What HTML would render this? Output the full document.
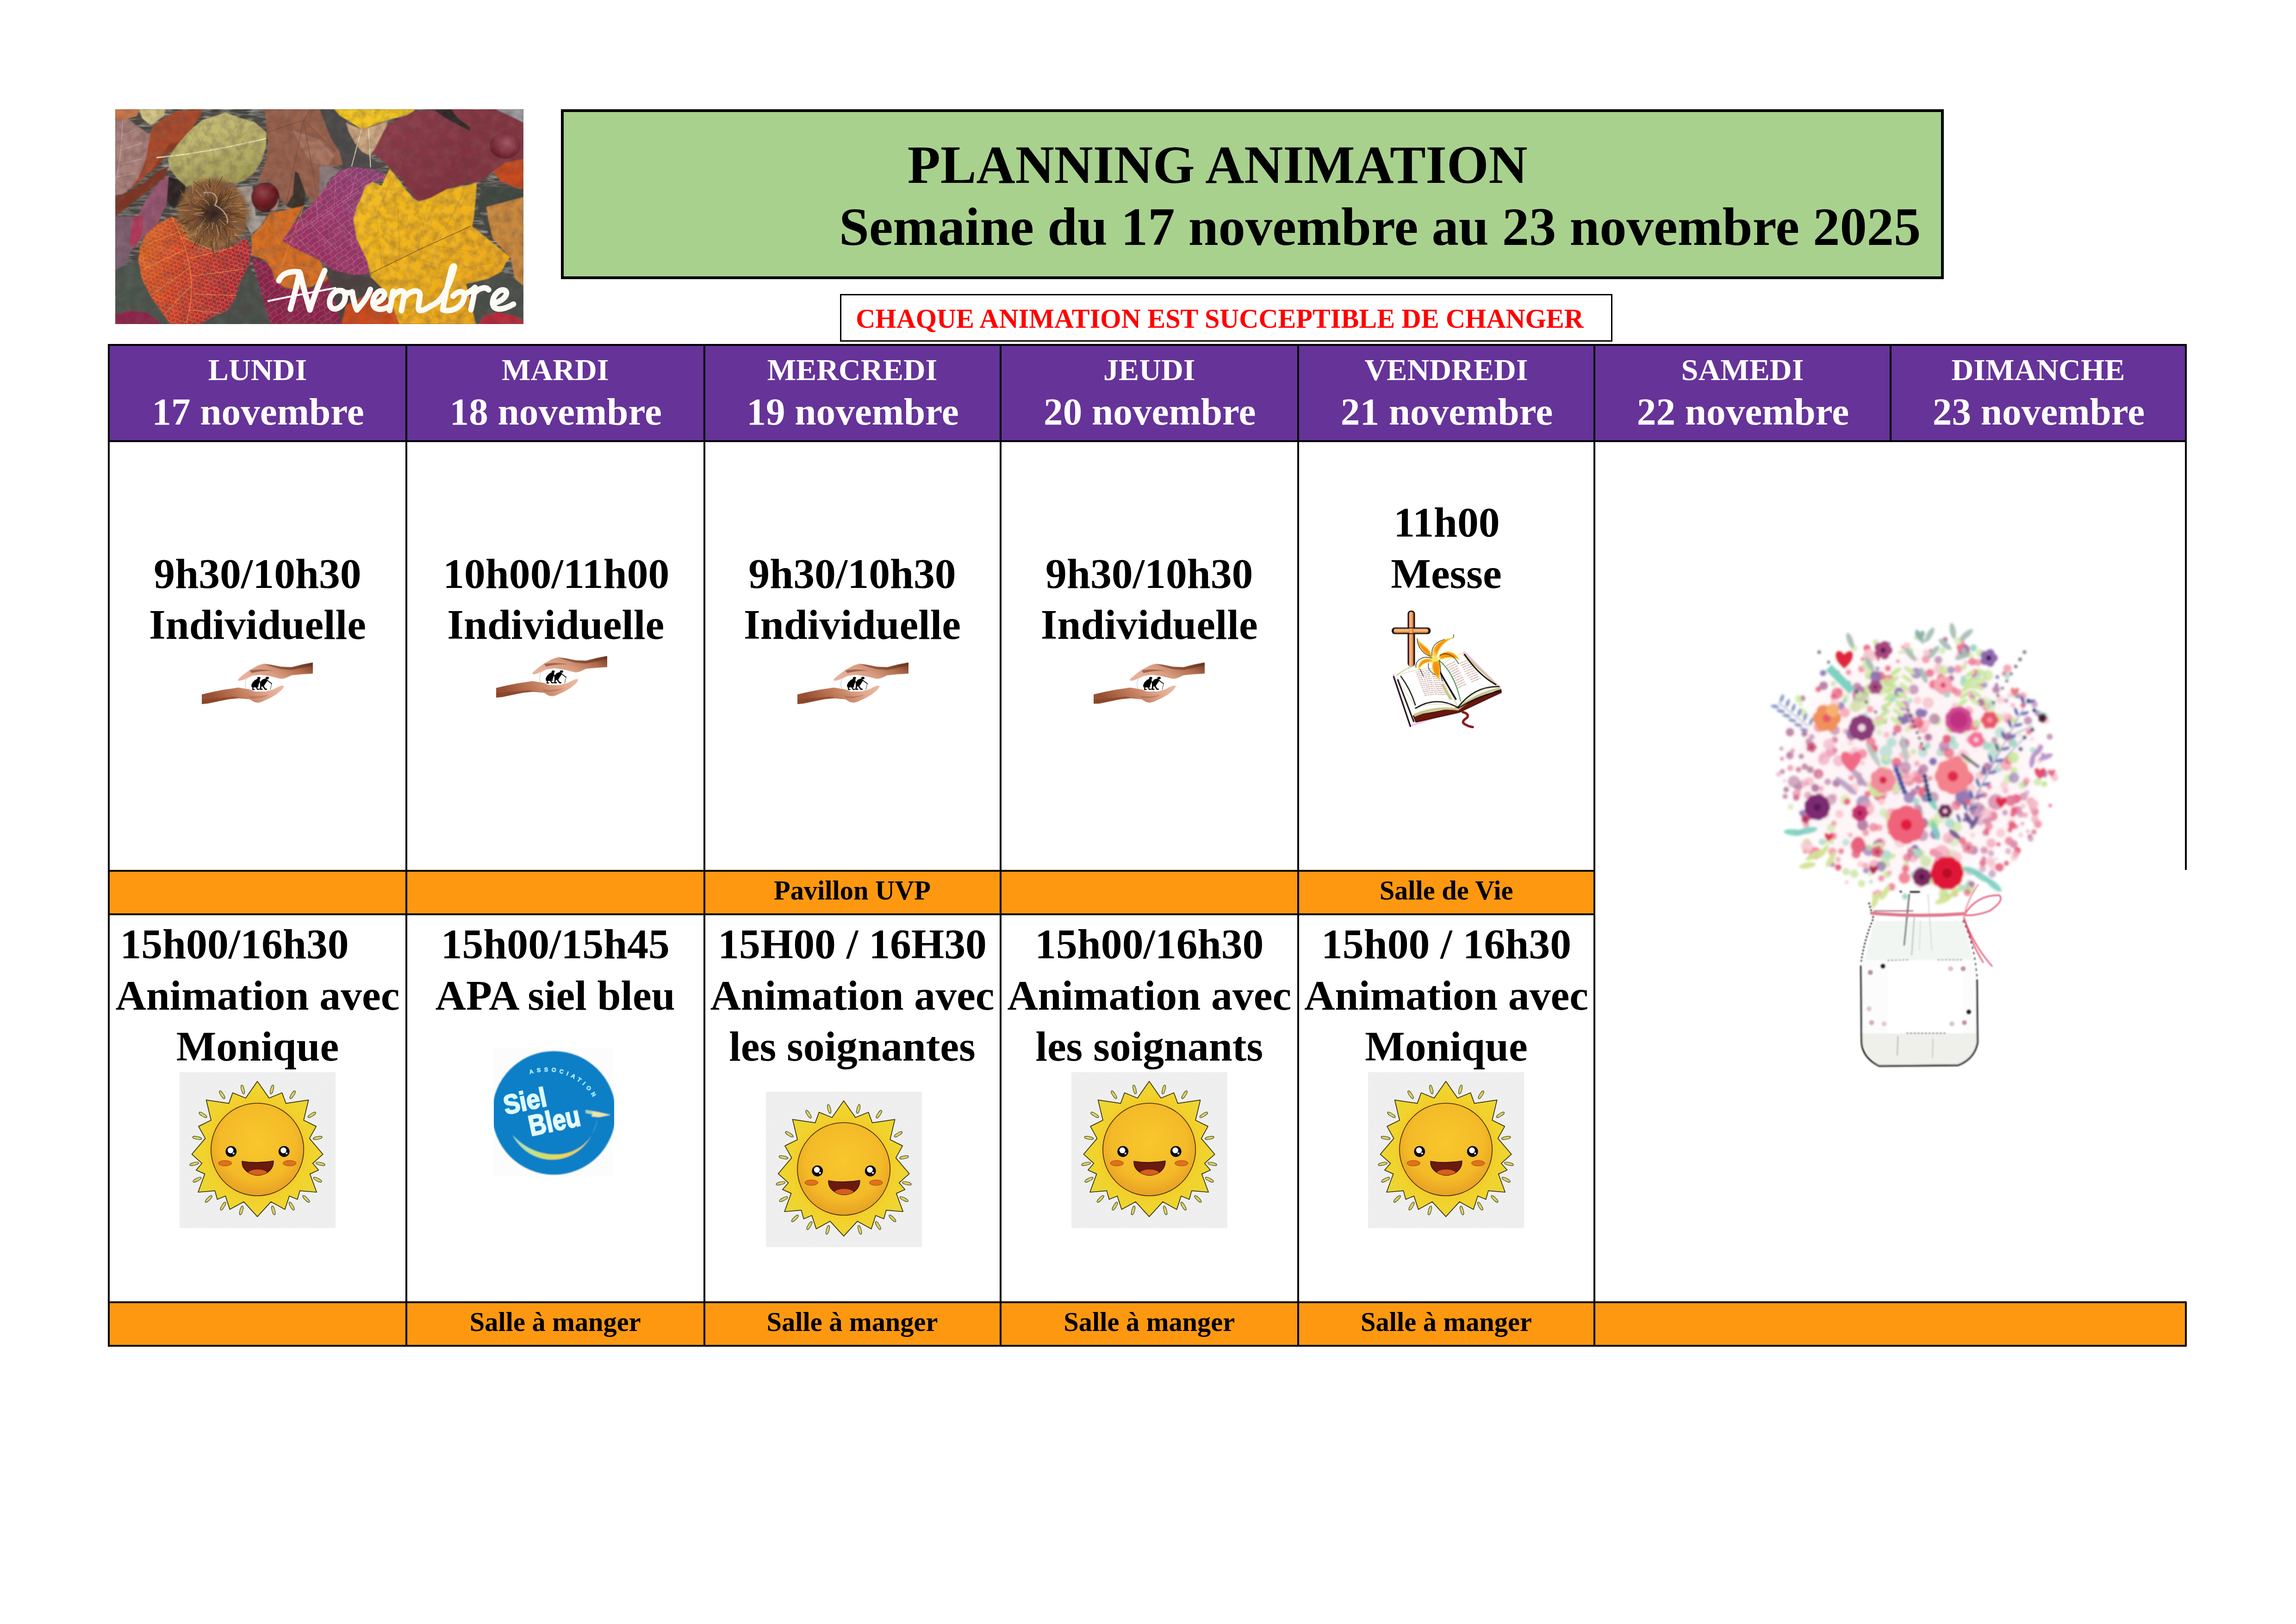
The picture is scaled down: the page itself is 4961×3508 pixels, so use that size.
<!DOCTYPE html>
<html lang="fr"><head><meta charset="utf-8"><title>Planning animation</title>
<style>
html,body{margin:0;padding:0;background:#fff}
body{width:4961px;height:3508px;position:relative;overflow:hidden;font-family:"Liberation Serif",serif;font-weight:bold}
body>div{position:absolute;box-sizing:content-box}
.t{white-space:pre;line-height:1;transform:translateX(-50%)}
svg{display:block;width:100%;height:100%}
</style></head><body>
<div style="left:233px;top:743px;width:4492px;height:208px;background:#663399;"></div>
<div style="left:233px;top:1879px;width:3214px;height:93.5px;background:#FE9810;"></div>
<div style="left:233px;top:2811px;width:4492px;height:93.5px;background:#FE9810;"></div>
<div style="left:233px;top:743px;width:4492px;height:4px;background:#000;"></div>
<div style="left:233px;top:951px;width:4492px;height:4px;background:#000;"></div>
<div style="left:233px;top:1879px;width:3214px;height:4px;background:#000;"></div>
<div style="left:233px;top:1972.5px;width:3214px;height:4px;background:#000;"></div>
<div style="left:233px;top:2811px;width:4492px;height:4px;background:#000;"></div>
<div style="left:233px;top:2904.5px;width:4492px;height:4px;background:#000;"></div>
<div style="left:233px;top:743px;width:4px;height:2165.5px;background:#000;"></div>
<div style="left:876px;top:743px;width:4px;height:2165.5px;background:#000;"></div>
<div style="left:1519.5px;top:743px;width:4px;height:2165.5px;background:#000;"></div>
<div style="left:2159.5px;top:743px;width:4px;height:2165.5px;background:#000;"></div>
<div style="left:2803px;top:743px;width:4px;height:2165.5px;background:#000;"></div>
<div style="left:3443px;top:743px;width:4px;height:2165.5px;background:#000;"></div>
<div style="left:4083px;top:743px;width:4px;height:212px;background:#000;"></div>
<div style="left:4721px;top:743px;width:4px;height:1136px;background:#000;"></div>
<div style="left:4721px;top:2811px;width:4px;height:97.5px;background:#000;"></div>
<div style="left:1212px;top:236px;width:2976px;height:355px;background:#A9D18E;border:6px solid #000"></div>
<div class="t" style="left:2630.7px;top:297.51px;font-size:116.4px;color:#000">PLANNING ANIMATION</div>
<div class="t" style="left:2981.7px;top:431.95px;font-size:116.6px;color:#000">Semaine du 17 novembre au 23 novembre 2025</div>
<div style="left:1815px;top:635px;width:1662.5px;height:97px;background:#fff;border:3.2px solid #000"></div>
<div class="t" style="left:2635.55px;top:660.02px;font-size:58.25px;color:#FF0000">CHAQUE ANIMATION EST SUCCEPTIBLE DE CHANGER</div>
<div class="t" style="left:556.5px;top:765.56px;font-size:66.2px;color:#fff">LUNDI</div>
<div class="t" style="left:557.5px;top:848.32px;font-size:83.2px;color:#fff">17 novembre</div>
<div class="t" style="left:1199.75px;top:765.56px;font-size:66.2px;color:#fff">MARDI</div>
<div class="t" style="left:1200.75px;top:848.32px;font-size:83.2px;color:#fff">18 novembre</div>
<div class="t" style="left:1841.5px;top:765.56px;font-size:66.2px;color:#fff">MERCREDI</div>
<div class="t" style="left:1842.5px;top:848.32px;font-size:83.2px;color:#fff">19 novembre</div>
<div class="t" style="left:2483.25px;top:765.56px;font-size:66.2px;color:#fff">JEUDI</div>
<div class="t" style="left:2484.25px;top:848.32px;font-size:83.2px;color:#fff">20 novembre</div>
<div class="t" style="left:3125.0px;top:765.56px;font-size:66.2px;color:#fff">VENDREDI</div>
<div class="t" style="left:3126.0px;top:848.32px;font-size:83.2px;color:#fff">21 novembre</div>
<div class="t" style="left:3765.0px;top:765.56px;font-size:66.2px;color:#fff">SAMEDI</div>
<div class="t" style="left:3766.0px;top:848.32px;font-size:83.2px;color:#fff">22 novembre</div>
<div class="t" style="left:4404.0px;top:765.56px;font-size:66.2px;color:#fff">DIMANCHE</div>
<div class="t" style="left:4405.0px;top:848.32px;font-size:83.2px;color:#fff">23 novembre</div>
<div class="t" style="left:556.5px;top:1193.70px;font-size:91.7px;color:#000">9h30/10h30</div>
<div class="t" style="left:556.5px;top:1303.70px;font-size:91.7px;color:#000">Individuelle</div>
<div class="t" style="left:1201.75px;top:1193.70px;font-size:91.7px;color:#000">10h00/11h00</div>
<div class="t" style="left:1200.75px;top:1303.70px;font-size:91.7px;color:#000">Individuelle</div>
<div class="t" style="left:1841.5px;top:1193.70px;font-size:91.7px;color:#000">9h30/10h30</div>
<div class="t" style="left:1841.5px;top:1303.70px;font-size:91.7px;color:#000">Individuelle</div>
<div class="t" style="left:2483.25px;top:1193.70px;font-size:91.7px;color:#000">9h30/10h30</div>
<div class="t" style="left:2483.25px;top:1303.70px;font-size:91.7px;color:#000">Individuelle</div>
<div class="t" style="left:3126.0px;top:1082.70px;font-size:91.7px;color:#000">11h00</div>
<div class="t" style="left:3125.0px;top:1193.70px;font-size:91.7px;color:#000">Messe</div>
<div class="t" style="left:506.5px;top:1993.70px;font-size:91.7px;color:#000">15h00/16h30</div>
<div class="t" style="left:556.5px;top:2104.70px;font-size:91.7px;color:#000">Animation avec</div>
<div class="t" style="left:556.5px;top:2215.20px;font-size:91.7px;color:#000">Monique</div>
<div class="t" style="left:1199.75px;top:1993.70px;font-size:91.7px;color:#000">15h00/15h45</div>
<div class="t" style="left:1199.75px;top:2104.70px;font-size:91.7px;color:#000">APA siel bleu</div>
<div class="t" style="left:1841.5px;top:1993.70px;font-size:91.7px;color:#000">15H00 / 16H30</div>
<div class="t" style="left:1841.5px;top:2104.70px;font-size:91.7px;color:#000">Animation avec</div>
<div class="t" style="left:1841.5px;top:2215.20px;font-size:91.7px;color:#000">les soignantes</div>
<div class="t" style="left:2483.25px;top:1993.70px;font-size:91.7px;color:#000">15h00/16h30</div>
<div class="t" style="left:2483.25px;top:2104.70px;font-size:91.7px;color:#000">Animation avec</div>
<div class="t" style="left:2483.25px;top:2215.20px;font-size:91.7px;color:#000">les soignants</div>
<div class="t" style="left:3125.0px;top:1993.70px;font-size:91.7px;color:#000">15h00 / 16h30</div>
<div class="t" style="left:3125.0px;top:2104.70px;font-size:91.7px;color:#000">Animation avec</div>
<div class="t" style="left:3125.0px;top:2215.20px;font-size:91.7px;color:#000">Monique</div>
<div class="t" style="left:1841.5px;top:1895.09px;font-size:58.4px;color:#000">Pavillon UVP</div>
<div class="t" style="left:3125.0px;top:1895.09px;font-size:58.4px;color:#000">Salle de Vie</div>
<div class="t" style="left:1199.75px;top:2827.09px;font-size:58.4px;color:#000">Salle à manger</div>
<div class="t" style="left:1841.5px;top:2827.09px;font-size:58.4px;color:#000">Salle à manger</div>
<div class="t" style="left:2483.25px;top:2827.09px;font-size:58.4px;color:#000">Salle à manger</div>
<div class="t" style="left:3125.0px;top:2827.09px;font-size:58.4px;color:#000">Salle à manger</div>
<div style="left:249px;top:235.5px;width:882px;height:464px"><svg viewBox="0 0 2296 1210" preserveAspectRatio="none">
<defs>
<filter id="pb" x="-5%" y="-5%" width="110%" height="110%"><feGaussianBlur stdDeviation="3.2"/></filter>
<filter id="pb2" x="-5%" y="-5%" width="110%" height="110%"><feGaussianBlur stdDeviation="1.6"/></filter>
<filter id="bark" x="0" y="0" width="100%" height="100%"><feTurbulence type="fractalNoise" baseFrequency="0.012 0.06" numOctaves="3" seed="4" result="n"/><feColorMatrix in="n" type="matrix" values="0 0 0 0 0.55  0 0 0 0 0.56  0 0 0 0 0.54  1.1 1.1 0 0 -0.95"/></filter>
<radialGradient id="husk" cx="50%" cy="50%" r="50%"><stop offset="0" stop-color="#2e2018"/><stop offset="0.28" stop-color="#4a3222"/><stop offset="0.55" stop-color="#7e5432"/><stop offset="0.85" stop-color="#8a6038"/><stop offset="1" stop-color="#8a6038" stop-opacity="0"/></radialGradient>
<radialGradient id="nut" cx="40%" cy="35%" r="70%"><stop offset="0" stop-color="#963a42"/><stop offset="0.55" stop-color="#6c1c22"/><stop offset="1" stop-color="#380a0e"/></radialGradient>
<radialGradient id="nut2" cx="55%" cy="40%" r="70%"><stop offset="0" stop-color="#aa5a68"/><stop offset="0.6" stop-color="#7c2a3a"/><stop offset="1" stop-color="#4a1018"/></radialGradient>
<linearGradient id="redleaf" x1="0" y1="0" x2="1" y2="0.3"><stop offset="0" stop-color="#dc6a26"/><stop offset="0.45" stop-color="#cc3e2c"/><stop offset="1" stop-color="#a8243c"/></linearGradient>
<linearGradient id="yel" x1="0" y1="0" x2="1" y2="1"><stop offset="0" stop-color="#f4be22"/><stop offset="0.6" stop-color="#efb01c"/><stop offset="1" stop-color="#e8a018"/></linearGradient>
<linearGradient id="ygreen" x1="0" y1="0" x2="0.3" y2="1"><stop offset="0" stop-color="#c8c078"/><stop offset="0.5" stop-color="#bdb66c"/><stop offset="1" stop-color="#a39e58"/></linearGradient>
<linearGradient id="mag" x1="0" y1="1" x2="1" y2="0"><stop offset="0" stop-color="#a02c5c"/><stop offset="0.6" stop-color="#9a3a70"/><stop offset="1" stop-color="#8a4478"/></linearGradient>
<linearGradient id="burg" x1="0" y1="0" x2="1" y2="1"><stop offset="0" stop-color="#8e3e4c"/><stop offset="1" stop-color="#7c2e3c"/></linearGradient>
<pattern id="netR" width="52" height="44" patternUnits="userSpaceOnUse" patternTransform="rotate(20)"><path d="M0,0 Q26,10 52,0 M0,22 Q26,32 52,22 M0,44 Q26,54 52,44 M10,2 Q14,12 8,24 M36,6 Q40,16 34,28 M22,26 Q26,36 20,46 M48,24 Q52,34 46,46" fill="none" stroke="#f6a040" stroke-width="3.2"/></pattern>
<pattern id="netM" width="70" height="60" patternUnits="userSpaceOnUse" patternTransform="rotate(-35)"><path d="M0,0 Q35,12 70,0 M0,30 Q35,42 70,30 M0,60 Q35,72 70,60 M14,3 Q20,16 12,32 M48,8 Q54,20 46,36 M30,35 Q36,48 28,62" fill="none" stroke="#d884b0" stroke-width="3"/></pattern>
<filter id="grain" x="0" y="0" width="100%" height="100%"><feTurbulence type="fractalNoise" baseFrequency="0.022" numOctaves="3" seed="9"/><feColorMatrix type="matrix" values="0 0 0 0 0.1  0 0 0 0 0.05  0 0 0 0 0.05  1.4 0 0 0 -0.5"/></filter>
<filter id="grainL" x="0" y="0" width="100%" height="100%"><feTurbulence type="fractalNoise" baseFrequency="0.018" numOctaves="3" seed="21"/><feColorMatrix type="matrix" values="0 0 0 0 1  0 0 0 0 0.95  0 0 0 0 0.85  0 1.3 0 0 -0.5"/></filter>
<clipPath id="pc"><rect width="2296" height="1210"/></clipPath>
</defs>
<g clip-path="url(#pc)">
<rect width="2296" height="1210" fill="#45443f"/>
<rect width="2296" height="1210" filter="url(#bark)"/>
<g filter="url(#pb)">
<!-- ground tints -->
<polygon points="0,904 50,879 130,854 150,954 200,1054 270,1154 310,1210 0,1210" fill="#4a544e"/>
<polygon points="475,1210 550,1169 625,1134 670,1079 710,954 750,884 800,954 825,1054 875,1210" fill="#465048"/>
<polygon points="1148,904 1500,900 1560,1100 1600,1210 1148,1210" fill="#4a4240"/>
<polygon points="1973,984 2098,954 2173,914 2248,954 2296,994 2296,1210 2028,1210" fill="#46504a"/>
<polygon points="2008,600 2098,604 2123,729 2223,834 2100,700 2040,560 2060,430 2250,440 2296,470 2296,540 2090,560" fill="#3c4640"/>
<polygon points="1148,0 1240,0 1310,70 1350,200 1440,280 1530,320 1460,340 1340,325 1280,320 1260,240 1213,165 1148,100" fill="#4a4a4a"/>
<!-- far-left leaves -->
<polygon points="0,500 150,425 240,350 300,320 280,380 200,450 100,525 0,606" fill="#7c3422"/>
<polygon points="0,604 150,604 125,679 100,779 50,879 0,904" fill="#7c5e70"/>
<polygon points="125,606 165,525 220,440 300,370 330,415 310,475 280,550 240,640 180,700 120,760 100,700" fill="#945470"/>
<polygon points="100,606 160,600 150,700 110,780 80,760" fill="#b03858"/>
<!-- orange brown leaf -->
<polygon points="195,145 210,100 280,45 350,10 490,0 480,40 450,75 410,165 350,220 280,260 240,320 165,380 120,430 90,440 150,340 170,280 180,210" fill="#a8482a"/>
<polygon points="300,200 410,165 350,220 280,260 240,320 200,350" fill="#8e3c22"/>
<!-- top-left pink leaf -->
<polygon points="0,60 65,50 125,95 195,145 185,210 172,280 150,340 125,395 90,440 45,475 0,485" fill="#a8807a"/>
<polygon points="0,0 140,0 120,40 60,55 0,60" fill="#c87848"/>
<!-- pale yellow small -->
<polygon points="135,0 285,0 272,40 200,90 150,50" fill="#d2c684"/>
<!-- maple brown -->
<polygon points="840,0 1150,0 1213,165 1263,240 1280,315 1208,320 1178,360 1160,430 1140,565 1070,470 1030,360 1012,350 1000,480 960,545 905,470 870,400 800,410 845,300 860,200 850,100" fill="#96604c"/>
<polygon points="1000,120 1150,170 1230,260 1200,320 1100,300 1040,200" fill="#a87460"/>
<!-- grey scraps -->
<polygon points="675,440 770,430 790,600 850,604 820,654 765,704 730,640 700,520" fill="#a49c96"/>
<polygon points="1148,320 1208,320 1265,345 1198,400 1163,500 1148,560" fill="#8c7c7c"/>
<!-- dark gaps -->
<polygon points="300,380 390,400 400,500 330,560 290,520" fill="#2a2420"/>
<polygon points="1010,350 1030,360 1070,470 1060,545 1000,560 960,545 1000,480" fill="#38302c"/>
<!-- yellow-green leaf -->
<polygon points="295,280 350,200 415,125 490,60 620,18 700,48 780,70 850,130 848,210 825,290 780,360 730,400 675,420 550,400 450,430 400,435 350,390 310,340" fill="url(#ygreen)"/>
<!-- top yellow + beige -->
<polygon points="1298,75 1388,115 1533,65 1518,125 1468,210 1433,260 1388,240 1348,190 1313,125" fill="#cca882"/>
<polygon points="1233,0 1690,0 1648,30 1538,60 1448,90 1388,115 1313,65 1263,35" fill="#f4c820"/>
<!-- burgundy leaves -->
<polygon points="1888,0 2218,0 2248,50 2296,75 2296,280 2198,300 2123,350 2048,410 2018,210 1998,125 1993,100 1928,50" fill="#82343f"/>
<polygon points="2140,0 2296,0 2296,75 2248,50" fill="#9c9ca2"/>
<polygon points="1793,5 1888,0 1928,50 1993,100 1998,125 1948,100 1858,50" fill="#2a2628"/>
<polygon points="1448,245 1528,90 1683,10 1793,5 1858,50 1948,100 1998,125 2018,210 2038,350 2048,410 1973,420 1868,450 1773,500 1698,515 1663,475 1613,395 1548,340 1528,310" fill="url(#burg)"/>
<polygon points="2123,350 2198,300 2296,280 2296,450 2248,440 2173,410" fill="#c8481c"/>
<!-- right tan leaf -->
<polygon points="2088,550 2296,495 2296,994 2248,954 2223,834 2123,729 2098,620" fill="#c8883c"/>
<!-- magenta centre leaf -->
<polygon points="940,740 1000,650 1080,560 1163,470 1210,400 1263,345 1338,325 1458,340 1523,370 1518,400 1448,410 1408,430 1383,500 1358,550 1340,620 1358,729 1418,854 1430,925 1348,934 1223,904 1150,850 1000,780" fill="url(#mag)"/>
<!-- orange leaf -->
<polygon points="765,714 825,654 870,585 1060,545 1000,650 940,740 1000,780 1150,850 1200,960 1100,1000 1020,1015 950,1003 900,964 880,904 850,854 770,819" fill="#d46e24"/>
<!-- bottom magenta -->
<polygon points="765,834 850,864 880,904 900,964 950,1004 1025,1019 1148,1004 1198,954 1273,1210 875,1210 825,1054 800,954" fill="#8a2448"/>
<!-- bottom orange-red leaf -->
<polygon points="1273,1210 1298,1104 1448,1029 1548,1079 1598,1210" fill="#cc4c1e"/>
<polygon points="2048,1210 2073,1164 2148,1144 2248,1164 2296,1194 2296,1210" fill="#b82838"/>
<polygon points="0,1154 75,1134 175,1144 235,1184 250,1210 0,1210" fill="#8a2048"/>
<!-- big yellow leaf -->
<polygon points="1543,335 1598,400 1633,450 1678,505 1708,520 1773,500 1868,450 1973,430 2033,415 2028,500 2018,604 2008,659 2223,834 2198,864 2173,914 2098,954 1973,984 2028,1210 1598,1210 1558,1104 1498,1004 1438,944 1418,854 1358,729 1340,620 1358,550 1383,500 1408,430 1448,410 1498,430" fill="url(#yel)"/>
<!-- red veined leaf -->
<polygon points="130,854 140,769 175,704 240,644 320,604 400,664 450,754 550,794 650,774 740,724 765,804 750,884 710,954 690,1004 670,1079 625,1134 550,1169 475,1210 310,1210 270,1154 200,1054 150,954" fill="url(#redleaf)"/>
<!-- husk -->
<circle cx="550" cy="590" r="215" fill="url(#husk)"/>
<!-- chestnuts -->
<ellipse cx="845" cy="497" rx="80" ry="84" fill="url(#nut)"/>
<path d="M870,570 Q910,545 918,500 Q925,540 900,572 Z" fill="#b88878"/>
<ellipse cx="2193" cy="205" rx="86" ry="74" fill="url(#nut2)"/>
</g>
<!-- fine details -->
<g filter="url(#pb2)" fill="none" stroke-linecap="round">
<path d="M235,272 C420,255 640,215 845,165" stroke="#ece2ba" stroke-width="7"/>
<g stroke="#a8a45e" stroke-width="3" opacity="0.8">
<path d="M330,262 L420,130 M390,255 L480,80 M450,247 L560,45 M520,237 L640,30 M590,225 L710,55 M660,212 L780,80 M730,197 L830,130"/>
<path d="M340,265 L370,380 M400,257 L450,420 M470,246 L540,400 M540,234 L630,415 M610,221 L700,405 M680,207 L770,360 M750,191 L820,290"/>
</g>
<g stroke="#d8c0b8" stroke-width="3" opacity="0.7"><path d="M40,60 C40,200 20,340 0,420 M35,150 L120,110 M30,230 L150,190 M22,310 L150,280 M12,380 L110,360"/></g>
<g stroke="#7c4432" stroke-width="3" opacity="0.8"><path d="M1060,60 L960,540 M1060,60 L1140,520 M1060,60 L860,130 M1060,60 L1240,240 M1060,60 L1100,0"/></g>
<path d="M1385,112 L1330,320 M1425,112 L1436,325" stroke="#e8dcae" stroke-width="5"/>
<path d="M1428,929 L1700,795 L1998,659" stroke="#9a6a30" stroke-width="5"/>
<g stroke="#d09a20" stroke-width="3" opacity="0.9"><path d="M1500,895 L1470,600 L1560,370 M1600,845 L1590,560 M1700,795 L1760,530 M1820,740 L1960,470 M1640,825 L1900,900 L2170,860 M1760,765 L2000,800 M1540,875 L1700,1000 L1800,1200"/></g>
<g stroke="#d080a8" stroke-width="3" opacity="0.75"><path d="M950,735 C1100,650 1300,500 1500,375 M1060,670 L1040,590 M1140,615 L1130,500 M1230,555 L1240,400 M1320,495 L1360,350 M1100,645 L1250,800 M1200,575 L1340,720 M1290,515 L1360,600 M1000,700 L1120,820"/></g>
<g stroke="#f4a040" stroke-width="3.5" opacity="0.85"><path d="M320,610 C420,800 460,1000 400,1200 M360,690 L180,760 M395,790 L160,900 M420,890 L200,1050 M430,990 L280,1150 M380,720 L560,800 M420,840 L660,780 M435,940 L720,900 M430,1040 L680,1050 M415,1130 L600,1150"/></g>
<g stroke="#e89040" stroke-width="3" opacity="0.7"><path d="M900,980 L1060,545 M930,900 L800,780 M960,820 L860,640 M940,870 L1120,900"/></g>
<g stroke-linecap="round" opacity="0.9"><line x1="440" y1="624" x2="373" y2="648" stroke="#503018" stroke-width="4.6"/><line x1="604" y1="725" x2="612" y2="777" stroke="#9a6a3c" stroke-width="2.7"/><line x1="531" y1="643" x2="499" y2="701" stroke="#b08050" stroke-width="4.0"/><line x1="469" y1="652" x2="412" y2="680" stroke="#503018" stroke-width="2.5"/><line x1="498" y1="581" x2="459" y2="586" stroke="#b08050" stroke-width="4.4"/><line x1="495" y1="695" x2="497" y2="738" stroke="#6a4426" stroke-width="3.7"/><line x1="497" y1="503" x2="507" y2="452" stroke="#b08050" stroke-width="4.3"/><line x1="521" y1="658" x2="527" y2="704" stroke="#b08050" stroke-width="3.5"/><line x1="603" y1="513" x2="667" y2="472" stroke="#b08050" stroke-width="3.0"/><line x1="596" y1="567" x2="642" y2="556" stroke="#c09468" stroke-width="2.7"/><line x1="452" y1="487" x2="398" y2="485" stroke="#6a4426" stroke-width="2.5"/><line x1="415" y1="676" x2="374" y2="677" stroke="#b08050" stroke-width="2.6"/><line x1="570" y1="526" x2="583" y2="472" stroke="#9a6a3c" stroke-width="5.0"/><line x1="562" y1="493" x2="560" y2="446" stroke="#9a6a3c" stroke-width="2.5"/><line x1="660" y1="464" x2="734" y2="463" stroke="#b08050" stroke-width="3.0"/><line x1="430" y1="684" x2="413" y2="750" stroke="#9a6a3c" stroke-width="3.0"/><line x1="543" y1="731" x2="559" y2="776" stroke="#b08050" stroke-width="2.7"/><line x1="582" y1="710" x2="600" y2="737" stroke="#503018" stroke-width="3.6"/><line x1="652" y1="563" x2="711" y2="578" stroke="#9a6a3c" stroke-width="4.1"/><line x1="523" y1="658" x2="488" y2="705" stroke="#9a6a3c" stroke-width="4.3"/><line x1="615" y1="565" x2="690" y2="564" stroke="#503018" stroke-width="2.7"/><line x1="606" y1="607" x2="660" y2="609" stroke="#8a5a34" stroke-width="4.3"/><line x1="544" y1="738" x2="562" y2="794" stroke="#9a6a3c" stroke-width="4.8"/><line x1="610" y1="581" x2="662" y2="583" stroke="#503018" stroke-width="4.0"/><line x1="520" y1="747" x2="560" y2="789" stroke="#6a4426" stroke-width="3.5"/><line x1="550" y1="641" x2="549" y2="684" stroke="#9a6a3c" stroke-width="2.7"/><line x1="615" y1="667" x2="631" y2="712" stroke="#503018" stroke-width="4.0"/><line x1="581" y1="628" x2="587" y2="661" stroke="#8a5a34" stroke-width="3.3"/><line x1="667" y1="615" x2="703" y2="589" stroke="#6a4426" stroke-width="3.3"/><line x1="604" y1="590" x2="658" y2="602" stroke="#8a5a34" stroke-width="4.3"/><line x1="664" y1="710" x2="723" y2="710" stroke="#c09468" stroke-width="4.8"/><line x1="617" y1="520" x2="682" y2="494" stroke="#503018" stroke-width="2.5"/><line x1="502" y1="511" x2="465" y2="501" stroke="#b08050" stroke-width="4.1"/><line x1="705" y1="583" x2="767" y2="569" stroke="#8a5a34" stroke-width="4.2"/><line x1="451" y1="617" x2="398" y2="630" stroke="#503018" stroke-width="2.6"/><line x1="465" y1="528" x2="442" y2="492" stroke="#c09468" stroke-width="4.4"/><line x1="493" y1="501" x2="446" y2="448" stroke="#9a6a3c" stroke-width="4.2"/><line x1="569" y1="653" x2="580" y2="724" stroke="#c09468" stroke-width="3.7"/><line x1="555" y1="685" x2="548" y2="727" stroke="#9a6a3c" stroke-width="4.7"/><line x1="462" y1="668" x2="450" y2="718" stroke="#c09468" stroke-width="3.4"/><line x1="590" y1="559" x2="626" y2="557" stroke="#9a6a3c" stroke-width="2.8"/><line x1="392" y1="619" x2="328" y2="644" stroke="#503018" stroke-width="3.7"/><line x1="490" y1="727" x2="465" y2="798" stroke="#b08050" stroke-width="4.6"/><line x1="529" y1="709" x2="538" y2="771" stroke="#6a4426" stroke-width="3.3"/><line x1="562" y1="544" x2="570" y2="509" stroke="#b08050" stroke-width="4.4"/><line x1="535" y1="732" x2="480" y2="786" stroke="#b08050" stroke-width="3.6"/><line x1="463" y1="498" x2="453" y2="423" stroke="#8a5a34" stroke-width="3.0"/><line x1="584" y1="521" x2="628" y2="474" stroke="#503018" stroke-width="4.3"/><line x1="584" y1="661" x2="592" y2="707" stroke="#503018" stroke-width="3.8"/><line x1="615" y1="589" x2="683" y2="601" stroke="#9a6a3c" stroke-width="2.7"/><line x1="673" y1="534" x2="704" y2="516" stroke="#8a5a34" stroke-width="4.7"/><line x1="664" y1="595" x2="723" y2="598" stroke="#6a4426" stroke-width="3.7"/><line x1="509" y1="533" x2="491" y2="471" stroke="#8a5a34" stroke-width="4.8"/><line x1="604" y1="643" x2="653" y2="656" stroke="#6a4426" stroke-width="3.8"/><line x1="572" y1="508" x2="616" y2="448" stroke="#6a4426" stroke-width="3.8"/><line x1="635" y1="610" x2="686" y2="606" stroke="#b08050" stroke-width="3.0"/><line x1="616" y1="517" x2="639" y2="495" stroke="#8a5a34" stroke-width="4.5"/><line x1="590" y1="639" x2="614" y2="688" stroke="#8a5a34" stroke-width="4.2"/><line x1="650" y1="554" x2="703" y2="497" stroke="#9a6a3c" stroke-width="3.6"/><line x1="411" y1="536" x2="350" y2="549" stroke="#503018" stroke-width="4.6"/><line x1="472" y1="559" x2="438" y2="522" stroke="#503018" stroke-width="3.0"/><line x1="648" y1="456" x2="686" y2="418" stroke="#9a6a3c" stroke-width="3.5"/><line x1="584" y1="620" x2="619" y2="652" stroke="#b08050" stroke-width="3.8"/><line x1="432" y1="675" x2="388" y2="708" stroke="#8a5a34" stroke-width="2.9"/><line x1="643" y1="547" x2="717" y2="541" stroke="#c09468" stroke-width="3.2"/><line x1="490" y1="600" x2="440" y2="591" stroke="#c09468" stroke-width="3.8"/><line x1="626" y1="651" x2="659" y2="659" stroke="#8a5a34" stroke-width="4.4"/><line x1="619" y1="600" x2="656" y2="616" stroke="#6a4426" stroke-width="4.3"/><line x1="554" y1="697" x2="549" y2="750" stroke="#503018" stroke-width="4.1"/><line x1="523" y1="460" x2="464" y2="407" stroke="#8a5a34" stroke-width="3.5"/><line x1="486" y1="578" x2="449" y2="564" stroke="#8a5a34" stroke-width="3.0"/><line x1="574" y1="700" x2="615" y2="746" stroke="#8a5a34" stroke-width="4.1"/><line x1="511" y1="645" x2="460" y2="676" stroke="#9a6a3c" stroke-width="3.0"/><line x1="706" y1="588" x2="740" y2="563" stroke="#8a5a34" stroke-width="2.7"/><line x1="474" y1="654" x2="417" y2="698" stroke="#8a5a34" stroke-width="2.8"/><line x1="443" y1="665" x2="433" y2="701" stroke="#8a5a34" stroke-width="3.4"/><line x1="589" y1="509" x2="625" y2="458" stroke="#6a4426" stroke-width="3.8"/><line x1="523" y1="527" x2="492" y2="506" stroke="#b08050" stroke-width="4.4"/><line x1="430" y1="487" x2="372" y2="479" stroke="#b08050" stroke-width="3.0"/><line x1="641" y1="448" x2="634" y2="370" stroke="#b08050" stroke-width="2.8"/><line x1="527" y1="540" x2="508" y2="511" stroke="#c09468" stroke-width="3.8"/><line x1="441" y1="641" x2="408" y2="640" stroke="#9a6a3c" stroke-width="3.0"/><line x1="418" y1="629" x2="382" y2="669" stroke="#9a6a3c" stroke-width="2.7"/><line x1="572" y1="508" x2="600" y2="482" stroke="#8a5a34" stroke-width="4.8"/><line x1="488" y1="561" x2="433" y2="546" stroke="#6a4426" stroke-width="3.2"/><line x1="653" y1="682" x2="652" y2="732" stroke="#9a6a3c" stroke-width="4.7"/><line x1="646" y1="500" x2="710" y2="476" stroke="#c09468" stroke-width="3.0"/><line x1="608" y1="723" x2="658" y2="744" stroke="#6a4426" stroke-width="5.0"/><line x1="592" y1="561" x2="637" y2="555" stroke="#6a4426" stroke-width="3.3"/><line x1="488" y1="492" x2="451" y2="452" stroke="#c09468" stroke-width="4.1"/><line x1="508" y1="456" x2="439" y2="407" stroke="#503018" stroke-width="2.8"/><line x1="558" y1="690" x2="542" y2="743" stroke="#8a5a34" stroke-width="3.4"/><line x1="612" y1="634" x2="668" y2="678" stroke="#503018" stroke-width="3.5"/><line x1="400" y1="570" x2="366" y2="571" stroke="#8a5a34" stroke-width="2.7"/><line x1="436" y1="510" x2="434" y2="463" stroke="#9a6a3c" stroke-width="3.5"/><line x1="699" y1="562" x2="754" y2="561" stroke="#c09468" stroke-width="4.9"/><line x1="453" y1="643" x2="408" y2="680" stroke="#6a4426" stroke-width="3.7"/><line x1="530" y1="750" x2="496" y2="804" stroke="#b08050" stroke-width="2.5"/><line x1="552" y1="640" x2="542" y2="677" stroke="#c09468" stroke-width="2.6"/><line x1="512" y1="677" x2="475" y2="721" stroke="#6a4426" stroke-width="2.7"/><line x1="632" y1="535" x2="691" y2="538" stroke="#9a6a3c" stroke-width="2.6"/><line x1="669" y1="675" x2="746" y2="683" stroke="#9a6a3c" stroke-width="4.0"/><line x1="642" y1="671" x2="696" y2="684" stroke="#b08050" stroke-width="3.4"/><line x1="601" y1="665" x2="626" y2="692" stroke="#503018" stroke-width="3.2"/><line x1="465" y1="542" x2="410" y2="508" stroke="#9a6a3c" stroke-width="4.9"/><line x1="543" y1="516" x2="561" y2="481" stroke="#503018" stroke-width="4.1"/><line x1="500" y1="651" x2="458" y2="695" stroke="#503018" stroke-width="3.0"/><line x1="537" y1="664" x2="523" y2="735" stroke="#8a5a34" stroke-width="4.8"/><line x1="586" y1="556" x2="603" y2="526" stroke="#c09468" stroke-width="2.6"/><line x1="621" y1="607" x2="658" y2="631" stroke="#8a5a34" stroke-width="2.9"/><line x1="566" y1="757" x2="587" y2="806" stroke="#6a4426" stroke-width="3.4"/><line x1="545" y1="440" x2="510" y2="411" stroke="#503018" stroke-width="4.6"/><line x1="562" y1="490" x2="561" y2="426" stroke="#9a6a3c" stroke-width="3.4"/><line x1="454" y1="451" x2="433" y2="412" stroke="#8a5a34" stroke-width="4.6"/><line x1="601" y1="706" x2="627" y2="756" stroke="#6a4426" stroke-width="2.7"/><line x1="650" y1="648" x2="687" y2="686" stroke="#6a4426" stroke-width="4.6"/><line x1="634" y1="595" x2="704" y2="607" stroke="#8a5a34" stroke-width="3.3"/><line x1="529" y1="460" x2="493" y2="425" stroke="#6a4426" stroke-width="4.1"/><line x1="476" y1="730" x2="461" y2="772" stroke="#503018" stroke-width="4.8"/><line x1="698" y1="531" x2="754" y2="543" stroke="#6a4426" stroke-width="3.6"/><line x1="580" y1="753" x2="589" y2="815" stroke="#b08050" stroke-width="3.4"/><line x1="490" y1="658" x2="464" y2="698" stroke="#9a6a3c" stroke-width="4.3"/><line x1="487" y1="659" x2="457" y2="682" stroke="#9a6a3c" stroke-width="2.9"/><line x1="559" y1="435" x2="514" y2="396" stroke="#503018" stroke-width="2.6"/><line x1="595" y1="659" x2="594" y2="694" stroke="#c09468" stroke-width="2.7"/><line x1="413" y1="548" x2="373" y2="575" stroke="#8a5a34" stroke-width="2.8"/><line x1="531" y1="634" x2="529" y2="696" stroke="#8a5a34" stroke-width="3.6"/><line x1="525" y1="487" x2="495" y2="422" stroke="#c09468" stroke-width="3.5"/><line x1="463" y1="731" x2="432" y2="783" stroke="#503018" stroke-width="4.5"/><line x1="660" y1="644" x2="679" y2="675" stroke="#8a5a34" stroke-width="3.4"/><line x1="642" y1="592" x2="676" y2="591" stroke="#503018" stroke-width="4.1"/><line x1="418" y1="570" x2="351" y2="568" stroke="#c09468" stroke-width="4.8"/><line x1="552" y1="655" x2="542" y2="714" stroke="#6a4426" stroke-width="3.0"/><line x1="477" y1="627" x2="431" y2="689" stroke="#6a4426" stroke-width="4.3"/><line x1="529" y1="651" x2="480" y2="706" stroke="#c09468" stroke-width="2.5"/><line x1="406" y1="607" x2="368" y2="640" stroke="#6a4426" stroke-width="3.0"/><line x1="562" y1="724" x2="594" y2="776" stroke="#9a6a3c" stroke-width="4.7"/><line x1="420" y1="681" x2="353" y2="711" stroke="#503018" stroke-width="3.7"/><line x1="540" y1="746" x2="553" y2="817" stroke="#503018" stroke-width="4.4"/><line x1="678" y1="674" x2="732" y2="675" stroke="#9a6a3c" stroke-width="4.5"/><line x1="467" y1="663" x2="440" y2="712" stroke="#b08050" stroke-width="4.1"/><line x1="554" y1="636" x2="564" y2="687" stroke="#9a6a3c" stroke-width="4.3"/><line x1="499" y1="550" x2="465" y2="534" stroke="#6a4426" stroke-width="4.8"/><line x1="573" y1="533" x2="603" y2="477" stroke="#503018" stroke-width="3.8"/><line x1="633" y1="705" x2="627" y2="743" stroke="#9a6a3c" stroke-width="4.6"/><line x1="618" y1="629" x2="684" y2="634" stroke="#c09468" stroke-width="4.2"/><line x1="670" y1="659" x2="717" y2="687" stroke="#b08050" stroke-width="4.5"/><line x1="412" y1="670" x2="369" y2="658" stroke="#9a6a3c" stroke-width="2.6"/><line x1="459" y1="645" x2="379" y2="645" stroke="#6a4426" stroke-width="3.3"/><line x1="624" y1="628" x2="662" y2="664" stroke="#6a4426" stroke-width="2.7"/><line x1="632" y1="689" x2="651" y2="750" stroke="#b08050" stroke-width="4.1"/><line x1="642" y1="597" x2="704" y2="582" stroke="#503018" stroke-width="2.8"/><line x1="571" y1="439" x2="604" y2="377" stroke="#503018" stroke-width="2.9"/><line x1="437" y1="473" x2="434" y2="396" stroke="#c09468" stroke-width="3.9"/><line x1="609" y1="626" x2="658" y2="630" stroke="#6a4426" stroke-width="4.9"/><line x1="425" y1="538" x2="397" y2="494" stroke="#b08050" stroke-width="2.8"/><line x1="506" y1="547" x2="451" y2="522" stroke="#9a6a3c" stroke-width="3.5"/><line x1="612" y1="488" x2="611" y2="450" stroke="#9a6a3c" stroke-width="5.0"/><line x1="421" y1="647" x2="369" y2="637" stroke="#503018" stroke-width="2.8"/><line x1="568" y1="651" x2="585" y2="709" stroke="#c09468" stroke-width="4.1"/><line x1="532" y1="470" x2="550" y2="424" stroke="#9a6a3c" stroke-width="4.2"/><line x1="513" y1="560" x2="474" y2="538" stroke="#8a5a34" stroke-width="3.6"/><line x1="484" y1="565" x2="438" y2="561" stroke="#b08050" stroke-width="4.0"/><line x1="627" y1="708" x2="661" y2="770" stroke="#6a4426" stroke-width="4.0"/><line x1="434" y1="580" x2="401" y2="544" stroke="#8a5a34" stroke-width="4.3"/><line x1="657" y1="545" x2="690" y2="543" stroke="#b08050" stroke-width="2.8"/><line x1="454" y1="603" x2="416" y2="638" stroke="#6a4426" stroke-width="3.2"/><line x1="625" y1="522" x2="657" y2="465" stroke="#503018" stroke-width="3.9"/><line x1="443" y1="547" x2="419" y2="503" stroke="#6a4426" stroke-width="4.0"/><line x1="656" y1="693" x2="658" y2="748" stroke="#9a6a3c" stroke-width="4.4"/><line x1="507" y1="640" x2="457" y2="669" stroke="#c09468" stroke-width="2.6"/><line x1="622" y1="742" x2="633" y2="810" stroke="#6a4426" stroke-width="4.4"/><line x1="641" y1="460" x2="686" y2="422" stroke="#b08050" stroke-width="2.9"/><line x1="508" y1="616" x2="474" y2="660" stroke="#c09468" stroke-width="2.9"/><line x1="473" y1="580" x2="417" y2="585" stroke="#8a5a34" stroke-width="4.5"/><line x1="525" y1="449" x2="516" y2="401" stroke="#b08050" stroke-width="3.7"/><line x1="446" y1="655" x2="383" y2="666" stroke="#6a4426" stroke-width="3.7"/><line x1="700" y1="585" x2="768" y2="573" stroke="#c09468" stroke-width="2.8"/><line x1="672" y1="697" x2="704" y2="728" stroke="#c09468" stroke-width="4.8"/><line x1="528" y1="637" x2="481" y2="682" stroke="#8a5a34" stroke-width="3.4"/><line x1="487" y1="719" x2="422" y2="761" stroke="#9a6a3c" stroke-width="2.8"/><line x1="448" y1="625" x2="418" y2="672" stroke="#8a5a34" stroke-width="2.8"/><line x1="645" y1="529" x2="712" y2="531" stroke="#b08050" stroke-width="5.0"/><line x1="531" y1="437" x2="530" y2="390" stroke="#503018" stroke-width="4.5"/><line x1="574" y1="726" x2="545" y2="784" stroke="#b08050" stroke-width="3.8"/><line x1="656" y1="703" x2="698" y2="740" stroke="#6a4426" stroke-width="3.1"/><line x1="524" y1="672" x2="492" y2="694" stroke="#503018" stroke-width="3.5"/><line x1="477" y1="683" x2="487" y2="726" stroke="#6a4426" stroke-width="3.3"/><line x1="388" y1="592" x2="315" y2="596" stroke="#9a6a3c" stroke-width="3.0"/><line x1="633" y1="488" x2="642" y2="454" stroke="#6a4426" stroke-width="4.7"/><line x1="674" y1="603" x2="734" y2="614" stroke="#503018" stroke-width="4.1"/><line x1="606" y1="735" x2="650" y2="748" stroke="#8a5a34" stroke-width="4.5"/><line x1="627" y1="571" x2="678" y2="583" stroke="#6a4426" stroke-width="4.2"/><line x1="643" y1="552" x2="666" y2="522" stroke="#6a4426" stroke-width="2.8"/><line x1="522" y1="517" x2="499" y2="458" stroke="#6a4426" stroke-width="4.5"/><line x1="461" y1="682" x2="406" y2="726" stroke="#9a6a3c" stroke-width="4.9"/><line x1="604" y1="549" x2="622" y2="510" stroke="#8a5a34" stroke-width="2.7"/><line x1="649" y1="579" x2="703" y2="576" stroke="#b08050" stroke-width="2.5"/><line x1="454" y1="532" x2="415" y2="502" stroke="#9a6a3c" stroke-width="3.2"/><line x1="553" y1="514" x2="557" y2="472" stroke="#9a6a3c" stroke-width="4.5"/><line x1="642" y1="718" x2="637" y2="787" stroke="#503018" stroke-width="3.5"/><line x1="647" y1="544" x2="683" y2="531" stroke="#8a5a34" stroke-width="4.8"/><line x1="505" y1="685" x2="504" y2="719" stroke="#8a5a34" stroke-width="4.2"/><line x1="387" y1="569" x2="355" y2="536" stroke="#9a6a3c" stroke-width="2.8"/><line x1="432" y1="641" x2="392" y2="682" stroke="#8a5a34" stroke-width="4.5"/><line x1="559" y1="696" x2="557" y2="736" stroke="#c09468" stroke-width="3.2"/><line x1="599" y1="749" x2="613" y2="778" stroke="#9a6a3c" stroke-width="3.3"/><line x1="456" y1="514" x2="405" y2="472" stroke="#8a5a34" stroke-width="3.2"/><line x1="566" y1="538" x2="592" y2="472" stroke="#503018" stroke-width="3.9"/><line x1="529" y1="469" x2="517" y2="438" stroke="#8a5a34" stroke-width="3.3"/><line x1="470" y1="514" x2="444" y2="480" stroke="#b08050" stroke-width="4.1"/><line x1="458" y1="584" x2="417" y2="581" stroke="#8a5a34" stroke-width="4.6"/><line x1="562" y1="539" x2="566" y2="490" stroke="#9a6a3c" stroke-width="4.3"/><line x1="609" y1="574" x2="672" y2="563" stroke="#9a6a3c" stroke-width="2.9"/><line x1="417" y1="628" x2="394" y2="658" stroke="#503018" stroke-width="2.9"/><line x1="486" y1="641" x2="467" y2="692" stroke="#b08050" stroke-width="4.2"/><line x1="516" y1="427" x2="482" y2="376" stroke="#b08050" stroke-width="3.9"/><line x1="555" y1="693" x2="571" y2="763" stroke="#6a4426" stroke-width="4.9"/><line x1="614" y1="556" x2="649" y2="543" stroke="#b08050" stroke-width="4.3"/><line x1="405" y1="525" x2="366" y2="454" stroke="#9a6a3c" stroke-width="3.7"/><line x1="432" y1="684" x2="380" y2="690" stroke="#9a6a3c" stroke-width="3.5"/><line x1="553" y1="734" x2="557" y2="800" stroke="#c09468" stroke-width="3.0"/><line x1="468" y1="607" x2="416" y2="584" stroke="#8a5a34" stroke-width="3.0"/><line x1="438" y1="599" x2="396" y2="639" stroke="#6a4426" stroke-width="3.4"/><line x1="543" y1="637" x2="547" y2="675" stroke="#c09468" stroke-width="3.9"/><line x1="507" y1="532" x2="470" y2="520" stroke="#8a5a34" stroke-width="4.8"/><line x1="460" y1="699" x2="392" y2="717" stroke="#b08050" stroke-width="5.0"/><line x1="604" y1="504" x2="631" y2="441" stroke="#6a4426" stroke-width="4.4"/><line x1="499" y1="584" x2="450" y2="591" stroke="#b08050" stroke-width="3.0"/><line x1="489" y1="585" x2="450" y2="586" stroke="#c09468" stroke-width="3.9"/></g>
<path d="M500,470 C560,460 590,500 560,540 C600,560 640,600 630,640" stroke="#b8a898" stroke-width="7"/>
</g>
<polygon points="130,854 140,769 175,704 240,644 320,604 400,664 450,754 550,794 650,774 740,724 765,804 750,884 710,954 690,1004 670,1079 625,1134 550,1169 475,1210 310,1210 270,1154 200,1054 150,954" fill="url(#netR)" opacity="0.6"/>
<polygon points="940,740 1000,650 1080,560 1163,470 1210,400 1263,345 1338,325 1458,340 1523,370 1518,400 1448,410 1408,430 1383,500 1358,550 1340,620 1358,729 1418,854 1430,925 1348,934 1223,904 1150,850 1000,780" fill="url(#netM)" opacity="0.6"/>
<polygon points="765,834 850,864 880,904 900,964 950,1004 1025,1019 1148,1004 1198,954 1273,1210 875,1210 825,1054 800,954" fill="url(#netM)" opacity="0.4"/>
<rect width="2296" height="1210" filter="url(#grain)" opacity="0.5"/>
<rect width="2296" height="1210" filter="url(#grainL)" opacity="0.10"/>
<!-- script word -->
<g transform="translate(835.6,846) scale(0.6292)" fill="none" stroke="#fdfbf6" stroke-linecap="round" stroke-linejoin="round">
<path d="M40,372 C240,330 440,292 640,255" stroke-width="17"/>
<g stroke-width="50">
<path d="M135,190 C160,125 235,100 318,112 C300,230 262,350 238,445"/>
<path d="M325,125 C350,240 385,360 412,452 C450,330 500,200 545,100"/>
<path d="M705,285 C640,255 580,330 590,400 C600,470 690,450 722,370 C735,322 722,290 700,280 C720,300 760,305 790,292"/>
<path d="M790,290 C800,350 812,415 832,452 C880,400 930,335 952,268"/>
<path d="M982,392 C1040,382 1100,332 1072,292 C1040,260 982,310 976,380 C972,440 1030,470 1118,422"/>
<path d="M1156,285 L1125,458 M1142,350 C1185,280 1245,262 1258,305 L1230,458 M1248,350 C1300,280 1375,262 1395,305 C1402,350 1372,420 1384,448 C1394,468 1440,455 1488,418"/>
<path d="M1488,418 C1535,400 1575,370 1605,320 C1650,245 1684,150 1702,80 C1712,55 1690,50 1680,80 C1650,200 1618,340 1600,450 C1680,480 1792,420 1792,320 C1792,282 1742,272 1692,330"/>
<path d="M1790,310 C1830,300 1870,270 1888,250 C1880,320 1865,390 1852,450 M1880,305 C1920,255 1985,240 2010,272"/>
<path d="M2050,392 C2120,382 2192,322 2162,282 C2122,250 2052,310 2046,380 C2040,450 2112,470 2232,400"/>
</g>
</g>
</g>
</svg>
</div>
<div style="left:435.9px;top:1431px;width:240.4px;height:89.7px"><svg viewBox="88 88 2120 794" preserveAspectRatio="none">
<defs>
<filter id="hb" x="-3%" y="-5%" width="106%" height="110%"><feGaussianBlur stdDeviation="5"/></filter>
<filter id="hb2" x="-3%" y="-5%" width="106%" height="110%"><feGaussianBlur stdDeviation="2.5"/></filter>
<linearGradient id="hu" x1="1" y1="0" x2="0" y2="0.4"><stop offset="0" stop-color="#6e3a24"/><stop offset="0.3" stop-color="#b06c4c"/><stop offset="0.65" stop-color="#d99c80"/><stop offset="1" stop-color="#e6b09a"/></linearGradient>
<linearGradient id="hl" x1="0" y1="0" x2="1" y2="-0.2"><stop offset="0" stop-color="#9a5034"/><stop offset="0.35" stop-color="#c07a58"/><stop offset="0.7" stop-color="#e2aa90"/><stop offset="1" stop-color="#ecc0aa"/></linearGradient>
<clipPath id="hc"><rect x="88" y="88" width="2120" height="794"/></clipPath>
</defs>
<g clip-path="url(#hc)">
<g filter="url(#hb)">
<path d="M2215,85 L2000,128 L1800,178 L1600,168 L1400,130 L1270,113 Q1200,125 1150,150 L1000,230 L880,320 L790,400 Q765,425 800,442 L900,412 L1050,345 L1200,322 L1400,352 L1600,402 Q1660,400 1700,380 L1800,332 L2000,312 L2215,300Z" fill="url(#hu)"/>
<path d="M1000,240 Q1200,200 1450,250 Q1250,235 1040,290Z" fill="#8a4e36" opacity="0.75"/>
<path d="M2215,85 L2000,128 L1800,178 L1600,168 L1400,130 L1270,113 L1400,160 L1600,215 L1800,230 L2215,150Z" fill="#5e2e1c" opacity="0.55"/>
<path d="M80,700 L300,650 L500,610 L700,580 Q760,565 800,570 L1000,602 L1100,642 L1300,642 L1450,602 L1550,552 Q1620,520 1650,535 Q1665,555 1600,622 L1500,702 L1400,762 L1250,832 Q1180,860 1150,856 Q1100,850 1080,840 L1000,792 L800,772 L600,792 L400,832 L200,872 L80,885Z" fill="url(#hl)"/>
<path d="M980,720 Q1150,760 1380,700 Q1200,790 1000,770Z" fill="#b0705a" opacity="0.7"/>
<path d="M80,800 L400,770 L700,740 L1000,792 L800,772 L600,792 L400,832 L200,872 L80,885Z" fill="#7a3c24" opacity="0.5"/>
</g>
<g filter="url(#hb2)">
<path d="M935,590 Q890,480 945,395" fill="none" stroke="#8a8a8a" stroke-width="5"/>
<g fill="#050505" stroke="#050505" stroke-linejoin="round" stroke-linecap="round">
<ellipse cx="1175" cy="386" rx="30" ry="22" stroke="none"/>
<path d="M1150,402 L1192,412 L1184,470 L1165,520 L1160,562 L1040,562 L1035,520 L1060,468 L1100,428Z" stroke-width="6"/>
<path d="M1065,560 L1058,604 L1090,604 M1125,560 L1150,602 L1180,600" fill="none" stroke-width="20"/>
<path d="M1180,440 L1215,475" fill="none" stroke-width="14"/>
<ellipse cx="1335" cy="385" rx="32" ry="24" stroke="none"/>
<path d="M1300,398 L1345,424 L1305,482 L1268,540 L1205,545 L1198,470 L1240,420Z" stroke-width="6"/>
<path d="M1255,540 L1298,600 L1320,600 M1215,540 L1202,600 L1235,600" fill="none" stroke-width="24"/>
<path d="M1325,425 L1420,492" fill="none" stroke-width="15"/>
<path d="M1420,492 L1394,602" fill="none" stroke-width="7"/>
</g>
</g>
</g>
</svg>
</div>
<div style="left:1071.9px;top:1417px;width:240.4px;height:89.7px"><svg viewBox="88 88 2120 794" preserveAspectRatio="none">
<defs>
<filter id="hb" x="-3%" y="-5%" width="106%" height="110%"><feGaussianBlur stdDeviation="5"/></filter>
<filter id="hb2" x="-3%" y="-5%" width="106%" height="110%"><feGaussianBlur stdDeviation="2.5"/></filter>
<linearGradient id="hu" x1="1" y1="0" x2="0" y2="0.4"><stop offset="0" stop-color="#6e3a24"/><stop offset="0.3" stop-color="#b06c4c"/><stop offset="0.65" stop-color="#d99c80"/><stop offset="1" stop-color="#e6b09a"/></linearGradient>
<linearGradient id="hl" x1="0" y1="0" x2="1" y2="-0.2"><stop offset="0" stop-color="#9a5034"/><stop offset="0.35" stop-color="#c07a58"/><stop offset="0.7" stop-color="#e2aa90"/><stop offset="1" stop-color="#ecc0aa"/></linearGradient>
<clipPath id="hc"><rect x="88" y="88" width="2120" height="794"/></clipPath>
</defs>
<g clip-path="url(#hc)">
<g filter="url(#hb)">
<path d="M2215,85 L2000,128 L1800,178 L1600,168 L1400,130 L1270,113 Q1200,125 1150,150 L1000,230 L880,320 L790,400 Q765,425 800,442 L900,412 L1050,345 L1200,322 L1400,352 L1600,402 Q1660,400 1700,380 L1800,332 L2000,312 L2215,300Z" fill="url(#hu)"/>
<path d="M1000,240 Q1200,200 1450,250 Q1250,235 1040,290Z" fill="#8a4e36" opacity="0.75"/>
<path d="M2215,85 L2000,128 L1800,178 L1600,168 L1400,130 L1270,113 L1400,160 L1600,215 L1800,230 L2215,150Z" fill="#5e2e1c" opacity="0.55"/>
<path d="M80,700 L300,650 L500,610 L700,580 Q760,565 800,570 L1000,602 L1100,642 L1300,642 L1450,602 L1550,552 Q1620,520 1650,535 Q1665,555 1600,622 L1500,702 L1400,762 L1250,832 Q1180,860 1150,856 Q1100,850 1080,840 L1000,792 L800,772 L600,792 L400,832 L200,872 L80,885Z" fill="url(#hl)"/>
<path d="M980,720 Q1150,760 1380,700 Q1200,790 1000,770Z" fill="#b0705a" opacity="0.7"/>
<path d="M80,800 L400,770 L700,740 L1000,792 L800,772 L600,792 L400,832 L200,872 L80,885Z" fill="#7a3c24" opacity="0.5"/>
</g>
<g filter="url(#hb2)">
<path d="M935,590 Q890,480 945,395" fill="none" stroke="#8a8a8a" stroke-width="5"/>
<g fill="#050505" stroke="#050505" stroke-linejoin="round" stroke-linecap="round">
<ellipse cx="1175" cy="386" rx="30" ry="22" stroke="none"/>
<path d="M1150,402 L1192,412 L1184,470 L1165,520 L1160,562 L1040,562 L1035,520 L1060,468 L1100,428Z" stroke-width="6"/>
<path d="M1065,560 L1058,604 L1090,604 M1125,560 L1150,602 L1180,600" fill="none" stroke-width="20"/>
<path d="M1180,440 L1215,475" fill="none" stroke-width="14"/>
<ellipse cx="1335" cy="385" rx="32" ry="24" stroke="none"/>
<path d="M1300,398 L1345,424 L1305,482 L1268,540 L1205,545 L1198,470 L1240,420Z" stroke-width="6"/>
<path d="M1255,540 L1298,600 L1320,600 M1215,540 L1202,600 L1235,600" fill="none" stroke-width="24"/>
<path d="M1325,425 L1420,492" fill="none" stroke-width="15"/>
<path d="M1420,492 L1394,602" fill="none" stroke-width="7"/>
</g>
</g>
</g>
</svg>
</div>
<div style="left:1722.6px;top:1431px;width:240.4px;height:89.7px"><svg viewBox="88 88 2120 794" preserveAspectRatio="none">
<defs>
<filter id="hb" x="-3%" y="-5%" width="106%" height="110%"><feGaussianBlur stdDeviation="5"/></filter>
<filter id="hb2" x="-3%" y="-5%" width="106%" height="110%"><feGaussianBlur stdDeviation="2.5"/></filter>
<linearGradient id="hu" x1="1" y1="0" x2="0" y2="0.4"><stop offset="0" stop-color="#6e3a24"/><stop offset="0.3" stop-color="#b06c4c"/><stop offset="0.65" stop-color="#d99c80"/><stop offset="1" stop-color="#e6b09a"/></linearGradient>
<linearGradient id="hl" x1="0" y1="0" x2="1" y2="-0.2"><stop offset="0" stop-color="#9a5034"/><stop offset="0.35" stop-color="#c07a58"/><stop offset="0.7" stop-color="#e2aa90"/><stop offset="1" stop-color="#ecc0aa"/></linearGradient>
<clipPath id="hc"><rect x="88" y="88" width="2120" height="794"/></clipPath>
</defs>
<g clip-path="url(#hc)">
<g filter="url(#hb)">
<path d="M2215,85 L2000,128 L1800,178 L1600,168 L1400,130 L1270,113 Q1200,125 1150,150 L1000,230 L880,320 L790,400 Q765,425 800,442 L900,412 L1050,345 L1200,322 L1400,352 L1600,402 Q1660,400 1700,380 L1800,332 L2000,312 L2215,300Z" fill="url(#hu)"/>
<path d="M1000,240 Q1200,200 1450,250 Q1250,235 1040,290Z" fill="#8a4e36" opacity="0.75"/>
<path d="M2215,85 L2000,128 L1800,178 L1600,168 L1400,130 L1270,113 L1400,160 L1600,215 L1800,230 L2215,150Z" fill="#5e2e1c" opacity="0.55"/>
<path d="M80,700 L300,650 L500,610 L700,580 Q760,565 800,570 L1000,602 L1100,642 L1300,642 L1450,602 L1550,552 Q1620,520 1650,535 Q1665,555 1600,622 L1500,702 L1400,762 L1250,832 Q1180,860 1150,856 Q1100,850 1080,840 L1000,792 L800,772 L600,792 L400,832 L200,872 L80,885Z" fill="url(#hl)"/>
<path d="M980,720 Q1150,760 1380,700 Q1200,790 1000,770Z" fill="#b0705a" opacity="0.7"/>
<path d="M80,800 L400,770 L700,740 L1000,792 L800,772 L600,792 L400,832 L200,872 L80,885Z" fill="#7a3c24" opacity="0.5"/>
</g>
<g filter="url(#hb2)">
<path d="M935,590 Q890,480 945,395" fill="none" stroke="#8a8a8a" stroke-width="5"/>
<g fill="#050505" stroke="#050505" stroke-linejoin="round" stroke-linecap="round">
<ellipse cx="1175" cy="386" rx="30" ry="22" stroke="none"/>
<path d="M1150,402 L1192,412 L1184,470 L1165,520 L1160,562 L1040,562 L1035,520 L1060,468 L1100,428Z" stroke-width="6"/>
<path d="M1065,560 L1058,604 L1090,604 M1125,560 L1150,602 L1180,600" fill="none" stroke-width="20"/>
<path d="M1180,440 L1215,475" fill="none" stroke-width="14"/>
<ellipse cx="1335" cy="385" rx="32" ry="24" stroke="none"/>
<path d="M1300,398 L1345,424 L1305,482 L1268,540 L1205,545 L1198,470 L1240,420Z" stroke-width="6"/>
<path d="M1255,540 L1298,600 L1320,600 M1215,540 L1202,600 L1235,600" fill="none" stroke-width="24"/>
<path d="M1325,425 L1420,492" fill="none" stroke-width="15"/>
<path d="M1420,492 L1394,602" fill="none" stroke-width="7"/>
</g>
</g>
</g>
</svg>
</div>
<div style="left:2363px;top:1430.5px;width:240.4px;height:89.7px"><svg viewBox="88 88 2120 794" preserveAspectRatio="none">
<defs>
<filter id="hb" x="-3%" y="-5%" width="106%" height="110%"><feGaussianBlur stdDeviation="5"/></filter>
<filter id="hb2" x="-3%" y="-5%" width="106%" height="110%"><feGaussianBlur stdDeviation="2.5"/></filter>
<linearGradient id="hu" x1="1" y1="0" x2="0" y2="0.4"><stop offset="0" stop-color="#6e3a24"/><stop offset="0.3" stop-color="#b06c4c"/><stop offset="0.65" stop-color="#d99c80"/><stop offset="1" stop-color="#e6b09a"/></linearGradient>
<linearGradient id="hl" x1="0" y1="0" x2="1" y2="-0.2"><stop offset="0" stop-color="#9a5034"/><stop offset="0.35" stop-color="#c07a58"/><stop offset="0.7" stop-color="#e2aa90"/><stop offset="1" stop-color="#ecc0aa"/></linearGradient>
<clipPath id="hc"><rect x="88" y="88" width="2120" height="794"/></clipPath>
</defs>
<g clip-path="url(#hc)">
<g filter="url(#hb)">
<path d="M2215,85 L2000,128 L1800,178 L1600,168 L1400,130 L1270,113 Q1200,125 1150,150 L1000,230 L880,320 L790,400 Q765,425 800,442 L900,412 L1050,345 L1200,322 L1400,352 L1600,402 Q1660,400 1700,380 L1800,332 L2000,312 L2215,300Z" fill="url(#hu)"/>
<path d="M1000,240 Q1200,200 1450,250 Q1250,235 1040,290Z" fill="#8a4e36" opacity="0.75"/>
<path d="M2215,85 L2000,128 L1800,178 L1600,168 L1400,130 L1270,113 L1400,160 L1600,215 L1800,230 L2215,150Z" fill="#5e2e1c" opacity="0.55"/>
<path d="M80,700 L300,650 L500,610 L700,580 Q760,565 800,570 L1000,602 L1100,642 L1300,642 L1450,602 L1550,552 Q1620,520 1650,535 Q1665,555 1600,622 L1500,702 L1400,762 L1250,832 Q1180,860 1150,856 Q1100,850 1080,840 L1000,792 L800,772 L600,792 L400,832 L200,872 L80,885Z" fill="url(#hl)"/>
<path d="M980,720 Q1150,760 1380,700 Q1200,790 1000,770Z" fill="#b0705a" opacity="0.7"/>
<path d="M80,800 L400,770 L700,740 L1000,792 L800,772 L600,792 L400,832 L200,872 L80,885Z" fill="#7a3c24" opacity="0.5"/>
</g>
<g filter="url(#hb2)">
<path d="M935,590 Q890,480 945,395" fill="none" stroke="#8a8a8a" stroke-width="5"/>
<g fill="#050505" stroke="#050505" stroke-linejoin="round" stroke-linecap="round">
<ellipse cx="1175" cy="386" rx="30" ry="22" stroke="none"/>
<path d="M1150,402 L1192,412 L1184,470 L1165,520 L1160,562 L1040,562 L1035,520 L1060,468 L1100,428Z" stroke-width="6"/>
<path d="M1065,560 L1058,604 L1090,604 M1125,560 L1150,602 L1180,600" fill="none" stroke-width="20"/>
<path d="M1180,440 L1215,475" fill="none" stroke-width="14"/>
<ellipse cx="1335" cy="385" rx="32" ry="24" stroke="none"/>
<path d="M1300,398 L1345,424 L1305,482 L1268,540 L1205,545 L1198,470 L1240,420Z" stroke-width="6"/>
<path d="M1255,540 L1298,600 L1320,600 M1215,540 L1202,600 L1235,600" fill="none" stroke-width="24"/>
<path d="M1325,425 L1420,492" fill="none" stroke-width="15"/>
<path d="M1420,492 L1394,602" fill="none" stroke-width="7"/>
</g>
</g>
</g>
</svg>
</div>
<div style="left:3005.5px;top:1316.5px;width:239.3px;height:256.8px"><svg viewBox="90 67 1388 1489" preserveAspectRatio="none">
<defs><filter id="bb" x="-3%" y="-3%" width="106%" height="106%"><feGaussianBlur stdDeviation="2.2"/></filter><linearGradient id="cv" x1="0" y1="0" x2="1" y2="0"><stop offset="0" stop-color="#e8874a"/><stop offset="0.35" stop-color="#f6c070"/><stop offset="0.6" stop-color="#f2a858"/><stop offset="1" stop-color="#c86a30"/></linearGradient><linearGradient id="ch" x1="0" y1="0" x2="0" y2="1"><stop offset="0" stop-color="#f0a0b0"/><stop offset="0.3" stop-color="#f6c070"/><stop offset="0.7" stop-color="#f2a858"/><stop offset="1" stop-color="#c86a30"/></linearGradient><radialGradient id="pt" cx="50%" cy="50%" r="60%"><stop offset="0" stop-color="#f88a08"/><stop offset="0.7" stop-color="#f89a18"/><stop offset="1" stop-color="#f8d848"/></radialGradient></defs>
<g filter="url(#bb)" stroke-linecap="round" stroke-linejoin="round">
<rect x="296" y="78" width="92" height="700" rx="40" fill="#140c08"/>
<rect x="312" y="92" width="58" height="690" rx="28" fill="url(#cv)"/>
<rect x="318" y="100" width="14" height="670" rx="7" fill="#f4a8c0" opacity="0.8"/>
<rect x="96" y="290" width="488" height="82" rx="38" fill="#140c08"/>
<rect x="122" y="304" width="432" height="54" rx="22" fill="url(#ch)"/>
<rect x="312" y="300" width="58" height="62" fill="url(#cv)"/>
<path d="M120,880 L330,1520 L400,1500 L1470,1110 L1450,1040 L1010,600 L980,620" fill="none" stroke="#f2b4e4" stroke-width="22" opacity="0.8"/>
<path d="M365,1395 L905,1298 L1462,1062 L1472,1102 L945,1352 L398,1475Z" fill="#6a1810" stroke="#3a0c08" stroke-width="10"/>
<path d="M372,1372 Q650,1260 905,1300 Q1150,1100 1450,1040 L1462,1066 Q1160,1130 930,1330 Q660,1290 380,1410Z" fill="#c9c68a"/>
<path d="M150,892 Q420,800 690,800 L925,1292 Q650,1200 395,1300Z" fill="#fff" stroke="#d8d4a0" stroke-width="6"/>
<path d="M690,800 Q850,640 1000,610 L1442,1030 Q1150,1060 930,1292Z" fill="#fff" stroke="#d8d4a0" stroke-width="6"/>
<path d="M1000,610 L1442,1030 L1400,1010 L990,640Z" fill="#c9c68a"/>
<line x1="400" y1="850" x2="410" y2="849" stroke="#8a4434" stroke-width="8" opacity="0.6"/>
<line x1="427" y1="847" x2="446" y2="844" stroke="#8a4434" stroke-width="8" opacity="0.6"/>
<line x1="457" y1="843" x2="472" y2="841" stroke="#8a4434" stroke-width="8" opacity="0.6"/>
<line x1="485" y1="839" x2="503" y2="837" stroke="#8a4434" stroke-width="8" opacity="0.6"/>
<line x1="520" y1="835" x2="529" y2="834" stroke="#8a4434" stroke-width="8" opacity="0.6"/>
<line x1="537" y1="833" x2="557" y2="830" stroke="#8a4434" stroke-width="8" opacity="0.6"/>
<line x1="409" y1="874" x2="428" y2="872" stroke="#8a4434" stroke-width="8" opacity="0.6"/>
<line x1="436" y1="871" x2="451" y2="869" stroke="#8a4434" stroke-width="8" opacity="0.6"/>
<line x1="467" y1="867" x2="478" y2="866" stroke="#8a4434" stroke-width="8" opacity="0.6"/>
<line x1="497" y1="863" x2="518" y2="861" stroke="#8a4434" stroke-width="8" opacity="0.6"/>
<line x1="526" y1="860" x2="534" y2="859" stroke="#8a4434" stroke-width="8" opacity="0.6"/>
<line x1="548" y1="857" x2="569" y2="854" stroke="#8a4434" stroke-width="8" opacity="0.6"/>
<line x1="418" y1="898" x2="429" y2="897" stroke="#8a4434" stroke-width="8" opacity="0.6"/>
<line x1="442" y1="895" x2="451" y2="894" stroke="#8a4434" stroke-width="8" opacity="0.6"/>
<line x1="461" y1="893" x2="475" y2="891" stroke="#8a4434" stroke-width="8" opacity="0.6"/>
<line x1="489" y1="890" x2="500" y2="888" stroke="#8a4434" stroke-width="8" opacity="0.6"/>
<line x1="511" y1="887" x2="522" y2="885" stroke="#8a4434" stroke-width="8" opacity="0.6"/>
<line x1="535" y1="884" x2="547" y2="882" stroke="#8a4434" stroke-width="8" opacity="0.6"/>
<line x1="556" y1="881" x2="576" y2="879" stroke="#8a4434" stroke-width="8" opacity="0.6"/>
<line x1="428" y1="922" x2="445" y2="920" stroke="#8a4434" stroke-width="8" opacity="0.6"/>
<line x1="455" y1="919" x2="477" y2="916" stroke="#8a4434" stroke-width="8" opacity="0.6"/>
<line x1="495" y1="914" x2="504" y2="913" stroke="#8a4434" stroke-width="8" opacity="0.6"/>
<line x1="516" y1="911" x2="535" y2="909" stroke="#8a4434" stroke-width="8" opacity="0.6"/>
<line x1="551" y1="907" x2="572" y2="904" stroke="#8a4434" stroke-width="8" opacity="0.6"/>
<line x1="585" y1="903" x2="588" y2="902" stroke="#8a4434" stroke-width="8" opacity="0.6"/>
<line x1="437" y1="947" x2="449" y2="945" stroke="#8a4434" stroke-width="8" opacity="0.6"/>
<line x1="464" y1="943" x2="484" y2="941" stroke="#8a4434" stroke-width="8" opacity="0.6"/>
<line x1="502" y1="939" x2="517" y2="937" stroke="#8a4434" stroke-width="8" opacity="0.6"/>
<line x1="532" y1="935" x2="540" y2="934" stroke="#8a4434" stroke-width="8" opacity="0.6"/>
<line x1="551" y1="932" x2="570" y2="930" stroke="#8a4434" stroke-width="8" opacity="0.6"/>
<line x1="583" y1="928" x2="594" y2="927" stroke="#8a4434" stroke-width="8" opacity="0.6"/>
<line x1="446" y1="971" x2="464" y2="969" stroke="#8a4434" stroke-width="8" opacity="0.6"/>
<line x1="480" y1="967" x2="493" y2="965" stroke="#8a4434" stroke-width="8" opacity="0.6"/>
<line x1="506" y1="963" x2="521" y2="961" stroke="#8a4434" stroke-width="8" opacity="0.6"/>
<line x1="538" y1="959" x2="553" y2="957" stroke="#8a4434" stroke-width="8" opacity="0.6"/>
<line x1="566" y1="956" x2="581" y2="954" stroke="#8a4434" stroke-width="8" opacity="0.6"/>
<line x1="589" y1="953" x2="598" y2="952" stroke="#8a4434" stroke-width="8" opacity="0.6"/>
<line x1="455" y1="995" x2="477" y2="992" stroke="#8a4434" stroke-width="8" opacity="0.6"/>
<line x1="492" y1="990" x2="505" y2="989" stroke="#8a4434" stroke-width="8" opacity="0.6"/>
<line x1="515" y1="987" x2="531" y2="986" stroke="#8a4434" stroke-width="8" opacity="0.6"/>
<line x1="550" y1="983" x2="569" y2="981" stroke="#8a4434" stroke-width="8" opacity="0.6"/>
<line x1="583" y1="979" x2="603" y2="976" stroke="#8a4434" stroke-width="8" opacity="0.6"/>
<line x1="614" y1="975" x2="615" y2="975" stroke="#8a4434" stroke-width="8" opacity="0.6"/>
<line x1="464" y1="1019" x2="480" y2="1017" stroke="#8a4434" stroke-width="8" opacity="0.6"/>
<line x1="494" y1="1015" x2="506" y2="1014" stroke="#8a4434" stroke-width="8" opacity="0.6"/>
<line x1="520" y1="1012" x2="541" y2="1010" stroke="#8a4434" stroke-width="8" opacity="0.6"/>
<line x1="549" y1="1009" x2="569" y2="1006" stroke="#8a4434" stroke-width="8" opacity="0.6"/>
<line x1="586" y1="1004" x2="607" y2="1001" stroke="#8a4434" stroke-width="8" opacity="0.6"/>
<line x1="623" y1="999" x2="624" y2="999" stroke="#8a4434" stroke-width="8" opacity="0.6"/>
<line x1="473" y1="1043" x2="489" y2="1041" stroke="#8a4434" stroke-width="8" opacity="0.6"/>
<line x1="502" y1="1040" x2="511" y2="1039" stroke="#8a4434" stroke-width="8" opacity="0.6"/>
<line x1="529" y1="1036" x2="545" y2="1034" stroke="#8a4434" stroke-width="8" opacity="0.6"/>
<line x1="555" y1="1033" x2="570" y2="1031" stroke="#8a4434" stroke-width="8" opacity="0.6"/>
<line x1="584" y1="1030" x2="597" y2="1028" stroke="#8a4434" stroke-width="8" opacity="0.6"/>
<line x1="609" y1="1026" x2="625" y2="1024" stroke="#8a4434" stroke-width="8" opacity="0.6"/>
<line x1="482" y1="1068" x2="499" y2="1065" stroke="#8a4434" stroke-width="8" opacity="0.6"/>
<line x1="512" y1="1064" x2="521" y2="1063" stroke="#8a4434" stroke-width="8" opacity="0.6"/>
<line x1="531" y1="1061" x2="542" y2="1060" stroke="#8a4434" stroke-width="8" opacity="0.6"/>
<line x1="557" y1="1058" x2="577" y2="1056" stroke="#8a4434" stroke-width="8" opacity="0.6"/>
<line x1="594" y1="1054" x2="613" y2="1051" stroke="#8a4434" stroke-width="8" opacity="0.6"/>
<line x1="630" y1="1049" x2="642" y2="1048" stroke="#8a4434" stroke-width="8" opacity="0.6"/>
<line x1="492" y1="1092" x2="509" y2="1089" stroke="#8a4434" stroke-width="8" opacity="0.6"/>
<line x1="518" y1="1088" x2="527" y2="1087" stroke="#8a4434" stroke-width="8" opacity="0.6"/>
<line x1="535" y1="1086" x2="554" y2="1084" stroke="#8a4434" stroke-width="8" opacity="0.6"/>
<line x1="564" y1="1083" x2="574" y2="1081" stroke="#8a4434" stroke-width="8" opacity="0.6"/>
<line x1="589" y1="1080" x2="602" y2="1078" stroke="#8a4434" stroke-width="8" opacity="0.6"/>
<line x1="611" y1="1077" x2="621" y2="1076" stroke="#8a4434" stroke-width="8" opacity="0.6"/>
<line x1="635" y1="1074" x2="645" y2="1072" stroke="#8a4434" stroke-width="8" opacity="0.6"/>
<line x1="501" y1="1116" x2="519" y2="1114" stroke="#8a4434" stroke-width="8" opacity="0.6"/>
<line x1="532" y1="1112" x2="545" y2="1110" stroke="#8a4434" stroke-width="8" opacity="0.6"/>
<line x1="558" y1="1109" x2="566" y2="1108" stroke="#8a4434" stroke-width="8" opacity="0.6"/>
<line x1="579" y1="1106" x2="593" y2="1104" stroke="#8a4434" stroke-width="8" opacity="0.6"/>
<line x1="603" y1="1103" x2="613" y2="1102" stroke="#8a4434" stroke-width="8" opacity="0.6"/>
<line x1="631" y1="1100" x2="646" y2="1098" stroke="#8a4434" stroke-width="8" opacity="0.6"/>
<line x1="656" y1="1096" x2="661" y2="1096" stroke="#8a4434" stroke-width="8" opacity="0.6"/>
<line x1="510" y1="1140" x2="518" y2="1139" stroke="#8a4434" stroke-width="8" opacity="0.6"/>
<line x1="526" y1="1138" x2="537" y2="1137" stroke="#8a4434" stroke-width="8" opacity="0.6"/>
<line x1="553" y1="1135" x2="563" y2="1133" stroke="#8a4434" stroke-width="8" opacity="0.6"/>
<line x1="579" y1="1131" x2="597" y2="1129" stroke="#8a4434" stroke-width="8" opacity="0.6"/>
<line x1="611" y1="1127" x2="622" y2="1126" stroke="#8a4434" stroke-width="8" opacity="0.6"/>
<line x1="641" y1="1124" x2="660" y2="1121" stroke="#8a4434" stroke-width="8" opacity="0.6"/>
<line x1="600" y1="880" x2="618" y2="879" stroke="#8a4434" stroke-width="8" opacity="0.6"/>
<line x1="633" y1="879" x2="640" y2="878" stroke="#8a4434" stroke-width="8" opacity="0.6"/>
<line x1="647" y1="878" x2="664" y2="878" stroke="#8a4434" stroke-width="8" opacity="0.6"/>
<line x1="677" y1="877" x2="691" y2="876" stroke="#8a4434" stroke-width="8" opacity="0.6"/>
<line x1="700" y1="876" x2="714" y2="876" stroke="#8a4434" stroke-width="8" opacity="0.6"/>
<line x1="726" y1="875" x2="730" y2="875" stroke="#8a4434" stroke-width="8" opacity="0.6"/>
<line x1="608" y1="905" x2="620" y2="905" stroke="#8a4434" stroke-width="8" opacity="0.6"/>
<line x1="630" y1="904" x2="645" y2="904" stroke="#8a4434" stroke-width="8" opacity="0.6"/>
<line x1="660" y1="903" x2="678" y2="902" stroke="#8a4434" stroke-width="8" opacity="0.6"/>
<line x1="689" y1="902" x2="701" y2="901" stroke="#8a4434" stroke-width="8" opacity="0.6"/>
<line x1="710" y1="901" x2="717" y2="901" stroke="#8a4434" stroke-width="8" opacity="0.6"/>
<line x1="724" y1="901" x2="735" y2="900" stroke="#8a4434" stroke-width="8" opacity="0.6"/>
<line x1="616" y1="930" x2="627" y2="930" stroke="#8a4434" stroke-width="8" opacity="0.6"/>
<line x1="642" y1="929" x2="654" y2="929" stroke="#8a4434" stroke-width="8" opacity="0.6"/>
<line x1="666" y1="928" x2="675" y2="928" stroke="#8a4434" stroke-width="8" opacity="0.6"/>
<line x1="682" y1="927" x2="692" y2="927" stroke="#8a4434" stroke-width="8" opacity="0.6"/>
<line x1="700" y1="927" x2="712" y2="926" stroke="#8a4434" stroke-width="8" opacity="0.6"/>
<line x1="728" y1="926" x2="742" y2="925" stroke="#8a4434" stroke-width="8" opacity="0.6"/>
<line x1="624" y1="955" x2="641" y2="954" stroke="#8a4434" stroke-width="8" opacity="0.6"/>
<line x1="655" y1="954" x2="670" y2="953" stroke="#8a4434" stroke-width="8" opacity="0.6"/>
<line x1="685" y1="953" x2="700" y2="952" stroke="#8a4434" stroke-width="8" opacity="0.6"/>
<line x1="714" y1="952" x2="724" y2="951" stroke="#8a4434" stroke-width="8" opacity="0.6"/>
<line x1="740" y1="951" x2="754" y2="950" stroke="#8a4434" stroke-width="8" opacity="0.6"/>
<line x1="632" y1="980" x2="647" y2="979" stroke="#8a4434" stroke-width="8" opacity="0.6"/>
<line x1="660" y1="979" x2="672" y2="978" stroke="#8a4434" stroke-width="8" opacity="0.6"/>
<line x1="684" y1="978" x2="696" y2="978" stroke="#8a4434" stroke-width="8" opacity="0.6"/>
<line x1="711" y1="977" x2="723" y2="976" stroke="#8a4434" stroke-width="8" opacity="0.6"/>
<line x1="737" y1="976" x2="748" y2="976" stroke="#8a4434" stroke-width="8" opacity="0.6"/>
<line x1="640" y1="1005" x2="657" y2="1004" stroke="#8a4434" stroke-width="8" opacity="0.6"/>
<line x1="668" y1="1004" x2="681" y2="1003" stroke="#8a4434" stroke-width="8" opacity="0.6"/>
<line x1="696" y1="1003" x2="711" y2="1002" stroke="#8a4434" stroke-width="8" opacity="0.6"/>
<line x1="722" y1="1002" x2="731" y2="1002" stroke="#8a4434" stroke-width="8" opacity="0.6"/>
<line x1="740" y1="1001" x2="755" y2="1001" stroke="#8a4434" stroke-width="8" opacity="0.6"/>
<line x1="763" y1="1000" x2="770" y2="1000" stroke="#8a4434" stroke-width="8" opacity="0.6"/>
<line x1="648" y1="1030" x2="665" y2="1029" stroke="#8a4434" stroke-width="8" opacity="0.6"/>
<line x1="674" y1="1029" x2="692" y2="1028" stroke="#8a4434" stroke-width="8" opacity="0.6"/>
<line x1="705" y1="1028" x2="718" y2="1027" stroke="#8a4434" stroke-width="8" opacity="0.6"/>
<line x1="729" y1="1027" x2="743" y2="1026" stroke="#8a4434" stroke-width="8" opacity="0.6"/>
<line x1="755" y1="1026" x2="765" y2="1026" stroke="#8a4434" stroke-width="8" opacity="0.6"/>
<line x1="773" y1="1025" x2="778" y2="1025" stroke="#8a4434" stroke-width="8" opacity="0.6"/>
<line x1="656" y1="1055" x2="670" y2="1054" stroke="#8a4434" stroke-width="8" opacity="0.6"/>
<line x1="677" y1="1054" x2="693" y2="1054" stroke="#8a4434" stroke-width="8" opacity="0.6"/>
<line x1="706" y1="1053" x2="723" y2="1052" stroke="#8a4434" stroke-width="8" opacity="0.6"/>
<line x1="732" y1="1052" x2="747" y2="1052" stroke="#8a4434" stroke-width="8" opacity="0.6"/>
<line x1="754" y1="1051" x2="768" y2="1051" stroke="#8a4434" stroke-width="8" opacity="0.6"/>
<line x1="777" y1="1050" x2="786" y2="1050" stroke="#8a4434" stroke-width="8" opacity="0.6"/>
<line x1="664" y1="1080" x2="672" y2="1080" stroke="#8a4434" stroke-width="8" opacity="0.6"/>
<line x1="683" y1="1079" x2="699" y2="1079" stroke="#8a4434" stroke-width="8" opacity="0.6"/>
<line x1="708" y1="1078" x2="717" y2="1078" stroke="#8a4434" stroke-width="8" opacity="0.6"/>
<line x1="732" y1="1077" x2="743" y2="1077" stroke="#8a4434" stroke-width="8" opacity="0.6"/>
<line x1="756" y1="1076" x2="763" y2="1076" stroke="#8a4434" stroke-width="8" opacity="0.6"/>
<line x1="773" y1="1076" x2="781" y2="1075" stroke="#8a4434" stroke-width="8" opacity="0.6"/>
<line x1="794" y1="1075" x2="794" y2="1075" stroke="#8a4434" stroke-width="8" opacity="0.6"/>
<line x1="672" y1="1105" x2="679" y2="1105" stroke="#8a4434" stroke-width="8" opacity="0.6"/>
<line x1="692" y1="1104" x2="699" y2="1104" stroke="#8a4434" stroke-width="8" opacity="0.6"/>
<line x1="708" y1="1104" x2="724" y2="1103" stroke="#8a4434" stroke-width="8" opacity="0.6"/>
<line x1="731" y1="1103" x2="740" y2="1102" stroke="#8a4434" stroke-width="8" opacity="0.6"/>
<line x1="753" y1="1102" x2="764" y2="1101" stroke="#8a4434" stroke-width="8" opacity="0.6"/>
<line x1="771" y1="1101" x2="789" y2="1101" stroke="#8a4434" stroke-width="8" opacity="0.6"/>
<line x1="797" y1="1100" x2="802" y2="1100" stroke="#8a4434" stroke-width="8" opacity="0.6"/>
<line x1="680" y1="1130" x2="694" y2="1129" stroke="#8a4434" stroke-width="8" opacity="0.6"/>
<line x1="707" y1="1129" x2="715" y2="1129" stroke="#8a4434" stroke-width="8" opacity="0.6"/>
<line x1="724" y1="1128" x2="731" y2="1128" stroke="#8a4434" stroke-width="8" opacity="0.6"/>
<line x1="742" y1="1128" x2="757" y2="1127" stroke="#8a4434" stroke-width="8" opacity="0.6"/>
<line x1="770" y1="1127" x2="788" y2="1126" stroke="#8a4434" stroke-width="8" opacity="0.6"/>
<line x1="801" y1="1125" x2="810" y2="1125" stroke="#8a4434" stroke-width="8" opacity="0.6"/>
<line x1="780" y1="770" x2="788" y2="766" stroke="#8a4434" stroke-width="8" opacity="0.6"/>
<line x1="794" y1="763" x2="804" y2="758" stroke="#8a4434" stroke-width="8" opacity="0.6"/>
<line x1="810" y1="755" x2="816" y2="752" stroke="#8a4434" stroke-width="8" opacity="0.6"/>
<line x1="825" y1="748" x2="840" y2="740" stroke="#8a4434" stroke-width="8" opacity="0.6"/>
<line x1="851" y1="734" x2="864" y2="728" stroke="#8a4434" stroke-width="8" opacity="0.6"/>
<line x1="872" y1="724" x2="882" y2="719" stroke="#8a4434" stroke-width="8" opacity="0.6"/>
<line x1="890" y1="715" x2="890" y2="715" stroke="#8a4434" stroke-width="8" opacity="0.6"/>
<line x1="794" y1="798" x2="802" y2="794" stroke="#8a4434" stroke-width="8" opacity="0.6"/>
<line x1="814" y1="788" x2="828" y2="781" stroke="#8a4434" stroke-width="8" opacity="0.6"/>
<line x1="840" y1="775" x2="853" y2="768" stroke="#8a4434" stroke-width="8" opacity="0.6"/>
<line x1="860" y1="765" x2="869" y2="761" stroke="#8a4434" stroke-width="8" opacity="0.6"/>
<line x1="879" y1="756" x2="892" y2="749" stroke="#8a4434" stroke-width="8" opacity="0.6"/>
<line x1="904" y1="743" x2="904" y2="743" stroke="#8a4434" stroke-width="8" opacity="0.6"/>
<line x1="808" y1="826" x2="819" y2="820" stroke="#8a4434" stroke-width="8" opacity="0.6"/>
<line x1="830" y1="815" x2="841" y2="810" stroke="#8a4434" stroke-width="8" opacity="0.6"/>
<line x1="848" y1="806" x2="858" y2="801" stroke="#8a4434" stroke-width="8" opacity="0.6"/>
<line x1="864" y1="798" x2="879" y2="791" stroke="#8a4434" stroke-width="8" opacity="0.6"/>
<line x1="891" y1="785" x2="902" y2="779" stroke="#8a4434" stroke-width="8" opacity="0.6"/>
<line x1="910" y1="775" x2="918" y2="771" stroke="#8a4434" stroke-width="8" opacity="0.6"/>
<line x1="822" y1="854" x2="836" y2="847" stroke="#8a4434" stroke-width="8" opacity="0.6"/>
<line x1="848" y1="841" x2="859" y2="836" stroke="#8a4434" stroke-width="8" opacity="0.6"/>
<line x1="867" y1="831" x2="879" y2="826" stroke="#8a4434" stroke-width="8" opacity="0.6"/>
<line x1="888" y1="821" x2="895" y2="818" stroke="#8a4434" stroke-width="8" opacity="0.6"/>
<line x1="903" y1="814" x2="916" y2="807" stroke="#8a4434" stroke-width="8" opacity="0.6"/>
<line x1="922" y1="804" x2="928" y2="801" stroke="#8a4434" stroke-width="8" opacity="0.6"/>
<line x1="836" y1="882" x2="844" y2="878" stroke="#8a4434" stroke-width="8" opacity="0.6"/>
<line x1="854" y1="873" x2="864" y2="868" stroke="#8a4434" stroke-width="8" opacity="0.6"/>
<line x1="872" y1="864" x2="888" y2="856" stroke="#8a4434" stroke-width="8" opacity="0.6"/>
<line x1="895" y1="853" x2="904" y2="848" stroke="#8a4434" stroke-width="8" opacity="0.6"/>
<line x1="911" y1="844" x2="923" y2="839" stroke="#8a4434" stroke-width="8" opacity="0.6"/>
<line x1="931" y1="835" x2="940" y2="830" stroke="#8a4434" stroke-width="8" opacity="0.6"/>
<line x1="850" y1="910" x2="859" y2="906" stroke="#8a4434" stroke-width="8" opacity="0.6"/>
<line x1="868" y1="901" x2="883" y2="894" stroke="#8a4434" stroke-width="8" opacity="0.6"/>
<line x1="889" y1="890" x2="895" y2="887" stroke="#8a4434" stroke-width="8" opacity="0.6"/>
<line x1="903" y1="884" x2="916" y2="877" stroke="#8a4434" stroke-width="8" opacity="0.6"/>
<line x1="926" y1="872" x2="934" y2="868" stroke="#8a4434" stroke-width="8" opacity="0.6"/>
<line x1="942" y1="864" x2="949" y2="860" stroke="#8a4434" stroke-width="8" opacity="0.6"/>
<line x1="958" y1="856" x2="960" y2="855" stroke="#8a4434" stroke-width="8" opacity="0.6"/>
<line x1="864" y1="938" x2="878" y2="931" stroke="#8a4434" stroke-width="8" opacity="0.6"/>
<line x1="891" y1="924" x2="904" y2="918" stroke="#8a4434" stroke-width="8" opacity="0.6"/>
<line x1="917" y1="912" x2="923" y2="909" stroke="#8a4434" stroke-width="8" opacity="0.6"/>
<line x1="930" y1="905" x2="945" y2="897" stroke="#8a4434" stroke-width="8" opacity="0.6"/>
<line x1="957" y1="892" x2="966" y2="887" stroke="#8a4434" stroke-width="8" opacity="0.6"/>
<line x1="878" y1="966" x2="890" y2="960" stroke="#8a4434" stroke-width="8" opacity="0.6"/>
<line x1="901" y1="954" x2="910" y2="950" stroke="#8a4434" stroke-width="8" opacity="0.6"/>
<line x1="917" y1="947" x2="927" y2="942" stroke="#8a4434" stroke-width="8" opacity="0.6"/>
<line x1="933" y1="938" x2="943" y2="934" stroke="#8a4434" stroke-width="8" opacity="0.6"/>
<line x1="955" y1="927" x2="964" y2="923" stroke="#8a4434" stroke-width="8" opacity="0.6"/>
<line x1="970" y1="920" x2="976" y2="917" stroke="#8a4434" stroke-width="8" opacity="0.6"/>
<line x1="983" y1="914" x2="988" y2="911" stroke="#8a4434" stroke-width="8" opacity="0.6"/>
<line x1="892" y1="994" x2="900" y2="990" stroke="#8a4434" stroke-width="8" opacity="0.6"/>
<line x1="907" y1="987" x2="922" y2="979" stroke="#8a4434" stroke-width="8" opacity="0.6"/>
<line x1="931" y1="975" x2="938" y2="971" stroke="#8a4434" stroke-width="8" opacity="0.6"/>
<line x1="944" y1="968" x2="950" y2="965" stroke="#8a4434" stroke-width="8" opacity="0.6"/>
<line x1="957" y1="962" x2="969" y2="955" stroke="#8a4434" stroke-width="8" opacity="0.6"/>
<line x1="976" y1="952" x2="982" y2="949" stroke="#8a4434" stroke-width="8" opacity="0.6"/>
<line x1="991" y1="944" x2="999" y2="941" stroke="#8a4434" stroke-width="8" opacity="0.6"/>
<line x1="906" y1="1022" x2="913" y2="1019" stroke="#8a4434" stroke-width="8" opacity="0.6"/>
<line x1="922" y1="1014" x2="935" y2="1007" stroke="#8a4434" stroke-width="8" opacity="0.6"/>
<line x1="944" y1="1003" x2="959" y2="995" stroke="#8a4434" stroke-width="8" opacity="0.6"/>
<line x1="969" y1="991" x2="976" y2="987" stroke="#8a4434" stroke-width="8" opacity="0.6"/>
<line x1="985" y1="982" x2="991" y2="980" stroke="#8a4434" stroke-width="8" opacity="0.6"/>
<line x1="1000" y1="975" x2="1008" y2="971" stroke="#8a4434" stroke-width="8" opacity="0.6"/>
<line x1="920" y1="1050" x2="934" y2="1043" stroke="#8a4434" stroke-width="8" opacity="0.6"/>
<line x1="943" y1="1038" x2="949" y2="1036" stroke="#8a4434" stroke-width="8" opacity="0.6"/>
<line x1="956" y1="1032" x2="964" y2="1028" stroke="#8a4434" stroke-width="8" opacity="0.6"/>
<line x1="971" y1="1024" x2="979" y2="1020" stroke="#8a4434" stroke-width="8" opacity="0.6"/>
<line x1="991" y1="1014" x2="998" y2="1011" stroke="#8a4434" stroke-width="8" opacity="0.6"/>
<line x1="1004" y1="1008" x2="1019" y2="1001" stroke="#8a4434" stroke-width="8" opacity="0.6"/>
<line x1="1029" y1="996" x2="1030" y2="995" stroke="#8a4434" stroke-width="8" opacity="0.6"/>
<line x1="950" y1="740" x2="962" y2="735" stroke="#8a4434" stroke-width="8" opacity="0.6"/>
<line x1="973" y1="731" x2="986" y2="725" stroke="#8a4434" stroke-width="8" opacity="0.6"/>
<line x1="999" y1="720" x2="1012" y2="715" stroke="#8a4434" stroke-width="8" opacity="0.6"/>
<line x1="1024" y1="710" x2="1030" y2="707" stroke="#8a4434" stroke-width="8" opacity="0.6"/>
<line x1="1039" y1="703" x2="1054" y2="697" stroke="#8a4434" stroke-width="8" opacity="0.6"/>
<line x1="967" y1="766" x2="981" y2="760" stroke="#8a4434" stroke-width="8" opacity="0.6"/>
<line x1="987" y1="757" x2="998" y2="753" stroke="#8a4434" stroke-width="8" opacity="0.6"/>
<line x1="1005" y1="750" x2="1016" y2="745" stroke="#8a4434" stroke-width="8" opacity="0.6"/>
<line x1="1026" y1="741" x2="1031" y2="739" stroke="#8a4434" stroke-width="8" opacity="0.6"/>
<line x1="1039" y1="736" x2="1047" y2="733" stroke="#8a4434" stroke-width="8" opacity="0.6"/>
<line x1="1059" y1="728" x2="1073" y2="722" stroke="#8a4434" stroke-width="8" opacity="0.6"/>
<line x1="983" y1="791" x2="997" y2="786" stroke="#8a4434" stroke-width="8" opacity="0.6"/>
<line x1="1003" y1="783" x2="1015" y2="778" stroke="#8a4434" stroke-width="8" opacity="0.6"/>
<line x1="1021" y1="776" x2="1027" y2="773" stroke="#8a4434" stroke-width="8" opacity="0.6"/>
<line x1="1039" y1="768" x2="1047" y2="765" stroke="#8a4434" stroke-width="8" opacity="0.6"/>
<line x1="1054" y1="762" x2="1069" y2="756" stroke="#8a4434" stroke-width="8" opacity="0.6"/>
<line x1="1081" y1="751" x2="1090" y2="748" stroke="#8a4434" stroke-width="8" opacity="0.6"/>
<line x1="1000" y1="817" x2="1011" y2="812" stroke="#8a4434" stroke-width="8" opacity="0.6"/>
<line x1="1022" y1="808" x2="1029" y2="805" stroke="#8a4434" stroke-width="8" opacity="0.6"/>
<line x1="1042" y1="800" x2="1054" y2="795" stroke="#8a4434" stroke-width="8" opacity="0.6"/>
<line x1="1067" y1="789" x2="1081" y2="783" stroke="#8a4434" stroke-width="8" opacity="0.6"/>
<line x1="1089" y1="780" x2="1098" y2="776" stroke="#8a4434" stroke-width="8" opacity="0.6"/>
<line x1="1105" y1="774" x2="1110" y2="772" stroke="#8a4434" stroke-width="8" opacity="0.6"/>
<line x1="1017" y1="842" x2="1025" y2="839" stroke="#8a4434" stroke-width="8" opacity="0.6"/>
<line x1="1035" y1="835" x2="1041" y2="832" stroke="#8a4434" stroke-width="8" opacity="0.6"/>
<line x1="1052" y1="828" x2="1060" y2="824" stroke="#8a4434" stroke-width="8" opacity="0.6"/>
<line x1="1068" y1="821" x2="1082" y2="816" stroke="#8a4434" stroke-width="8" opacity="0.6"/>
<line x1="1091" y1="812" x2="1100" y2="808" stroke="#8a4434" stroke-width="8" opacity="0.6"/>
<line x1="1109" y1="804" x2="1121" y2="799" stroke="#8a4434" stroke-width="8" opacity="0.6"/>
<line x1="1033" y1="868" x2="1048" y2="862" stroke="#8a4434" stroke-width="8" opacity="0.6"/>
<line x1="1054" y1="859" x2="1067" y2="854" stroke="#8a4434" stroke-width="8" opacity="0.6"/>
<line x1="1079" y1="849" x2="1085" y2="847" stroke="#8a4434" stroke-width="8" opacity="0.6"/>
<line x1="1096" y1="842" x2="1105" y2="838" stroke="#8a4434" stroke-width="8" opacity="0.6"/>
<line x1="1115" y1="834" x2="1121" y2="832" stroke="#8a4434" stroke-width="8" opacity="0.6"/>
<line x1="1127" y1="830" x2="1134" y2="827" stroke="#8a4434" stroke-width="8" opacity="0.6"/>
<line x1="1050" y1="893" x2="1057" y2="890" stroke="#8a4434" stroke-width="8" opacity="0.6"/>
<line x1="1069" y1="886" x2="1083" y2="880" stroke="#8a4434" stroke-width="8" opacity="0.6"/>
<line x1="1096" y1="874" x2="1105" y2="871" stroke="#8a4434" stroke-width="8" opacity="0.6"/>
<line x1="1113" y1="867" x2="1124" y2="863" stroke="#8a4434" stroke-width="8" opacity="0.6"/>
<line x1="1136" y1="858" x2="1142" y2="856" stroke="#8a4434" stroke-width="8" opacity="0.6"/>
<line x1="1153" y1="851" x2="1160" y2="848" stroke="#8a4434" stroke-width="8" opacity="0.6"/>
<line x1="1067" y1="919" x2="1073" y2="916" stroke="#8a4434" stroke-width="8" opacity="0.6"/>
<line x1="1085" y1="911" x2="1092" y2="909" stroke="#8a4434" stroke-width="8" opacity="0.6"/>
<line x1="1100" y1="905" x2="1111" y2="901" stroke="#8a4434" stroke-width="8" opacity="0.6"/>
<line x1="1124" y1="895" x2="1133" y2="892" stroke="#8a4434" stroke-width="8" opacity="0.6"/>
<line x1="1145" y1="887" x2="1156" y2="882" stroke="#8a4434" stroke-width="8" opacity="0.6"/>
<line x1="1164" y1="879" x2="1173" y2="875" stroke="#8a4434" stroke-width="8" opacity="0.6"/>
<line x1="1083" y1="944" x2="1090" y2="942" stroke="#8a4434" stroke-width="8" opacity="0.6"/>
<line x1="1096" y1="939" x2="1109" y2="934" stroke="#8a4434" stroke-width="8" opacity="0.6"/>
<line x1="1122" y1="929" x2="1129" y2="926" stroke="#8a4434" stroke-width="8" opacity="0.6"/>
<line x1="1135" y1="923" x2="1150" y2="917" stroke="#8a4434" stroke-width="8" opacity="0.6"/>
<line x1="1160" y1="913" x2="1169" y2="909" stroke="#8a4434" stroke-width="8" opacity="0.6"/>
<line x1="1176" y1="906" x2="1188" y2="902" stroke="#8a4434" stroke-width="8" opacity="0.6"/>
<line x1="1100" y1="970" x2="1110" y2="966" stroke="#8a4434" stroke-width="8" opacity="0.6"/>
<line x1="1119" y1="962" x2="1125" y2="960" stroke="#8a4434" stroke-width="8" opacity="0.6"/>
<line x1="1137" y1="955" x2="1143" y2="952" stroke="#8a4434" stroke-width="8" opacity="0.6"/>
<line x1="1152" y1="949" x2="1166" y2="943" stroke="#8a4434" stroke-width="8" opacity="0.6"/>
<line x1="1173" y1="940" x2="1186" y2="935" stroke="#8a4434" stroke-width="8" opacity="0.6"/>
<line x1="1198" y1="930" x2="1210" y2="925" stroke="#8a4434" stroke-width="8" opacity="0.6"/>
<path d="M690,830 L900,1188" fill="none" stroke="#0c0808" stroke-width="20"/>
<path d="M745,1000 L860,1190 L820,1195 L720,1010Z" fill="#c9c68a"/>
<path d="M210,900 Q330,1060 392,1260" fill="none" stroke="#0c0808" stroke-width="14"/>
<path d="M120,905 L330,1528 M172,945 L372,1468" fill="none" stroke="#0c0808" stroke-width="17"/>
<path d="M1010,628 Q1180,880 1400,1005" fill="none" stroke="#0c0808" stroke-width="17"/>
<path d="M395,1302 Q650,1140 925,1292 Q1130,1020 1442,1030" fill="none" stroke="#0c0808" stroke-width="15"/>
<path d="M930,1300 Q1200,1130 1462,1085" fill="none" stroke="#0c0808" stroke-width="13"/>
<path d="M160,882 Q300,790 400,760" fill="none" stroke="#b8b480" stroke-width="8"/>
<path d="M985,1348 Q1075,1372 1040,1420 Q960,1470 1010,1500 Q1060,1530 1112,1538" fill="none" stroke="#8a1616" stroke-width="30"/>
<path d="M690,700 Q880,860 960,1212" fill="none" stroke="#157a28" stroke-width="9"/>
<path d="M640,690 C560,640 450,600 415,430 C470,520 585,545 588,640Z" fill="url(#pt)" stroke="#f8dc50" stroke-width="10"/>
<path d="M618,652 C595,520 700,440 862,420 C760,470 695,525 662,642Z" fill="url(#pt)" stroke="#f8dc50" stroke-width="10"/>
<path d="M688,652 C760,560 880,580 942,692 C860,650 760,662 700,694Z" fill="url(#pt)" stroke="#f8dc50" stroke-width="10"/>
<path d="M604,688 C500,660 418,722 430,822 C470,742 540,712 612,722Z" fill="url(#pt)" stroke="#f8dc50" stroke-width="10"/>
<path d="M640,692 C575,742 600,852 692,942 C690,852 722,762 682,702Z" fill="url(#pt)" stroke="#f8dc50" stroke-width="10"/>
<circle cx="642" cy="684" r="36" fill="#f8e468"/>
<path d="M415,430 C420,560 520,640 590,650" fill="none" stroke="#14100c" stroke-width="7"/>
<path d="M862,420 C880,410 870,390 872,380" fill="none" stroke="#14100c" stroke-width="7"/>
<path d="M600,640 C590,540 640,470 760,440" fill="none" stroke="#14100c" stroke-width="7"/>
<path d="M700,640 C760,600 860,610 935,745" fill="none" stroke="#14100c" stroke-width="7"/>
<path d="M600,672 C480,640 390,700 400,790" fill="none" stroke="#14100c" stroke-width="7"/>
<path d="M560,740 C540,800 580,850 640,880" fill="none" stroke="#14100c" stroke-width="7"/>
<path d="M690,700 C720,800 700,900 735,960" fill="none" stroke="#14100c" stroke-width="7"/>
<path d="M450,810 C470,850 480,870 492,900" fill="none" stroke="#14100c" stroke-width="7"/>
</g></svg></div>
<div style="left:387.6px;top:2316px;width:337.2px;height:336.8px"><svg viewBox="0 0 337 337" preserveAspectRatio="none">
<defs><radialGradient id="sf" cx="50%" cy="42%" r="58%"><stop offset="0" stop-color="#f8c82c"/><stop offset="0.7" stop-color="#f4ba28"/><stop offset="1" stop-color="#e8a024"/></radialGradient><radialGradient id="sr" cx="50%" cy="50%" r="50%"><stop offset="0.55" stop-color="#f2c428"/><stop offset="0.8" stop-color="#f2d22c"/><stop offset="1" stop-color="#ecd634"/></radialGradient><clipPath id="sm"><path d="M135,192.5 Q168.6,198 202.7,191.8 Q203.3,208.7 187,218.5 Q168.6,227.2 151.3,218.5 Q134,208.7 135,192.5Z"/></clipPath><filter id="sp" x="0" y="0" width="100%" height="100%"><feTurbulence type="fractalNoise" baseFrequency="0.35" numOctaves="2" seed="3"/><feColorMatrix type="matrix" values="0 0 0 0 0.8  0 0 0 0 0.8  0 0 0 0 0.8  0 0 0 0.6 -0.22"/></filter></defs>
<rect width="337" height="337" fill="#efefef"/><rect width="337" height="337" filter="url(#sp)" opacity="0.55"/>
<ellipse cx="199.5" cy="37.4" rx="10" ry="3.1" fill="#d9d264" stroke="#3c3a14" stroke-width="1" transform="rotate(-76 199.5 37.4)"/>
<ellipse cx="244.1" cy="48.8" rx="10" ry="3.1" fill="#d9d264" stroke="#3c3a14" stroke-width="1" transform="rotate(-57 244.1 48.8)"/>
<ellipse cx="285.6" cy="92.3" rx="10" ry="3.1" fill="#d9d264" stroke="#3c3a14" stroke-width="1" transform="rotate(-32 285.6 92.3)"/>
<ellipse cx="298.1" cy="142.1" rx="10" ry="3.1" fill="#d9d264" stroke="#3c3a14" stroke-width="1" transform="rotate(-11 298.1 142.1)"/>
<ellipse cx="304.3" cy="198.2" rx="10" ry="3.1" fill="#d9d264" stroke="#3c3a14" stroke-width="1" transform="rotate(13 304.3 198.2)"/>
<ellipse cx="298.1" cy="232.4" rx="10" ry="3.1" fill="#d9d264" stroke="#3c3a14" stroke-width="1" transform="rotate(27 298.1 232.4)"/>
<ellipse cx="273.2" cy="273.9" rx="10" ry="3.1" fill="#d9d264" stroke="#3c3a14" stroke-width="1" transform="rotate(45 273.2 273.9)"/>
<ellipse cx="242.1" cy="289.5" rx="10" ry="3.1" fill="#d9d264" stroke="#3c3a14" stroke-width="1" transform="rotate(59 242.1 289.5)"/>
<ellipse cx="202.6" cy="298.8" rx="10" ry="3.1" fill="#d9d264" stroke="#3c3a14" stroke-width="1" transform="rotate(75 202.6 298.8)"/>
<ellipse cx="136.5" cy="37.4" rx="10" ry="3.1" fill="#d9d264" stroke="#3c3a14" stroke-width="1" transform="rotate(-104 136.5 37.4)"/>
<ellipse cx="91.9" cy="48.8" rx="10" ry="3.1" fill="#d9d264" stroke="#3c3a14" stroke-width="1" transform="rotate(-123 91.9 48.8)"/>
<ellipse cx="50.4" cy="92.3" rx="10" ry="3.1" fill="#d9d264" stroke="#3c3a14" stroke-width="1" transform="rotate(-148 50.4 92.3)"/>
<ellipse cx="37.9" cy="142.1" rx="10" ry="3.1" fill="#d9d264" stroke="#3c3a14" stroke-width="1" transform="rotate(-169 37.9 142.1)"/>
<ellipse cx="31.7" cy="198.2" rx="10" ry="3.1" fill="#d9d264" stroke="#3c3a14" stroke-width="1" transform="rotate(167 31.7 198.2)"/>
<ellipse cx="37.9" cy="232.4" rx="10" ry="3.1" fill="#d9d264" stroke="#3c3a14" stroke-width="1" transform="rotate(153 37.9 232.4)"/>
<ellipse cx="62.8" cy="273.9" rx="10" ry="3.1" fill="#d9d264" stroke="#3c3a14" stroke-width="1" transform="rotate(135 62.8 273.9)"/>
<ellipse cx="93.9" cy="289.5" rx="10" ry="3.1" fill="#d9d264" stroke="#3c3a14" stroke-width="1" transform="rotate(121 93.9 289.5)"/>
<ellipse cx="133.4" cy="298.8" rx="10" ry="3.1" fill="#d9d264" stroke="#3c3a14" stroke-width="1" transform="rotate(105 133.4 298.8)"/>
<polygon points="168.0,19.7 193.3,56.0 221.3,44.6 229.6,67.4 278.4,60.2 268.0,103.8 295.0,117.2 280.5,143.2 309.5,177.4 287.7,197.1 300.2,211.7 281.5,220.0 296.0,259.4 259.7,256.3 254.5,275.0 236.9,267.7 227.5,296.7 197.5,280.1 168.0,312.3 138.5,280.1 108.5,296.7 99.1,267.7 81.5,275.0 76.3,256.3 40.0,259.4 54.5,220.0 35.8,211.7 48.3,197.1 26.5,177.4 55.5,143.2 41.0,117.2 68.0,103.8 57.6,60.2 106.4,67.4 114.7,44.6 142.7,56.0" fill="url(#sr)" stroke="#33300e" stroke-width="1.7" stroke-linejoin="round"/>
<circle cx="168" cy="167.1" r="100.1" fill="url(#sf)" stroke="#3a2a0c" stroke-width="1.6"/>
<circle cx="111.2" cy="171.4" r="11.9" fill="#0a0a0a"/><circle cx="110.0" cy="169" r="6.3" fill="#fff"/><circle cx="116.60000000000001" cy="175.6" r="2.1" fill="#fff"/>
<circle cx="225.6" cy="171.4" r="11.9" fill="#0a0a0a"/><circle cx="224.4" cy="169" r="6.3" fill="#fff"/><circle cx="231.0" cy="175.6" r="2.1" fill="#fff"/>
<ellipse cx="98.2" cy="196.8" rx="14.2" ry="5.9" fill="#e2701c" stroke="#7a3a0c" stroke-width="0.8"/>
<ellipse cx="237.6" cy="196.8" rx="14.2" ry="5.9" fill="#e2701c" stroke="#7a3a0c" stroke-width="0.8"/>
<path d="M135,192.5 Q168.6,198 202.7,191.8 Q203.3,208.7 187,218.5 Q168.6,227.2 151.3,218.5 Q134,208.7 135,192.5Z" fill="#6a1a0e" stroke="#2a0c06" stroke-width="1.4"/>
<ellipse cx="168.6" cy="219" rx="21" ry="8.5" fill="#d4601e" clip-path="url(#sm)"/>
</svg></div>
<div style="left:1655px;top:2357.5px;width:337.2px;height:336.8px"><svg viewBox="0 0 337 337" preserveAspectRatio="none">
<defs><radialGradient id="sf" cx="50%" cy="42%" r="58%"><stop offset="0" stop-color="#f8c82c"/><stop offset="0.7" stop-color="#f4ba28"/><stop offset="1" stop-color="#e8a024"/></radialGradient><radialGradient id="sr" cx="50%" cy="50%" r="50%"><stop offset="0.55" stop-color="#f2c428"/><stop offset="0.8" stop-color="#f2d22c"/><stop offset="1" stop-color="#ecd634"/></radialGradient><clipPath id="sm"><path d="M135,192.5 Q168.6,198 202.7,191.8 Q203.3,208.7 187,218.5 Q168.6,227.2 151.3,218.5 Q134,208.7 135,192.5Z"/></clipPath><filter id="sp" x="0" y="0" width="100%" height="100%"><feTurbulence type="fractalNoise" baseFrequency="0.35" numOctaves="2" seed="3"/><feColorMatrix type="matrix" values="0 0 0 0 0.8  0 0 0 0 0.8  0 0 0 0 0.8  0 0 0 0.6 -0.22"/></filter></defs>
<rect width="337" height="337" fill="#efefef"/><rect width="337" height="337" filter="url(#sp)" opacity="0.55"/>
<ellipse cx="199.5" cy="37.4" rx="10" ry="3.1" fill="#d9d264" stroke="#3c3a14" stroke-width="1" transform="rotate(-76 199.5 37.4)"/>
<ellipse cx="244.1" cy="48.8" rx="10" ry="3.1" fill="#d9d264" stroke="#3c3a14" stroke-width="1" transform="rotate(-57 244.1 48.8)"/>
<ellipse cx="285.6" cy="92.3" rx="10" ry="3.1" fill="#d9d264" stroke="#3c3a14" stroke-width="1" transform="rotate(-32 285.6 92.3)"/>
<ellipse cx="298.1" cy="142.1" rx="10" ry="3.1" fill="#d9d264" stroke="#3c3a14" stroke-width="1" transform="rotate(-11 298.1 142.1)"/>
<ellipse cx="304.3" cy="198.2" rx="10" ry="3.1" fill="#d9d264" stroke="#3c3a14" stroke-width="1" transform="rotate(13 304.3 198.2)"/>
<ellipse cx="298.1" cy="232.4" rx="10" ry="3.1" fill="#d9d264" stroke="#3c3a14" stroke-width="1" transform="rotate(27 298.1 232.4)"/>
<ellipse cx="273.2" cy="273.9" rx="10" ry="3.1" fill="#d9d264" stroke="#3c3a14" stroke-width="1" transform="rotate(45 273.2 273.9)"/>
<ellipse cx="242.1" cy="289.5" rx="10" ry="3.1" fill="#d9d264" stroke="#3c3a14" stroke-width="1" transform="rotate(59 242.1 289.5)"/>
<ellipse cx="202.6" cy="298.8" rx="10" ry="3.1" fill="#d9d264" stroke="#3c3a14" stroke-width="1" transform="rotate(75 202.6 298.8)"/>
<ellipse cx="136.5" cy="37.4" rx="10" ry="3.1" fill="#d9d264" stroke="#3c3a14" stroke-width="1" transform="rotate(-104 136.5 37.4)"/>
<ellipse cx="91.9" cy="48.8" rx="10" ry="3.1" fill="#d9d264" stroke="#3c3a14" stroke-width="1" transform="rotate(-123 91.9 48.8)"/>
<ellipse cx="50.4" cy="92.3" rx="10" ry="3.1" fill="#d9d264" stroke="#3c3a14" stroke-width="1" transform="rotate(-148 50.4 92.3)"/>
<ellipse cx="37.9" cy="142.1" rx="10" ry="3.1" fill="#d9d264" stroke="#3c3a14" stroke-width="1" transform="rotate(-169 37.9 142.1)"/>
<ellipse cx="31.7" cy="198.2" rx="10" ry="3.1" fill="#d9d264" stroke="#3c3a14" stroke-width="1" transform="rotate(167 31.7 198.2)"/>
<ellipse cx="37.9" cy="232.4" rx="10" ry="3.1" fill="#d9d264" stroke="#3c3a14" stroke-width="1" transform="rotate(153 37.9 232.4)"/>
<ellipse cx="62.8" cy="273.9" rx="10" ry="3.1" fill="#d9d264" stroke="#3c3a14" stroke-width="1" transform="rotate(135 62.8 273.9)"/>
<ellipse cx="93.9" cy="289.5" rx="10" ry="3.1" fill="#d9d264" stroke="#3c3a14" stroke-width="1" transform="rotate(121 93.9 289.5)"/>
<ellipse cx="133.4" cy="298.8" rx="10" ry="3.1" fill="#d9d264" stroke="#3c3a14" stroke-width="1" transform="rotate(105 133.4 298.8)"/>
<polygon points="168.0,19.7 193.3,56.0 221.3,44.6 229.6,67.4 278.4,60.2 268.0,103.8 295.0,117.2 280.5,143.2 309.5,177.4 287.7,197.1 300.2,211.7 281.5,220.0 296.0,259.4 259.7,256.3 254.5,275.0 236.9,267.7 227.5,296.7 197.5,280.1 168.0,312.3 138.5,280.1 108.5,296.7 99.1,267.7 81.5,275.0 76.3,256.3 40.0,259.4 54.5,220.0 35.8,211.7 48.3,197.1 26.5,177.4 55.5,143.2 41.0,117.2 68.0,103.8 57.6,60.2 106.4,67.4 114.7,44.6 142.7,56.0" fill="url(#sr)" stroke="#33300e" stroke-width="1.7" stroke-linejoin="round"/>
<circle cx="168" cy="167.1" r="100.1" fill="url(#sf)" stroke="#3a2a0c" stroke-width="1.6"/>
<circle cx="111.2" cy="171.4" r="11.9" fill="#0a0a0a"/><circle cx="110.0" cy="169" r="6.3" fill="#fff"/><circle cx="116.60000000000001" cy="175.6" r="2.1" fill="#fff"/>
<circle cx="225.6" cy="171.4" r="11.9" fill="#0a0a0a"/><circle cx="224.4" cy="169" r="6.3" fill="#fff"/><circle cx="231.0" cy="175.6" r="2.1" fill="#fff"/>
<ellipse cx="98.2" cy="196.8" rx="14.2" ry="5.9" fill="#e2701c" stroke="#7a3a0c" stroke-width="0.8"/>
<ellipse cx="237.6" cy="196.8" rx="14.2" ry="5.9" fill="#e2701c" stroke="#7a3a0c" stroke-width="0.8"/>
<path d="M135,192.5 Q168.6,198 202.7,191.8 Q203.3,208.7 187,218.5 Q168.6,227.2 151.3,218.5 Q134,208.7 135,192.5Z" fill="#6a1a0e" stroke="#2a0c06" stroke-width="1.4"/>
<ellipse cx="168.6" cy="219" rx="21" ry="8.5" fill="#d4601e" clip-path="url(#sm)"/>
</svg></div>
<div style="left:2314.5px;top:2316px;width:337.2px;height:336.8px"><svg viewBox="0 0 337 337" preserveAspectRatio="none">
<defs><radialGradient id="sf" cx="50%" cy="42%" r="58%"><stop offset="0" stop-color="#f8c82c"/><stop offset="0.7" stop-color="#f4ba28"/><stop offset="1" stop-color="#e8a024"/></radialGradient><radialGradient id="sr" cx="50%" cy="50%" r="50%"><stop offset="0.55" stop-color="#f2c428"/><stop offset="0.8" stop-color="#f2d22c"/><stop offset="1" stop-color="#ecd634"/></radialGradient><clipPath id="sm"><path d="M135,192.5 Q168.6,198 202.7,191.8 Q203.3,208.7 187,218.5 Q168.6,227.2 151.3,218.5 Q134,208.7 135,192.5Z"/></clipPath><filter id="sp" x="0" y="0" width="100%" height="100%"><feTurbulence type="fractalNoise" baseFrequency="0.35" numOctaves="2" seed="3"/><feColorMatrix type="matrix" values="0 0 0 0 0.8  0 0 0 0 0.8  0 0 0 0 0.8  0 0 0 0.6 -0.22"/></filter></defs>
<rect width="337" height="337" fill="#efefef"/><rect width="337" height="337" filter="url(#sp)" opacity="0.55"/>
<ellipse cx="199.5" cy="37.4" rx="10" ry="3.1" fill="#d9d264" stroke="#3c3a14" stroke-width="1" transform="rotate(-76 199.5 37.4)"/>
<ellipse cx="244.1" cy="48.8" rx="10" ry="3.1" fill="#d9d264" stroke="#3c3a14" stroke-width="1" transform="rotate(-57 244.1 48.8)"/>
<ellipse cx="285.6" cy="92.3" rx="10" ry="3.1" fill="#d9d264" stroke="#3c3a14" stroke-width="1" transform="rotate(-32 285.6 92.3)"/>
<ellipse cx="298.1" cy="142.1" rx="10" ry="3.1" fill="#d9d264" stroke="#3c3a14" stroke-width="1" transform="rotate(-11 298.1 142.1)"/>
<ellipse cx="304.3" cy="198.2" rx="10" ry="3.1" fill="#d9d264" stroke="#3c3a14" stroke-width="1" transform="rotate(13 304.3 198.2)"/>
<ellipse cx="298.1" cy="232.4" rx="10" ry="3.1" fill="#d9d264" stroke="#3c3a14" stroke-width="1" transform="rotate(27 298.1 232.4)"/>
<ellipse cx="273.2" cy="273.9" rx="10" ry="3.1" fill="#d9d264" stroke="#3c3a14" stroke-width="1" transform="rotate(45 273.2 273.9)"/>
<ellipse cx="242.1" cy="289.5" rx="10" ry="3.1" fill="#d9d264" stroke="#3c3a14" stroke-width="1" transform="rotate(59 242.1 289.5)"/>
<ellipse cx="202.6" cy="298.8" rx="10" ry="3.1" fill="#d9d264" stroke="#3c3a14" stroke-width="1" transform="rotate(75 202.6 298.8)"/>
<ellipse cx="136.5" cy="37.4" rx="10" ry="3.1" fill="#d9d264" stroke="#3c3a14" stroke-width="1" transform="rotate(-104 136.5 37.4)"/>
<ellipse cx="91.9" cy="48.8" rx="10" ry="3.1" fill="#d9d264" stroke="#3c3a14" stroke-width="1" transform="rotate(-123 91.9 48.8)"/>
<ellipse cx="50.4" cy="92.3" rx="10" ry="3.1" fill="#d9d264" stroke="#3c3a14" stroke-width="1" transform="rotate(-148 50.4 92.3)"/>
<ellipse cx="37.9" cy="142.1" rx="10" ry="3.1" fill="#d9d264" stroke="#3c3a14" stroke-width="1" transform="rotate(-169 37.9 142.1)"/>
<ellipse cx="31.7" cy="198.2" rx="10" ry="3.1" fill="#d9d264" stroke="#3c3a14" stroke-width="1" transform="rotate(167 31.7 198.2)"/>
<ellipse cx="37.9" cy="232.4" rx="10" ry="3.1" fill="#d9d264" stroke="#3c3a14" stroke-width="1" transform="rotate(153 37.9 232.4)"/>
<ellipse cx="62.8" cy="273.9" rx="10" ry="3.1" fill="#d9d264" stroke="#3c3a14" stroke-width="1" transform="rotate(135 62.8 273.9)"/>
<ellipse cx="93.9" cy="289.5" rx="10" ry="3.1" fill="#d9d264" stroke="#3c3a14" stroke-width="1" transform="rotate(121 93.9 289.5)"/>
<ellipse cx="133.4" cy="298.8" rx="10" ry="3.1" fill="#d9d264" stroke="#3c3a14" stroke-width="1" transform="rotate(105 133.4 298.8)"/>
<polygon points="168.0,19.7 193.3,56.0 221.3,44.6 229.6,67.4 278.4,60.2 268.0,103.8 295.0,117.2 280.5,143.2 309.5,177.4 287.7,197.1 300.2,211.7 281.5,220.0 296.0,259.4 259.7,256.3 254.5,275.0 236.9,267.7 227.5,296.7 197.5,280.1 168.0,312.3 138.5,280.1 108.5,296.7 99.1,267.7 81.5,275.0 76.3,256.3 40.0,259.4 54.5,220.0 35.8,211.7 48.3,197.1 26.5,177.4 55.5,143.2 41.0,117.2 68.0,103.8 57.6,60.2 106.4,67.4 114.7,44.6 142.7,56.0" fill="url(#sr)" stroke="#33300e" stroke-width="1.7" stroke-linejoin="round"/>
<circle cx="168" cy="167.1" r="100.1" fill="url(#sf)" stroke="#3a2a0c" stroke-width="1.6"/>
<circle cx="111.2" cy="171.4" r="11.9" fill="#0a0a0a"/><circle cx="110.0" cy="169" r="6.3" fill="#fff"/><circle cx="116.60000000000001" cy="175.6" r="2.1" fill="#fff"/>
<circle cx="225.6" cy="171.4" r="11.9" fill="#0a0a0a"/><circle cx="224.4" cy="169" r="6.3" fill="#fff"/><circle cx="231.0" cy="175.6" r="2.1" fill="#fff"/>
<ellipse cx="98.2" cy="196.8" rx="14.2" ry="5.9" fill="#e2701c" stroke="#7a3a0c" stroke-width="0.8"/>
<ellipse cx="237.6" cy="196.8" rx="14.2" ry="5.9" fill="#e2701c" stroke="#7a3a0c" stroke-width="0.8"/>
<path d="M135,192.5 Q168.6,198 202.7,191.8 Q203.3,208.7 187,218.5 Q168.6,227.2 151.3,218.5 Q134,208.7 135,192.5Z" fill="#6a1a0e" stroke="#2a0c06" stroke-width="1.4"/>
<ellipse cx="168.6" cy="219" rx="21" ry="8.5" fill="#d4601e" clip-path="url(#sm)"/>
</svg></div>
<div style="left:2956.4px;top:2316px;width:337.2px;height:336.8px"><svg viewBox="0 0 337 337" preserveAspectRatio="none">
<defs><radialGradient id="sf" cx="50%" cy="42%" r="58%"><stop offset="0" stop-color="#f8c82c"/><stop offset="0.7" stop-color="#f4ba28"/><stop offset="1" stop-color="#e8a024"/></radialGradient><radialGradient id="sr" cx="50%" cy="50%" r="50%"><stop offset="0.55" stop-color="#f2c428"/><stop offset="0.8" stop-color="#f2d22c"/><stop offset="1" stop-color="#ecd634"/></radialGradient><clipPath id="sm"><path d="M135,192.5 Q168.6,198 202.7,191.8 Q203.3,208.7 187,218.5 Q168.6,227.2 151.3,218.5 Q134,208.7 135,192.5Z"/></clipPath><filter id="sp" x="0" y="0" width="100%" height="100%"><feTurbulence type="fractalNoise" baseFrequency="0.35" numOctaves="2" seed="3"/><feColorMatrix type="matrix" values="0 0 0 0 0.8  0 0 0 0 0.8  0 0 0 0 0.8  0 0 0 0.6 -0.22"/></filter></defs>
<rect width="337" height="337" fill="#efefef"/><rect width="337" height="337" filter="url(#sp)" opacity="0.55"/>
<ellipse cx="199.5" cy="37.4" rx="10" ry="3.1" fill="#d9d264" stroke="#3c3a14" stroke-width="1" transform="rotate(-76 199.5 37.4)"/>
<ellipse cx="244.1" cy="48.8" rx="10" ry="3.1" fill="#d9d264" stroke="#3c3a14" stroke-width="1" transform="rotate(-57 244.1 48.8)"/>
<ellipse cx="285.6" cy="92.3" rx="10" ry="3.1" fill="#d9d264" stroke="#3c3a14" stroke-width="1" transform="rotate(-32 285.6 92.3)"/>
<ellipse cx="298.1" cy="142.1" rx="10" ry="3.1" fill="#d9d264" stroke="#3c3a14" stroke-width="1" transform="rotate(-11 298.1 142.1)"/>
<ellipse cx="304.3" cy="198.2" rx="10" ry="3.1" fill="#d9d264" stroke="#3c3a14" stroke-width="1" transform="rotate(13 304.3 198.2)"/>
<ellipse cx="298.1" cy="232.4" rx="10" ry="3.1" fill="#d9d264" stroke="#3c3a14" stroke-width="1" transform="rotate(27 298.1 232.4)"/>
<ellipse cx="273.2" cy="273.9" rx="10" ry="3.1" fill="#d9d264" stroke="#3c3a14" stroke-width="1" transform="rotate(45 273.2 273.9)"/>
<ellipse cx="242.1" cy="289.5" rx="10" ry="3.1" fill="#d9d264" stroke="#3c3a14" stroke-width="1" transform="rotate(59 242.1 289.5)"/>
<ellipse cx="202.6" cy="298.8" rx="10" ry="3.1" fill="#d9d264" stroke="#3c3a14" stroke-width="1" transform="rotate(75 202.6 298.8)"/>
<ellipse cx="136.5" cy="37.4" rx="10" ry="3.1" fill="#d9d264" stroke="#3c3a14" stroke-width="1" transform="rotate(-104 136.5 37.4)"/>
<ellipse cx="91.9" cy="48.8" rx="10" ry="3.1" fill="#d9d264" stroke="#3c3a14" stroke-width="1" transform="rotate(-123 91.9 48.8)"/>
<ellipse cx="50.4" cy="92.3" rx="10" ry="3.1" fill="#d9d264" stroke="#3c3a14" stroke-width="1" transform="rotate(-148 50.4 92.3)"/>
<ellipse cx="37.9" cy="142.1" rx="10" ry="3.1" fill="#d9d264" stroke="#3c3a14" stroke-width="1" transform="rotate(-169 37.9 142.1)"/>
<ellipse cx="31.7" cy="198.2" rx="10" ry="3.1" fill="#d9d264" stroke="#3c3a14" stroke-width="1" transform="rotate(167 31.7 198.2)"/>
<ellipse cx="37.9" cy="232.4" rx="10" ry="3.1" fill="#d9d264" stroke="#3c3a14" stroke-width="1" transform="rotate(153 37.9 232.4)"/>
<ellipse cx="62.8" cy="273.9" rx="10" ry="3.1" fill="#d9d264" stroke="#3c3a14" stroke-width="1" transform="rotate(135 62.8 273.9)"/>
<ellipse cx="93.9" cy="289.5" rx="10" ry="3.1" fill="#d9d264" stroke="#3c3a14" stroke-width="1" transform="rotate(121 93.9 289.5)"/>
<ellipse cx="133.4" cy="298.8" rx="10" ry="3.1" fill="#d9d264" stroke="#3c3a14" stroke-width="1" transform="rotate(105 133.4 298.8)"/>
<polygon points="168.0,19.7 193.3,56.0 221.3,44.6 229.6,67.4 278.4,60.2 268.0,103.8 295.0,117.2 280.5,143.2 309.5,177.4 287.7,197.1 300.2,211.7 281.5,220.0 296.0,259.4 259.7,256.3 254.5,275.0 236.9,267.7 227.5,296.7 197.5,280.1 168.0,312.3 138.5,280.1 108.5,296.7 99.1,267.7 81.5,275.0 76.3,256.3 40.0,259.4 54.5,220.0 35.8,211.7 48.3,197.1 26.5,177.4 55.5,143.2 41.0,117.2 68.0,103.8 57.6,60.2 106.4,67.4 114.7,44.6 142.7,56.0" fill="url(#sr)" stroke="#33300e" stroke-width="1.7" stroke-linejoin="round"/>
<circle cx="168" cy="167.1" r="100.1" fill="url(#sf)" stroke="#3a2a0c" stroke-width="1.6"/>
<circle cx="111.2" cy="171.4" r="11.9" fill="#0a0a0a"/><circle cx="110.0" cy="169" r="6.3" fill="#fff"/><circle cx="116.60000000000001" cy="175.6" r="2.1" fill="#fff"/>
<circle cx="225.6" cy="171.4" r="11.9" fill="#0a0a0a"/><circle cx="224.4" cy="169" r="6.3" fill="#fff"/><circle cx="231.0" cy="175.6" r="2.1" fill="#fff"/>
<ellipse cx="98.2" cy="196.8" rx="14.2" ry="5.9" fill="#e2701c" stroke="#7a3a0c" stroke-width="0.8"/>
<ellipse cx="237.6" cy="196.8" rx="14.2" ry="5.9" fill="#e2701c" stroke="#7a3a0c" stroke-width="0.8"/>
<path d="M135,192.5 Q168.6,198 202.7,191.8 Q203.3,208.7 187,218.5 Q168.6,227.2 151.3,218.5 Q134,208.7 135,192.5Z" fill="#6a1a0e" stroke="#2a0c06" stroke-width="1.4"/>
<ellipse cx="168.6" cy="219" rx="21" ry="8.5" fill="#d4601e" clip-path="url(#sm)"/>
</svg></div>
<div style="left:1066.9px;top:2261.8px;width:260.1px;height:280.4px"><svg viewBox="90 65 1388 1495" preserveAspectRatio="none">
<defs>
<filter id="sb" x="-5%" y="-5%" width="110%" height="110%"><feGaussianBlur stdDeviation="5"/></filter>
<filter id="sb2" x="-5%" y="-5%" width="110%" height="110%"><feGaussianBlur stdDeviation="3"/></filter>
<linearGradient id="sw" x1="0" y1="0" x2="1" y2="0"><stop offset="0" stop-color="#9fe6d2"/><stop offset="0.3" stop-color="#c6e27a"/><stop offset="0.6" stop-color="#ecd84e"/><stop offset="1" stop-color="#d6d27a"/></linearGradient>
<path id="arc" d="M506,376 A630,630 0 0 1 1272,709"/>
<clipPath id="sc"><rect x="90" y="65" width="1388" height="1495"/></clipPath>
</defs>
<rect x="90" y="65" width="1388" height="1495" fill="#fdfcfc"/>
<g clip-path="url(#sc)">
<g filter="url(#sb)">
<circle cx="783" cy="822" r="712" fill="#0a7fc7"/>
<path d="M305,1075 C420,1290 640,1390 850,1352 C1080,1310 1245,1120 1285,880 C1262,1080 1120,1262 880,1296 C660,1322 450,1240 305,1075Z" fill="url(#sw)"/>
<path d="M1150,790 L1290,812 L1435,845 L1300,872 L1215,862 L1228,838 L1150,822Z" fill="#efe6a4"/>
<path d="M1150,790 L1228,800 L1228,838 L1150,822Z" fill="#a8d8b8"/>
</g>
<g filter="url(#sb2)" font-family="'Liberation Sans',sans-serif" font-weight="bold">
<text transform="translate(226,842) rotate(-11.8)" font-size="312" fill="#dcfaff" stroke="#dcfaff" stroke-width="13" stroke-linejoin="round" textLength="500" lengthAdjust="spacingAndGlyphs">Siel</text>
<text transform="translate(518,1088) rotate(-12)" font-size="338" fill="#e6fbff" stroke="#e6fbff" stroke-width="14" stroke-linejoin="round" textLength="600" lengthAdjust="spacingAndGlyphs">Bleu</text>
<text font-size="66" fill="#a6e6f8" stroke="#a6e6f8" stroke-width="5" letter-spacing="38"><textPath href="#arc" startOffset="0">ASSOCIATION</textPath></text>
</g>
</g>
</svg>
</div>
<div style="left:3700px;top:1250px;width:900px;height:1150px"><svg viewBox="3700 1250 900 1150" preserveAspectRatio="none">
<defs><filter id="bq" x="-5%" y="-5%" width="110%" height="110%"><feGaussianBlur stdDeviation="2.6"/></filter><filter id="bq2" x="-5%" y="-5%" width="110%" height="110%"><feGaussianBlur stdDeviation="1.6"/></filter><radialGradient id="haze"><stop offset="0" stop-color="#fdf0f4"/><stop offset="0.75" stop-color="#fef6f8"/><stop offset="1" stop-color="#fff" stop-opacity="0"/></radialGradient></defs>
<g filter="url(#bq)">
<ellipse cx="4136" cy="1656" rx="318" ry="300" fill="url(#haze)"/>
<circle cx="4087.6" cy="1761.5" r="14.9" fill="#f07890" opacity="0.64"/>
<circle cx="3890.6" cy="1521.4" r="5.0" fill="#d0e8b0" opacity="0.63"/>
<circle cx="4305.3" cy="1762.8" r="11.3" fill="#e4789a" opacity="0.85"/>
<circle cx="4075.0" cy="1623.8" r="14.2" fill="#a0d8c8" opacity="0.62"/>
<circle cx="4242.2" cy="1537.8" r="6.1" fill="#b070a0" opacity="0.82"/>
<circle cx="4099.9" cy="1574.6" r="9.3" fill="#e8607e" opacity="0.82"/>
<circle cx="4207.9" cy="1687.4" r="6.6" fill="#d0e8b0" opacity="0.91"/>
<circle cx="3857.1" cy="1720.2" r="5.8" fill="#c088a8" opacity="0.88"/>
<circle cx="4148.5" cy="1881.4" r="9.0" fill="#8a70b0" opacity="0.72"/>
<circle cx="4242.8" cy="1647.5" r="8.2" fill="#c8e89a" opacity="0.97"/>
<circle cx="3879.4" cy="1795.5" r="4.2" fill="#f8c8d0" opacity="0.74"/>
<circle cx="4015.0" cy="1826.5" r="16.5" fill="#e8607e" opacity="0.98"/>
<circle cx="3897.6" cy="1698.6" r="4.1" fill="#f4c0d0" opacity="0.83"/>
<circle cx="4055.7" cy="1482.8" r="10.4" fill="#f8c8d0" opacity="0.61"/>
<circle cx="4020.0" cy="1688.6" r="8.9" fill="#b070a0" opacity="0.65"/>
<circle cx="4142.8" cy="1842.8" r="11.6" fill="#8a70b0" opacity="0.76"/>
<circle cx="4120.6" cy="1766.5" r="8.3" fill="#d0e8b0" opacity="0.99"/>
<circle cx="4063.7" cy="1495.5" r="6.8" fill="#c8e89a" opacity="0.69"/>
<circle cx="4161.9" cy="1862.5" r="9.5" fill="#f4a0b0" opacity="0.66"/>
<circle cx="3910.2" cy="1610.8" r="5.6" fill="#b87aa0" opacity="0.98"/>
<circle cx="3994.2" cy="1452.1" r="6.3" fill="#f07890" opacity="0.76"/>
<circle cx="4061.9" cy="1715.8" r="14.7" fill="#e8607e" opacity="0.99"/>
<circle cx="4046.9" cy="1695.3" r="9.5" fill="#c8e89a" opacity="0.81"/>
<circle cx="4364.1" cy="1587.8" r="4.2" fill="#d0e8b0" opacity="0.66"/>
<circle cx="4137.5" cy="1832.3" r="7.8" fill="#8a70b0"/>
<circle cx="3935.1" cy="1703.1" r="5.7" fill="#f0a8c0" opacity="0.9"/>
<circle cx="3891.5" cy="1692.6" r="6.7" fill="#b87aa0" opacity="0.74"/>
<circle cx="4034.0" cy="1400.1" r="8.1" fill="#e8607e" opacity="0.88"/>
<circle cx="4127.3" cy="1836.6" r="6.3" fill="#f07890" opacity="0.82"/>
<circle cx="3899.6" cy="1656.0" r="7.2" fill="#c088a8" opacity="0.92"/>
<circle cx="4247.9" cy="1431.4" r="5.0" fill="#f8c8d0" opacity="0.89"/>
<circle cx="4407.3" cy="1643.0" r="6.4" fill="#f8c8d0" opacity="0.78"/>
<circle cx="4416.4" cy="1548.0" r="9.2" fill="#a0d8c8" opacity="0.64"/>
<circle cx="3967.9" cy="1691.8" r="8.7" fill="#b87aa0" opacity="0.94"/>
<circle cx="3898.5" cy="1690.4" r="8.3" fill="#f4c0d0" opacity="0.65"/>
<circle cx="3945.6" cy="1818.9" r="4.9" fill="#d0e8b0" opacity="0.92"/>
<circle cx="4006.3" cy="1887.2" r="9.3" fill="#d0e8b0" opacity="0.9"/>
<circle cx="4243.4" cy="1719.3" r="18.8" fill="#8a70b0" opacity="0.92"/>
<circle cx="4306.3" cy="1871.2" r="9.3" fill="#f6c2cc" opacity="0.66"/>
<circle cx="4097.9" cy="1647.2" r="11.0" fill="#e8607e" opacity="0.81"/>
<circle cx="4321.5" cy="1582.0" r="11.6" fill="#a0d8c8" opacity="0.61"/>
<circle cx="4189.4" cy="1861.3" r="10.8" fill="#f07890" opacity="0.77"/>
<circle cx="4335.4" cy="1864.6" r="5.8" fill="#e8607e" opacity="0.93"/>
<circle cx="3867.4" cy="1632.0" r="8.7" fill="#c088a8" opacity="0.81"/>
<circle cx="4338.6" cy="1682.7" r="9.6" fill="#c8e89a" opacity="0.67"/>
<circle cx="3886.9" cy="1701.3" r="6.9" fill="#b87aa0" opacity="0.81"/>
<circle cx="3876.0" cy="1688.3" r="13.1" fill="#c088a8" opacity="0.71"/>
<circle cx="4169.9" cy="1453.7" r="9.3" fill="#e8607e" opacity="0.78"/>
<circle cx="3977.1" cy="1525.0" r="8.9" fill="#8a70b0" opacity="0.8"/>
<circle cx="4215.7" cy="1465.1" r="6.9" fill="#b070a0" opacity="0.97"/>
<circle cx="4246.0" cy="1577.9" r="8.4" fill="#d0e8b0" opacity="0.78"/>
<circle cx="4272.8" cy="1723.1" r="5.6" fill="#e8607e" opacity="0.96"/>
<circle cx="4284.1" cy="1864.1" r="7.5" fill="#e4789a" opacity="0.99"/>
<circle cx="4195.9" cy="1940.1" r="6.0" fill="#a0d8c8" opacity="0.66"/>
<circle cx="3943.3" cy="1747.6" r="7.6" fill="#f8c8d0" opacity="0.64"/>
<circle cx="4023.3" cy="1786.8" r="8.5" fill="#d0e8b0" opacity="0.73"/>
<circle cx="3986.4" cy="1513.0" r="5.5" fill="#a0d8c8" opacity="0.99"/>
<circle cx="4262.9" cy="1752.2" r="5.3" fill="#b070a0" opacity="0.9"/>
<circle cx="4257.9" cy="1416.0" r="7.6" fill="#d0e8b0" opacity="0.66"/>
<circle cx="4338.9" cy="1552.6" r="10.3" fill="#f4a0b0" opacity="0.92"/>
<circle cx="4256.0" cy="1912.7" r="7.9" fill="#e8607e" opacity="0.92"/>
<circle cx="4381.2" cy="1795.9" r="4.1" fill="#d890b0" opacity="0.6"/>
<circle cx="4334.7" cy="1653.2" r="11.9" fill="#f4a0b0" opacity="0.81"/>
<circle cx="4147.2" cy="1756.5" r="9.4" fill="#a0d8c8" opacity="0.97"/>
<circle cx="3988.3" cy="1505.9" r="6.6" fill="#c8e89a" opacity="0.71"/>
<circle cx="4239.5" cy="1384.9" r="6.0" fill="#f07890" opacity="0.82"/>
<circle cx="4217.1" cy="1847.0" r="12.1" fill="#d0e8b0" opacity="0.86"/>
<circle cx="3867.6" cy="1581.6" r="9.3" fill="#c088a8" opacity="0.99"/>
<circle cx="3988.7" cy="1882.7" r="7.8" fill="#d0e8b0"/>
<circle cx="4414.0" cy="1629.6" r="3.8" fill="#b070a0" opacity="0.77"/>
<circle cx="4371.1" cy="1741.3" r="5.9" fill="#f6c2cc" opacity="0.84"/>
<circle cx="4117.4" cy="1601.8" r="6.4" fill="#f4a0b0" opacity="0.71"/>
<circle cx="4428.7" cy="1591.4" r="6.9" fill="#b070a0" opacity="0.69"/>
<circle cx="4211.4" cy="1814.5" r="5.7" fill="#a0d8c8" opacity="0.7"/>
<circle cx="4154.9" cy="1573.1" r="11.2" fill="#f4a0b0" opacity="0.76"/>
<circle cx="4066.6" cy="1880.8" r="4.2" fill="#c8e89a" opacity="0.86"/>
<circle cx="4080.1" cy="1392.1" r="6.0" fill="#8a70b0" opacity="0.66"/>
<circle cx="4100.9" cy="1428.6" r="4.0" fill="#f07890" opacity="0.85"/>
<circle cx="4112.5" cy="1397.9" r="4.6" fill="#f07890" opacity="0.83"/>
<circle cx="4154.7" cy="1625.8" r="10.2" fill="#a0d8c8" opacity="0.63"/>
<circle cx="4372.3" cy="1720.7" r="9.2" fill="#d890b0" opacity="0.82"/>
<circle cx="3974.3" cy="1493.6" r="7.6" fill="#f4a0b0" opacity="0.78"/>
<circle cx="4403.3" cy="1780.4" r="8.8" fill="#e8607e" opacity="0.63"/>
<circle cx="4127.4" cy="1513.7" r="5.6" fill="#a0d8c8" opacity="0.69"/>
<circle cx="4019.7" cy="1499.6" r="17.1" fill="#b070a0" opacity="0.91"/>
<circle cx="3960.7" cy="1502.8" r="4.2" fill="#b070a0" opacity="0.86"/>
<circle cx="4056.6" cy="1444.3" r="4.5" fill="#8a70b0" opacity="0.71"/>
<circle cx="4022.0" cy="1445.4" r="7.6" fill="#f07890" opacity="0.71"/>
<circle cx="3882.0" cy="1714.4" r="9.4" fill="#f0a8c0" opacity="0.99"/>
<circle cx="4176.7" cy="1644.9" r="8.5" fill="#8a70b0"/>
<circle cx="3921.4" cy="1842.6" r="13.5" fill="#e8607e" opacity="0.66"/>
<circle cx="3849.2" cy="1617.0" r="4.5" fill="#b87aa0" opacity="0.71"/>
<circle cx="4278.4" cy="1774.9" r="8.8" fill="#d890b0" opacity="0.61"/>
<circle cx="4351.3" cy="1664.6" r="8.4" fill="#c8e89a" opacity="0.77"/>
<circle cx="4065.4" cy="1731.4" r="7.5" fill="#f8c8d0" opacity="0.94"/>
<circle cx="4351.4" cy="1852.7" r="7.8" fill="#f6c2cc" opacity="0.7"/>
<circle cx="4312.8" cy="1732.5" r="17.4" fill="#d890b0" opacity="0.9"/>
<circle cx="4237.3" cy="1537.2" r="5.4" fill="#c8e89a" opacity="0.7"/>
<circle cx="4118.7" cy="1868.0" r="6.5" fill="#d0e8b0" opacity="0.95"/>
<circle cx="4230.9" cy="1445.2" r="8.9" fill="#f07890" opacity="0.68"/>
<circle cx="4394.7" cy="1797.0" r="6.1" fill="#e4789a" opacity="0.86"/>
<circle cx="4125.0" cy="1723.0" r="12.0" fill="#8a70b0" opacity="0.77"/>
<circle cx="4109.8" cy="1804.9" r="10.6" fill="#d0e8b0" opacity="0.86"/>
<circle cx="4069.3" cy="1867.2" r="8.0" fill="#c8e89a" opacity="0.63"/>
<circle cx="3868.4" cy="1659.0" r="6.9" fill="#f0a8c0"/>
<circle cx="4032.9" cy="1693.8" r="6.5" fill="#f8c8d0" opacity="0.82"/>
<circle cx="4062.9" cy="1820.9" r="11.1" fill="#f4a0b0" opacity="0.9"/>
<circle cx="3974.5" cy="1758.0" r="9.0" fill="#f8c8d0" opacity="0.9"/>
<circle cx="3911.6" cy="1662.6" r="7.7" fill="#b87aa0" opacity="0.85"/>
<circle cx="4231.2" cy="1556.9" r="7.1" fill="#d0e8b0" opacity="0.86"/>
<circle cx="3986.9" cy="1727.8" r="11.2" fill="#c8e89a" opacity="0.61"/>
<circle cx="4068.2" cy="1392.2" r="6.4" fill="#f4a0b0" opacity="0.63"/>
<circle cx="4402.9" cy="1540.5" r="6.8" fill="#8a70b0" opacity="0.7"/>
<circle cx="4231.7" cy="1732.7" r="9.0" fill="#8a70b0" opacity="0.63"/>
<circle cx="4141.9" cy="1649.3" r="6.0" fill="#f4a0b0" opacity="0.86"/>
<circle cx="4104.3" cy="1758.7" r="6.9" fill="#e8607e" opacity="0.64"/>
<circle cx="4048.9" cy="1929.9" r="4.9" fill="#f4a0b0" opacity="0.6"/>
<circle cx="4074.9" cy="1848.1" r="12.2" fill="#a0d8c8" opacity="0.79"/>
<circle cx="4154.3" cy="1804.6" r="12.3" fill="#b070a0" opacity="0.62"/>
<circle cx="4237.5" cy="1918.2" r="7.4" fill="#a0d8c8" opacity="0.87"/>
<circle cx="4268.0" cy="1596.9" r="5.3" fill="#d0e8b0" opacity="0.74"/>
<circle cx="4120.3" cy="1674.6" r="7.2" fill="#e8607e" opacity="0.68"/>
<circle cx="4305.3" cy="1629.3" r="11.2" fill="#a0d8c8" opacity="0.71"/>
<circle cx="4216.4" cy="1598.2" r="9.7" fill="#a0d8c8" opacity="0.79"/>
<circle cx="4200.5" cy="1622.9" r="9.5" fill="#f4a0b0" opacity="0.69"/>
<circle cx="4252.0" cy="1642.2" r="8.1" fill="#d0e8b0" opacity="0.78"/>
<circle cx="4100.1" cy="1500.8" r="8.8" fill="#c8e89a" opacity="0.73"/>
<circle cx="4254.9" cy="1919.9" r="12.0" fill="#d0e8b0" opacity="0.94"/>
<circle cx="4339.6" cy="1641.7" r="8.8" fill="#e8607e" opacity="0.74"/>
<circle cx="4241.9" cy="1631.6" r="12.3" fill="#f8c8d0" opacity="0.91"/>
<circle cx="4042.6" cy="1904.5" r="4.3" fill="#a0d8c8" opacity="0.75"/>
<circle cx="4255.8" cy="1597.8" r="7.8" fill="#f4a0b0" opacity="0.85"/>
<circle cx="4143.0" cy="1891.2" r="6.1" fill="#8a70b0" opacity="0.63"/>
<circle cx="4273.9" cy="1588.7" r="10.7" fill="#f8c8d0" opacity="0.75"/>
<circle cx="3990.2" cy="1905.8" r="4.0" fill="#f8c8d0" opacity="0.97"/>
<circle cx="4064.9" cy="1897.4" r="7.1" fill="#e8607e" opacity="0.61"/>
<circle cx="4161.0" cy="1860.5" r="12.2" fill="#d0e8b0" opacity="0.92"/>
<circle cx="4372.9" cy="1523.6" r="4.5" fill="#f4a0b0" opacity="0.92"/>
<circle cx="4120.2" cy="1395.5" r="8.1" fill="#f8c8d0" opacity="0.94"/>
<circle cx="3881.2" cy="1723.1" r="7.1" fill="#d06a90" opacity="0.9"/>
<circle cx="4141.3" cy="1734.4" r="5.3" fill="#f8c8d0" opacity="0.66"/>
<circle cx="4052.5" cy="1702.2" r="5.6" fill="#a0d8c8" opacity="0.64"/>
<circle cx="3886.1" cy="1662.4" r="6.3" fill="#d06a90" opacity="0.78"/>
<circle cx="4253.3" cy="1570.5" r="9.1" fill="#e8607e" opacity="0.91"/>
<circle cx="4096.6" cy="1808.7" r="7.0" fill="#b070a0" opacity="0.68"/>
<circle cx="4142.4" cy="1804.8" r="6.2" fill="#a0d8c8" opacity="0.73"/>
<circle cx="3901.5" cy="1837.0" r="6.6" fill="#e8607e" opacity="0.86"/>
<circle cx="4236.3" cy="1654.7" r="8.6" fill="#8a70b0" opacity="0.97"/>
<circle cx="4298.1" cy="1699.7" r="5.9" fill="#e8607e" opacity="0.68"/>
<circle cx="4332.2" cy="1755.2" r="6.4" fill="#c8a0c8" opacity="0.98"/>
<circle cx="4323.2" cy="1799.2" r="9.7" fill="#f6c2cc" opacity="0.74"/>
<circle cx="4429.8" cy="1740.1" r="4.0" fill="#e4789a" opacity="0.93"/>
<circle cx="4220.8" cy="1490.2" r="7.8" fill="#e8607e" opacity="0.68"/>
<circle cx="4202.6" cy="1452.3" r="5.5" fill="#d0e8b0" opacity="0.87"/>
<circle cx="4264.3" cy="1836.4" r="9.9" fill="#b070a0" opacity="0.76"/>
<circle cx="4105.3" cy="1818.6" r="12.2" fill="#f8c8d0" opacity="0.77"/>
<circle cx="4402.2" cy="1689.2" r="8.3" fill="#d0e8b0" opacity="0.89"/>
<circle cx="4146.6" cy="1681.5" r="11.8" fill="#e8607e" opacity="0.76"/>
<circle cx="4291.6" cy="1526.7" r="9.4" fill="#f07890" opacity="0.66"/>
<circle cx="4205.9" cy="1487.3" r="9.3" fill="#f07890" opacity="0.67"/>
<circle cx="4070.0" cy="1756.0" r="9.5" fill="#d0e8b0" opacity="0.8"/>
<circle cx="4240.1" cy="1389.4" r="4.9" fill="#f4a0b0" opacity="0.99"/>
<circle cx="4070.8" cy="1667.3" r="12.0" fill="#c8e89a" opacity="0.86"/>
<circle cx="4287.4" cy="1479.4" r="7.2" fill="#8a70b0" opacity="0.67"/>
<circle cx="4177.9" cy="1841.1" r="8.9" fill="#e8607e" opacity="0.66"/>
<circle cx="4407.6" cy="1611.7" r="4.9" fill="#f4a0b0" opacity="0.87"/>
<circle cx="4055.4" cy="1823.1" r="8.5" fill="#b070a0" opacity="0.86"/>
<circle cx="4086.2" cy="1796.3" r="8.0" fill="#f07890" opacity="0.78"/>
<circle cx="4374.6" cy="1693.7" r="6.5" fill="#8a70b0" opacity="0.93"/>
<circle cx="4210.8" cy="1488.2" r="5.5" fill="#f8c8d0" opacity="0.64"/>
<circle cx="3938.9" cy="1734.5" r="5.3" fill="#e892b2" opacity="0.97"/>
<circle cx="4040.3" cy="1888.5" r="4.2" fill="#d0e8b0" opacity="0.86"/>
<circle cx="4150.3" cy="1614.1" r="5.5" fill="#e8607e" opacity="0.68"/>
<circle cx="4350.0" cy="1636.5" r="12.2" fill="#c8e89a" opacity="0.87"/>
<circle cx="4114.4" cy="1524.8" r="11.3" fill="#b070a0" opacity="0.66"/>
<circle cx="4265.8" cy="1567.2" r="11.2" fill="#f07890" opacity="0.99"/>
<circle cx="3909.9" cy="1688.0" r="9.7" fill="#f0a8c0" opacity="0.61"/>
<circle cx="4190.1" cy="1766.9" r="12.1" fill="#d0e8b0" opacity="0.67"/>
<circle cx="4162.2" cy="1563.2" r="9.0" fill="#f8c8d0" opacity="0.99"/>
<circle cx="3931.8" cy="1721.4" r="10.2" fill="#f0a8c0"/>
<circle cx="4010.3" cy="1526.4" r="11.0" fill="#f8c8d0" opacity="0.83"/>
<circle cx="3971.7" cy="1856.7" r="6.3" fill="#f4a0b0" opacity="0.72"/>
<circle cx="3973.0" cy="1643.6" r="12.3" fill="#f4c0d0" opacity="0.96"/>
<circle cx="4112.3" cy="1408.7" r="5.0" fill="#d0e8b0" opacity="0.77"/>
<circle cx="4096.7" cy="1708.2" r="8.7" fill="#f4a0b0" opacity="0.61"/>
<circle cx="4319.5" cy="1662.9" r="5.8" fill="#a0d8c8" opacity="0.77"/>
<circle cx="4105.2" cy="1761.4" r="7.8" fill="#c8e89a" opacity="0.65"/>
<circle cx="4277.1" cy="1604.0" r="6.1" fill="#c8e89a" opacity="0.95"/>
<circle cx="4178.3" cy="1478.4" r="10.5" fill="#f07890" opacity="0.96"/>
<circle cx="3950.2" cy="1535.3" r="9.6" fill="#8a70b0" opacity="0.7"/>
<circle cx="4192.0" cy="1625.1" r="9.0" fill="#a0d8c8" opacity="0.66"/>
<circle cx="4223.0" cy="1610.1" r="9.6" fill="#a0d8c8" opacity="0.66"/>
<circle cx="4213.3" cy="1876.6" r="6.6" fill="#c8e89a" opacity="0.8"/>
<circle cx="4359.6" cy="1750.2" r="9.4" fill="#d890b0" opacity="0.89"/>
<circle cx="4416.7" cy="1670.7" r="8.0" fill="#8a70b0" opacity="0.67"/>
<circle cx="4294.1" cy="1656.8" r="9.9" fill="#b070a0" opacity="0.88"/>
<circle cx="4117.5" cy="1876.5" r="8.3" fill="#f07890" opacity="0.99"/>
<circle cx="4057.9" cy="1930.2" r="8.8" fill="#f07890" opacity="0.61"/>
<circle cx="4130.5" cy="1801.8" r="10.6" fill="#f8c8d0" opacity="0.68"/>
<circle cx="3961.1" cy="1805.9" r="7.9" fill="#f07890" opacity="0.79"/>
<circle cx="4274.5" cy="1453.6" r="8.6" fill="#a0d8c8" opacity="0.83"/>
<circle cx="4090.7" cy="1785.8" r="14.6" fill="#c8e89a" opacity="0.66"/>
<circle cx="4237.0" cy="1676.1" r="12.0" fill="#c8e89a" opacity="0.88"/>
<circle cx="4250.0" cy="1681.0" r="14.8" fill="#e8607e" opacity="0.89"/>
<circle cx="4352.1" cy="1750.2" r="7.8" fill="#e8607e" opacity="0.96"/>
<circle cx="4397.0" cy="1769.6" r="8.9" fill="#f2a2b4" opacity="0.7"/>
<circle cx="4156.1" cy="1711.5" r="12.2" fill="#e8607e" opacity="0.93"/>
<circle cx="4030.5" cy="1544.7" r="5.8" fill="#a0d8c8" opacity="0.72"/>
<circle cx="4060.3" cy="1787.9" r="7.7" fill="#f4a0b0" opacity="0.89"/>
<circle cx="4024.7" cy="1782.1" r="12.3" fill="#b070a0" opacity="0.85"/>
<circle cx="4330.0" cy="1696.3" r="8.3" fill="#f8c8d0" opacity="0.79"/>
<circle cx="4356.5" cy="1725.5" r="10.4" fill="#e8607e" opacity="0.93"/>
<circle cx="4145.2" cy="1669.2" r="6.5" fill="#f4a0b0" opacity="0.6"/>
<circle cx="3929.1" cy="1671.8" r="11.0" fill="#d06a90" opacity="0.84"/>
<circle cx="4348.5" cy="1604.3" r="9.4" fill="#a0d8c8" opacity="0.98"/>
<circle cx="4154.2" cy="1778.2" r="12.1" fill="#8a70b0" opacity="0.92"/>
<circle cx="4052.9" cy="1414.8" r="7.3" fill="#d0e8b0" opacity="0.97"/>
<circle cx="4342.4" cy="1501.4" r="6.2" fill="#f8c8d0" opacity="0.68"/>
<circle cx="4116.3" cy="1936.6" r="6.6" fill="#a0d8c8" opacity="0.98"/>
<circle cx="4302.3" cy="1821.2" r="10.2" fill="#f2a2b4" opacity="0.74"/>
<circle cx="4085.0" cy="1762.1" r="11.4" fill="#f8c8d0" opacity="0.67"/>
<circle cx="3894.3" cy="1756.4" r="7.0" fill="#8a70b0" opacity="0.86"/>
<circle cx="4069.2" cy="1463.3" r="7.0" fill="#c8e89a" opacity="0.89"/>
<circle cx="4393.1" cy="1620.7" r="7.2" fill="#a0d8c8" opacity="0.73"/>
<circle cx="4250.8" cy="1927.9" r="7.9" fill="#e8607e" opacity="0.68"/>
<circle cx="4207.7" cy="1751.5" r="7.3" fill="#b070a0" opacity="0.68"/>
<circle cx="4076.2" cy="1587.1" r="6.6" fill="#f4a0b0" opacity="0.61"/>
<circle cx="4261.4" cy="1506.9" r="6.7" fill="#b070a0" opacity="0.79"/>
<circle cx="4287.2" cy="1836.7" r="8.1" fill="#d890b0" opacity="0.88"/>
<circle cx="3933.2" cy="1537.2" r="8.5" fill="#a0d8c8" opacity="0.87"/>
<circle cx="4012.1" cy="1507.0" r="7.4" fill="#e8607e" opacity="0.96"/>
<circle cx="4149.1" cy="1844.7" r="10.4" fill="#d0e8b0" opacity="0.79"/>
<circle cx="4417.1" cy="1693.4" r="6.7" fill="#c8e89a" opacity="0.96"/>
<circle cx="4125.4" cy="1686.6" r="11.3" fill="#e8607e" opacity="0.62"/>
<circle cx="4023.6" cy="1628.4" r="10.9" fill="#f07890" opacity="0.74"/>
<circle cx="4256.8" cy="1498.1" r="6.6" fill="#f4a0b0" opacity="0.86"/>
<circle cx="4243.7" cy="1474.3" r="8.1" fill="#a0d8c8"/>
<circle cx="4227.3" cy="1851.7" r="12.1" fill="#f8c8d0" opacity="0.86"/>
<circle cx="4137.1" cy="1840.6" r="8.2" fill="#d0e8b0" opacity="0.85"/>
<circle cx="4035.6" cy="1461.7" r="5.8" fill="#d0e8b0" opacity="0.98"/>
<circle cx="4001.0" cy="1636.8" r="11.1" fill="#a0d8c8" opacity="0.67"/>
<circle cx="4211.5" cy="1627.1" r="11.0" fill="#f07890" opacity="0.89"/>
<circle cx="4185.5" cy="1557.3" r="10.0" fill="#d0e8b0" opacity="0.79"/>
<circle cx="4078.6" cy="1868.1" r="6.0" fill="#f8c8d0" opacity="0.91"/>
<circle cx="4171.0" cy="1903.5" r="7.7" fill="#c8e89a" opacity="0.79"/>
<circle cx="4231.9" cy="1414.4" r="5.8" fill="#f8c8d0" opacity="0.79"/>
<circle cx="3923.3" cy="1761.4" r="7.5" fill="#b070a0" opacity="0.94"/>
<circle cx="4396.8" cy="1753.3" r="8.9" fill="#e4789a" opacity="0.81"/>
<circle cx="4010.5" cy="1844.4" r="10.0" fill="#e8607e" opacity="0.86"/>
<circle cx="4140.0" cy="1753.1" r="6.1" fill="#8a70b0" opacity="0.74"/>
<circle cx="4304.5" cy="1887.6" r="8.2" fill="#c8a0c8" opacity="0.84"/>
<circle cx="4188.1" cy="1425.6" r="8.8" fill="#b070a0" opacity="0.68"/>
<circle cx="4062.8" cy="1460.6" r="10.6" fill="#e8607e" opacity="0.82"/>
<circle cx="4126.7" cy="1800.9" r="6.1" fill="#f4a0b0" opacity="0.79"/>
<circle cx="4349.0" cy="1523.1" r="5.2" fill="#f4a0b0" opacity="0.66"/>
<circle cx="4032.0" cy="1880.2" r="6.6" fill="#8a70b0" opacity="0.75"/>
<circle cx="3882.2" cy="1799.9" r="4.2" fill="#f4a0b0" opacity="0.61"/>
<circle cx="4388.0" cy="1731.3" r="9.4" fill="#f2a2b4" opacity="0.8"/>
<circle cx="3855.8" cy="1686.6" r="4.0" fill="#f4c0d0" opacity="0.65"/>
<circle cx="4342.8" cy="1792.7" r="5.7" fill="#e8607e" opacity="0.91"/>
<circle cx="4188.6" cy="1847.0" r="8.2" fill="#b070a0" opacity="0.72"/>
<circle cx="4229.9" cy="1496.0" r="8.8" fill="#f07890" opacity="0.74"/>
<circle cx="4200.9" cy="1856.4" r="5.9" fill="#b070a0" opacity="0.65"/>
<circle cx="4227.9" cy="1645.3" r="12.5" fill="#f07890" opacity="0.95"/>
<circle cx="4075.5" cy="1641.7" r="10.9" fill="#a0d8c8" opacity="0.93"/>
<circle cx="3879.5" cy="1699.9" r="4.1" fill="#b87aa0" opacity="0.84"/>
<circle cx="3962.7" cy="1505.1" r="7.7" fill="#e8607e" opacity="0.69"/>
<circle cx="4038.4" cy="1488.5" r="10.8" fill="#c8e89a" opacity="0.95"/>
<circle cx="4055.8" cy="1703.9" r="18.1" fill="#c8e89a" opacity="0.91"/>
<circle cx="3998.4" cy="1603.5" r="7.3" fill="#f8c8d0" opacity="0.61"/>
<circle cx="3930.4" cy="1570.0" r="11.9" fill="#f07890" opacity="0.62"/>
<circle cx="4339.1" cy="1838.8" r="7.0" fill="#d890b0" opacity="0.63"/>
<circle cx="4041.1" cy="1456.2" r="12.5" fill="#c8e89a" opacity="0.79"/>
<circle cx="4057.9" cy="1708.8" r="9.9" fill="#c8e89a" opacity="0.85"/>
<circle cx="4113.9" cy="1672.5" r="10.1" fill="#e8607e" opacity="0.69"/>
<circle cx="4289.8" cy="1798.8" r="7.1" fill="#d890b0" opacity="0.89"/>
<circle cx="4165.9" cy="1720.5" r="10.9" fill="#c8e89a" opacity="0.89"/>
<circle cx="4346.2" cy="1777.1" r="7.8" fill="#f6c2cc" opacity="0.97"/>
<circle cx="4191.0" cy="1677.0" r="5.5" fill="#e8607e" opacity="0.76"/>
<circle cx="4050.7" cy="1869.2" r="12.2" fill="#f4a0b0" opacity="0.73"/>
<circle cx="4383.9" cy="1581.1" r="6.4" fill="#e8607e" opacity="0.75"/>
<circle cx="3993.3" cy="1476.8" r="6.1" fill="#8a70b0" opacity="0.98"/>
<circle cx="4189.0" cy="1445.1" r="10.8" fill="#f8c8d0" opacity="0.95"/>
<circle cx="4134.3" cy="1624.0" r="6.2" fill="#d0e8b0" opacity="0.99"/>
<circle cx="4144.6" cy="1841.9" r="7.9" fill="#a0d8c8" opacity="0.92"/>
<circle cx="4137.4" cy="1671.7" r="7.0" fill="#f4a0b0" opacity="0.72"/>
<circle cx="4320.4" cy="1873.3" r="9.4" fill="#e8607e" opacity="0.87"/>
<circle cx="4292.1" cy="1571.2" r="5.7" fill="#d0e8b0" opacity="0.68"/>
<circle cx="4140.3" cy="1377.8" r="5.1" fill="#d0e8b0" opacity="0.79"/>
<circle cx="4181.0" cy="1802.1" r="10.7" fill="#8a70b0" opacity="0.82"/>
<circle cx="3965.0" cy="1620.8" r="5.5" fill="#b87aa0" opacity="0.96"/>
<circle cx="4303.4" cy="1520.4" r="8.6" fill="#a0d8c8" opacity="0.69"/>
<circle cx="4366.4" cy="1803.7" r="5.4" fill="#f6c2cc" opacity="0.76"/>
<circle cx="4024.3" cy="1647.8" r="5.4" fill="#f8c8d0" opacity="0.95"/>
<circle cx="3998.0" cy="1803.6" r="5.6" fill="#f4a0b0" opacity="0.74"/>
<circle cx="4097.1" cy="1654.9" r="5.3" fill="#8a70b0" opacity="0.83"/>
<circle cx="4205.8" cy="1933.9" r="5.3" fill="#8a70b0" opacity="0.91"/>
<circle cx="4264.0" cy="1399.5" r="7.8" fill="#a0d8c8"/>
<circle cx="4103.9" cy="1693.6" r="5.3" fill="#8a70b0" opacity="0.79"/>
<circle cx="4301.1" cy="1431.9" r="8.6" fill="#e8607e" opacity="0.88"/>
<circle cx="4283.7" cy="1748.4" r="6.8" fill="#c8a0c8" opacity="0.8"/>
<circle cx="4254.1" cy="1905.7" r="5.9" fill="#a0d8c8" opacity="0.67"/>
<circle cx="4413.0" cy="1558.4" r="4.1" fill="#f4a0b0" opacity="0.93"/>
<circle cx="4395.7" cy="1735.5" r="7.8" fill="#d890b0" opacity="0.62"/>
<circle cx="4300.8" cy="1860.5" r="9.1" fill="#f6c2cc" opacity="0.84"/>
<circle cx="3912.9" cy="1745.2" r="6.4" fill="#d0e8b0" opacity="0.65"/>
<circle cx="4017.1" cy="1674.1" r="6.8" fill="#f4a0b0" opacity="0.79"/>
<circle cx="4369.8" cy="1523.6" r="4.7" fill="#e8607e" opacity="0.97"/>
<circle cx="4330.2" cy="1455.3" r="4.6" fill="#e8607e" opacity="0.97"/>
<circle cx="4106.7" cy="1688.5" r="5.6" fill="#f8c8d0" opacity="0.93"/>
<circle cx="3903.5" cy="1692.6" r="4.6" fill="#e892b2" opacity="0.67"/>
<circle cx="3868.9" cy="1742.9" r="6.2" fill="#d0e8b0" opacity="0.76"/>
<circle cx="4227.6" cy="1786.3" r="11.3" fill="#c8e89a" opacity="0.7"/>
<circle cx="4297.5" cy="1785.1" r="8.7" fill="#e8607e" opacity="0.62"/>
<circle cx="4334.7" cy="1513.6" r="5.0" fill="#b070a0" opacity="0.65"/>
<circle cx="4149.0" cy="1372.1" r="6.2" fill="#a0d8c8" opacity="0.97"/>
<circle cx="4272.6" cy="1750.5" r="17.7" fill="#b070a0" opacity="0.66"/>
<circle cx="4012.1" cy="1510.4" r="8.8" fill="#8a70b0" opacity="0.6"/>
<circle cx="4248.1" cy="1475.6" r="6.4" fill="#d0e8b0" opacity="0.69"/>
<circle cx="4039.1" cy="1612.9" r="6.4" fill="#c8e89a" opacity="0.68"/>
<circle cx="4218.3" cy="1701.3" r="9.6" fill="#b070a0" opacity="0.67"/>
<circle cx="4300.7" cy="1841.5" r="7.3" fill="#f6c2cc" opacity="0.68"/>
<circle cx="4376.3" cy="1760.4" r="6.1" fill="#f2a2b4" opacity="0.81"/>
<circle cx="4047.9" cy="1786.9" r="9.8" fill="#e8607e" opacity="0.61"/>
<circle cx="4315.8" cy="1552.1" r="11.6" fill="#c8e89a" opacity="0.83"/>
<circle cx="4197.5" cy="1655.0" r="10.3" fill="#f4a0b0" opacity="0.74"/>
<circle cx="4410.1" cy="1541.0" r="4.2" fill="#a0d8c8" opacity="0.93"/>
<circle cx="4253.3" cy="1536.1" r="10.4" fill="#f4a0b0" opacity="0.72"/>
<circle cx="4340.9" cy="1816.5" r="9.4" fill="#e8607e" opacity="0.65"/>
<circle cx="4143.6" cy="1746.9" r="9.7" fill="#b070a0" opacity="0.7"/>
<circle cx="4161.4" cy="1613.7" r="5.8" fill="#a0d8c8" opacity="0.7"/>
<circle cx="4265.5" cy="1460.9" r="6.4" fill="#8a70b0" opacity="0.64"/>
<circle cx="4314.2" cy="1479.0" r="4.0" fill="#8a70b0" opacity="0.83"/>
<circle cx="4147.2" cy="1563.3" r="5.9" fill="#f07890" opacity="0.84"/>
<circle cx="4214.3" cy="1574.1" r="9.3" fill="#c8e89a" opacity="0.98"/>
<circle cx="4378.5" cy="1687.0" r="7.7" fill="#f07890" opacity="0.61"/>
<circle cx="4207.5" cy="1647.7" r="7.8" fill="#f8c8d0" opacity="0.89"/>
<circle cx="4264.9" cy="1476.8" r="12.5" fill="#d0e8b0" opacity="0.94"/>
<circle cx="4344.6" cy="1729.4" r="12.2" fill="#e4789a" opacity="0.95"/>
<circle cx="4123.2" cy="1633.1" r="5.8" fill="#f8c8d0" opacity="0.77"/>
<circle cx="4096.5" cy="1658.7" r="6.1" fill="#8a70b0" opacity="0.85"/>
<circle cx="4243.1" cy="1403.9" r="13.1" fill="#b070a0" opacity="0.97"/>
<circle cx="3969.5" cy="1497.7" r="12.5" fill="#e8607e" opacity="0.7"/>
<circle cx="3943.1" cy="1635.5" r="12.2" fill="#f0a8c0" opacity="0.74"/>
<circle cx="4176.9" cy="1722.3" r="12.2" fill="#b070a0" opacity="0.63"/>
<circle cx="3894.6" cy="1508.4" r="6.3" fill="#b070a0" opacity="0.97"/>
<circle cx="4000.5" cy="1588.5" r="10.6" fill="#b070a0" opacity="0.94"/>
<circle cx="3964.6" cy="1519.3" r="9.9" fill="#f8c8d0" opacity="0.78"/>
<circle cx="3914.7" cy="1592.0" r="6.4" fill="#c088a8" opacity="0.73"/>
<circle cx="4223.5" cy="1860.2" r="12.3" fill="#f8c8d0" opacity="0.66"/>
<circle cx="4303.8" cy="1610.6" r="7.5" fill="#a0d8c8" opacity="0.72"/>
<circle cx="4156.6" cy="1544.7" r="5.5" fill="#8a70b0" opacity="0.86"/>
<circle cx="3866.3" cy="1631.5" r="5.8" fill="#b87aa0" opacity="0.69"/>
<circle cx="4390.6" cy="1596.5" r="4.6" fill="#f8c8d0" opacity="0.66"/>
<circle cx="4209.3" cy="1878.4" r="5.3" fill="#e8607e" opacity="0.9"/>
<circle cx="4128.9" cy="1405.4" r="6.5" fill="#c8e89a" opacity="0.77"/>
<circle cx="4293.8" cy="1773.3" r="9.2" fill="#d890b0" opacity="0.99"/>
<circle cx="3964.7" cy="1577.4" r="10.9" fill="#b87aa0" opacity="0.64"/>
<circle cx="4289.6" cy="1464.7" r="5.4" fill="#f8c8d0" opacity="0.76"/>
<circle cx="3964.3" cy="1598.2" r="7.4" fill="#d06a90" opacity="0.75"/>
<circle cx="4071.7" cy="1863.7" r="11.1" fill="#d0e8b0" opacity="0.83"/>
<circle cx="4386.1" cy="1807.2" r="5.6" fill="#e4789a" opacity="0.98"/>
<circle cx="4195.7" cy="1843.1" r="17.8" fill="#f4a0b0" opacity="0.7"/>
<circle cx="4271.0" cy="1562.6" r="9.1" fill="#d0e8b0" opacity="0.81"/>
<circle cx="3892.0" cy="1633.8" r="6.0" fill="#b87aa0" opacity="0.87"/>
<circle cx="4110.6" cy="1668.7" r="5.5" fill="#d0e8b0" opacity="0.75"/>
<circle cx="3956.6" cy="1787.7" r="9.3" fill="#d0e8b0" opacity="0.79"/>
<circle cx="3918.4" cy="1744.8" r="9.4" fill="#f07890" opacity="0.9"/>
<circle cx="4291.9" cy="1756.4" r="11.7" fill="#f6c2cc" opacity="0.81"/>
<circle cx="4359.1" cy="1836.9" r="7.7" fill="#e8607e" opacity="0.96"/>
<circle cx="4035.2" cy="1715.1" r="7.2" fill="#f07890" opacity="0.96"/>
<circle cx="4077.0" cy="1697.6" r="9.3" fill="#f4a0b0" opacity="0.88"/>
<circle cx="4155.9" cy="1661.0" r="10.4" fill="#b070a0" opacity="0.76"/>
<circle cx="4170.5" cy="1681.1" r="5.2" fill="#f07890" opacity="0.83"/>
<circle cx="4336.7" cy="1459.7" r="6.7" fill="#a0d8c8" opacity="0.76"/>
<circle cx="4226.2" cy="1740.0" r="10.7" fill="#e8607e" opacity="0.63"/>
<circle cx="4339.8" cy="1594.1" r="8.5" fill="#f4a0b0" opacity="0.86"/>
<circle cx="4048.4" cy="1456.1" r="6.1" fill="#b070a0" opacity="0.67"/>
<circle cx="4130.1" cy="1751.7" r="11.8" fill="#f8c8d0" opacity="0.68"/>
<circle cx="4110.0" cy="1631.3" r="6.7" fill="#f4a0b0" opacity="0.78"/>
<circle cx="4030.4" cy="1559.9" r="5.4" fill="#c8e89a" opacity="0.73"/>
<circle cx="4359.1" cy="1503.3" r="5.5" fill="#8a70b0" opacity="0.99"/>
<circle cx="4366.0" cy="1759.0" r="7.6" fill="#d890b0" opacity="0.72"/>
<circle cx="4288.6" cy="1516.4" r="11.0" fill="#c8e89a" opacity="0.67"/>
<circle cx="4120.9" cy="1677.6" r="11.7" fill="#f8c8d0" opacity="0.65"/>
<circle cx="3957.0" cy="1621.8" r="12.1" fill="#e892b2" opacity="0.77"/>
<circle cx="4331.6" cy="1546.9" r="7.9" fill="#f8c8d0" opacity="0.69"/>
<circle cx="4379.8" cy="1711.9" r="5.7" fill="#c8a0c8" opacity="0.65"/>
<circle cx="4213.7" cy="1863.6" r="11.0" fill="#8a70b0" opacity="0.93"/>
<circle cx="4180.7" cy="1550.2" r="7.7" fill="#d0e8b0" opacity="0.85"/>
<circle cx="3996.4" cy="1582.6" r="8.6" fill="#8a70b0" opacity="0.87"/>
<circle cx="4421.4" cy="1556.1" r="7.1" fill="#f8c8d0" opacity="0.81"/>
<circle cx="3962.6" cy="1778.3" r="6.0" fill="#f07890" opacity="0.64"/>
<circle cx="4294.4" cy="1458.8" r="12.1" fill="#c8e89a" opacity="0.72"/>
<circle cx="4071.9" cy="1714.7" r="6.4" fill="#f8c8d0" opacity="0.68"/>
<circle cx="4201.0" cy="1611.9" r="11.9" fill="#b070a0" opacity="0.68"/>
<circle cx="4122.5" cy="1575.0" r="7.2" fill="#d0e8b0" opacity="0.71"/>
<circle cx="3904.0" cy="1819.0" r="8.1" fill="#c8e89a" opacity="0.97"/>
<circle cx="4221.4" cy="1818.4" r="11.0" fill="#d0e8b0" opacity="0.61"/>
<circle cx="4081.3" cy="1469.5" r="12.6" fill="#e8607e" opacity="0.67"/>
<circle cx="4355.7" cy="1845.0" r="7.9" fill="#f2a2b4" opacity="0.76"/>
<circle cx="3986.4" cy="1539.1" r="10.7" fill="#f4a0b0" opacity="0.82"/>
<circle cx="3939.1" cy="1453.9" r="7.0" fill="#8a70b0" opacity="0.89"/>
<circle cx="4134.1" cy="1852.7" r="10.2" fill="#f4a0b0" opacity="0.64"/>
<circle cx="4161.0" cy="1424.2" r="8.9" fill="#f4a0b0" opacity="0.99"/>
<circle cx="4115.6" cy="1608.9" r="7.4" fill="#f8c8d0" opacity="0.9"/>
<circle cx="4355.3" cy="1785.5" r="6.0" fill="#e4789a" opacity="0.71"/>
<circle cx="4387.6" cy="1812.3" r="6.2" fill="#c8a0c8" opacity="0.8"/>
<circle cx="4035.8" cy="1412.0" r="7.3" fill="#a0d8c8" opacity="0.77"/>
<circle cx="3850.4" cy="1639.0" r="4.5" fill="#e892b2" opacity="0.98"/>
<circle cx="4242.5" cy="1465.3" r="6.3" fill="#a0d8c8" opacity="0.82"/>
<circle cx="4140.1" cy="1731.2" r="7.7" fill="#a0d8c8" opacity="0.85"/>
<circle cx="4302.5" cy="1843.8" r="6.5" fill="#c8a0c8" opacity="0.7"/>
<circle cx="3939.9" cy="1641.2" r="12.1" fill="#f0a8c0" opacity="0.65"/>
<circle cx="4079.3" cy="1443.8" r="6.8" fill="#e8607e" opacity="0.82"/>
<circle cx="4148.2" cy="1540.0" r="10.0" fill="#8a70b0" opacity="0.94"/>
<circle cx="4026.2" cy="1733.9" r="15.3" fill="#8a70b0" opacity="0.68"/>
<circle cx="4288.4" cy="1717.3" r="6.5" fill="#d890b0" opacity="0.99"/>
<circle cx="4246.3" cy="1825.5" r="9.3" fill="#f07890" opacity="0.63"/>
<circle cx="4439.5" cy="1679.8" r="8.0" fill="#f8c8d0" opacity="0.99"/>
<circle cx="4048.4" cy="1622.5" r="8.7" fill="#a0d8c8" opacity="0.91"/>
<circle cx="4061.2" cy="1817.7" r="5.7" fill="#b070a0" opacity="0.86"/>
<circle cx="4369.8" cy="1779.2" r="3.9" fill="#e4789a" opacity="0.72"/>
<circle cx="4234.6" cy="1874.8" r="8.5" fill="#c8e89a" opacity="0.64"/>
<circle cx="4107.3" cy="1500.2" r="9.7" fill="#f8c8d0" opacity="0.73"/>
<circle cx="3988.3" cy="1819.6" r="7.8" fill="#a0d8c8" opacity="0.62"/>
<circle cx="4351.0" cy="1823.4" r="9.0" fill="#d890b0" opacity="0.96"/>
<circle cx="4339.4" cy="1590.3" r="8.8" fill="#b070a0" opacity="0.84"/>
<circle cx="4060.5" cy="1581.4" r="6.7" fill="#d0e8b0" opacity="0.64"/>
<circle cx="4333.5" cy="1708.1" r="6.5" fill="#f2a2b4" opacity="0.61"/>
<circle cx="3928.8" cy="1488.9" r="6.7" fill="#e8607e" opacity="0.86"/>
<circle cx="3945.2" cy="1642.6" r="7.6" fill="#f4c0d0" opacity="0.98"/>
<circle cx="4254.6" cy="1882.7" r="8.9" fill="#f8c8d0" opacity="0.83"/>
<circle cx="3922.2" cy="1701.9" r="8.9" fill="#b87aa0" opacity="0.96"/>
<circle cx="4337.3" cy="1444.0" r="9.2" fill="#f4a0b0" opacity="0.89"/>
<circle cx="4020.1" cy="1866.8" r="7.0" fill="#f8c8d0" opacity="0.79"/>
<circle cx="4040.9" cy="1532.2" r="7.6" fill="#f4a0b0" opacity="0.94"/>
<circle cx="4184.6" cy="1907.7" r="7.7" fill="#f8c8d0" opacity="0.82"/>
<circle cx="4309.4" cy="1598.7" r="6.8" fill="#b070a0" opacity="0.65"/>
<circle cx="4260.3" cy="1909.9" r="6.9" fill="#b070a0" opacity="0.86"/>
<circle cx="4234.4" cy="1881.1" r="7.8" fill="#8a70b0" opacity="0.69"/>
<circle cx="4049.1" cy="1616.6" r="8.9" fill="#e8607e" opacity="0.94"/>
<circle cx="4024.4" cy="1423.7" r="4.5" fill="#f07890" opacity="0.89"/>
<circle cx="4144.4" cy="1561.1" r="12.5" fill="#e8607e" opacity="0.78"/>
<circle cx="4052.9" cy="1461.5" r="12.3" fill="#8a70b0" opacity="0.91"/>
<circle cx="4313.3" cy="1855.1" r="4.1" fill="#f6c2cc" opacity="0.62"/>
<circle cx="4052.4" cy="1387.1" r="6.4" fill="#c8e89a" opacity="0.77"/>
<circle cx="4321.7" cy="1511.6" r="8.7" fill="#f8c8d0" opacity="0.67"/>
<circle cx="4134.9" cy="1489.3" r="10.8" fill="#b070a0" opacity="0.65"/>
<circle cx="3959.3" cy="1839.7" r="9.1" fill="#f4a0b0" opacity="0.93"/>
<circle cx="4031.2" cy="1798.8" r="7.5" fill="#f4a0b0" opacity="0.97"/>
<circle cx="4071.1" cy="1528.5" r="6.5" fill="#8a70b0" opacity="0.65"/>
<circle cx="4239.3" cy="1672.8" r="11.1" fill="#f07890" opacity="0.97"/>
<circle cx="4313.0" cy="1489.5" r="8.5" fill="#b070a0" opacity="0.82"/>
<circle cx="4039.5" cy="1415.9" r="13.7" fill="#f8c8d0"/>
<circle cx="3931.0" cy="1676.4" r="5.3" fill="#e892b2" opacity="0.67"/>
<circle cx="4243.4" cy="1440.9" r="6.0" fill="#c8e89a" opacity="0.88"/>
<circle cx="4003.2" cy="1704.4" r="12.2" fill="#f8c8d0" opacity="0.73"/>
<circle cx="4199.9" cy="1930.3" r="10.6" fill="#c8e89a" opacity="0.93"/>
<circle cx="4115.3" cy="1493.4" r="8.6" fill="#f8c8d0" opacity="0.6"/>
<circle cx="3987.0" cy="1579.4" r="5.2" fill="#f4a0b0" opacity="0.85"/>
<circle cx="4123.5" cy="1550.4" r="11.9" fill="#b070a0" opacity="0.74"/>
<circle cx="3933.7" cy="1560.4" r="6.1" fill="#f07890" opacity="0.96"/>
<circle cx="4251.1" cy="1733.5" r="8.2" fill="#e8607e" opacity="0.75"/>
<circle cx="4087.0" cy="1915.6" r="8.7" fill="#e8607e" opacity="0.72"/>
<circle cx="4161.7" cy="1409.5" r="6.6" fill="#f8c8d0" opacity="0.95"/>
<circle cx="4102.7" cy="1494.8" r="10.3" fill="#8a70b0" opacity="0.8"/>
<circle cx="4353.4" cy="1497.8" r="9.4" fill="#a0d8c8" opacity="0.6"/>
<circle cx="4279.8" cy="1517.4" r="8.4" fill="#b070a0" opacity="0.97"/>
<circle cx="4042.3" cy="1602.5" r="10.4" fill="#f07890" opacity="0.86"/>
<circle cx="4219.8" cy="1643.1" r="6.5" fill="#c8e89a" opacity="0.72"/>
<circle cx="4015.2" cy="1819.2" r="12.3" fill="#e8607e" opacity="0.94"/>
<circle cx="4086.8" cy="1771.0" r="11.8" fill="#c8e89a" opacity="0.85"/>
<circle cx="4143.5" cy="1701.3" r="5.4" fill="#b070a0" opacity="0.95"/>
<circle cx="4060.1" cy="1556.0" r="10.6" fill="#f4a0b0" opacity="0.63"/>
<circle cx="4242.9" cy="1405.3" r="5.7" fill="#a0d8c8" opacity="0.71"/>
<circle cx="4116.9" cy="1632.1" r="11.2" fill="#f8c8d0" opacity="0.73"/>
<circle cx="4139.0" cy="1424.5" r="6.1" fill="#f8c8d0" opacity="0.67"/>
<circle cx="4315.7" cy="1462.5" r="4.3" fill="#8a70b0"/>
<circle cx="3904.0" cy="1827.3" r="13.1" fill="#f8c8d0" opacity="0.83"/>
<circle cx="4211.1" cy="1654.6" r="9.6" fill="#f8c8d0" opacity="0.66"/>
<circle cx="4277.3" cy="1675.6" r="9.0" fill="#f8c8d0" opacity="0.93"/>
<circle cx="3944.0" cy="1759.5" r="9.5" fill="#f8c8d0" opacity="0.69"/>
<circle cx="3940.3" cy="1481.1" r="9.7" fill="#b070a0" opacity="0.86"/>
<circle cx="3898.8" cy="1584.8" r="6.9" fill="#b87aa0" opacity="0.98"/>
<circle cx="4159.4" cy="1680.5" r="8.6" fill="#f8c8d0" opacity="0.66"/>
<circle cx="4008.4" cy="1525.9" r="12.4" fill="#c8e89a" opacity="0.65"/>
<circle cx="4008.6" cy="1624.5" r="10.9" fill="#f8c8d0" opacity="0.9"/>
<circle cx="4370.5" cy="1503.6" r="8.6" fill="#f07890" opacity="0.61"/>
<circle cx="4166.1" cy="1518.2" r="12.4" fill="#f8c8d0" opacity="0.96"/>
<circle cx="4033.6" cy="1746.5" r="16.5" fill="#f4a0b0" opacity="0.63"/>
<circle cx="4023.3" cy="1513.2" r="17.3" fill="#d0e8b0" opacity="0.76"/>
<circle cx="4396.0" cy="1521.7" r="7.3" fill="#b070a0" opacity="0.61"/>
<circle cx="4102.5" cy="1520.9" r="7.7" fill="#d0e8b0" opacity="0.86"/>
<circle cx="4049.9" cy="1938.1" r="5.0" fill="#c8e89a" opacity="0.79"/>
<circle cx="4381.9" cy="1556.5" r="9.2" fill="#b070a0" opacity="0.71"/>
<circle cx="4037.1" cy="1837.6" r="11.7" fill="#8a70b0" opacity="0.68"/>
<circle cx="4392.4" cy="1743.2" r="8.6" fill="#f2a2b4" opacity="0.91"/>
<circle cx="4224.1" cy="1565.5" r="11.5" fill="#b070a0" opacity="0.87"/>
<circle cx="4179.8" cy="1552.8" r="11.9" fill="#b070a0" opacity="0.66"/>
<circle cx="4131.7" cy="1569.0" r="6.3" fill="#e8607e" opacity="0.77"/>
<circle cx="3985.9" cy="1474.2" r="6.0" fill="#f4a0b0" opacity="0.83"/>
<circle cx="4211.8" cy="1880.8" r="3.9" fill="#a0d8c8" opacity="0.83"/>
<circle cx="4058.1" cy="1423.5" r="4.0" fill="#e8607e" opacity="0.95"/>
<circle cx="4293.0" cy="1800.1" r="6.0" fill="#e4789a" opacity="0.69"/>
<circle cx="3907.9" cy="1601.5" r="6.9" fill="#b87aa0" opacity="0.74"/>
<circle cx="3851.2" cy="1666.6" r="5.7" fill="#c088a8" opacity="0.89"/>
<circle cx="4121.7" cy="1781.8" r="10.5" fill="#f4a0b0" opacity="0.68"/>
<circle cx="4395.8" cy="1736.9" r="9.1" fill="#f6c2cc" opacity="0.88"/>
<circle cx="4012.9" cy="1483.1" r="9.2" fill="#b070a0" opacity="0.76"/>
<circle cx="4058.8" cy="1832.1" r="12.4" fill="#d0e8b0" opacity="0.95"/>
<circle cx="4234.6" cy="1398.6" r="7.4" fill="#f07890" opacity="0.97"/>
<circle cx="4133.1" cy="1888.4" r="5.9" fill="#a0d8c8" opacity="0.87"/>
<circle cx="4343.0" cy="1779.5" r="4.0" fill="#d890b0" opacity="0.88"/>
<circle cx="4030.9" cy="1869.8" r="6.9" fill="#f4a0b0" opacity="0.79"/>
<circle cx="4015.7" cy="1499.7" r="7.6" fill="#d0e8b0" opacity="0.69"/>
<circle cx="3961.5" cy="1476.8" r="5.9" fill="#d0e8b0" opacity="0.99"/>
<circle cx="4114.8" cy="1896.2" r="12.7" fill="#f07890" opacity="0.87"/>
<circle cx="4374.1" cy="1542.4" r="5.2" fill="#f8c8d0" opacity="0.81"/>
<circle cx="3999.8" cy="1680.1" r="6.1" fill="#f07890" opacity="0.75"/>
<circle cx="4174.7" cy="1775.4" r="7.8" fill="#c8e89a" opacity="0.93"/>
<circle cx="3906.3" cy="1717.8" r="8.4" fill="#e892b2" opacity="0.73"/>
<circle cx="3959.1" cy="1867.4" r="6.2" fill="#b070a0" opacity="0.75"/>
<circle cx="3978.0" cy="1838.8" r="6.7" fill="#e8607e" opacity="0.71"/>
<circle cx="4089.3" cy="1849.0" r="5.9" fill="#c8e89a" opacity="0.9"/>
<circle cx="4286.3" cy="1855.0" r="5.8" fill="#e4789a" opacity="0.85"/>
<circle cx="3873.1" cy="1621.7" r="5.2" fill="#e892b2" opacity="0.83"/>
<circle cx="4259.0" cy="1703.8" r="10.4" fill="#f8c8d0" opacity="0.7"/>
<circle cx="4120.7" cy="1852.6" r="9.0" fill="#e8607e" opacity="0.68"/>
<circle cx="3902.4" cy="1780.8" r="7.3" fill="#f4a0b0" opacity="0.89"/>
<circle cx="4096.3" cy="1702.0" r="10.7" fill="#d0e8b0" opacity="0.86"/>
<circle cx="4206.7" cy="1499.0" r="7.9" fill="#a0d8c8" opacity="0.99"/>
<circle cx="4276.9" cy="1481.3" r="5.5" fill="#e8607e" opacity="0.63"/>
<circle cx="3962.0" cy="1721.5" r="8.1" fill="#f4c0d0" opacity="0.9"/>
<circle cx="4369.1" cy="1696.0" r="8.5" fill="#d0e8b0" opacity="0.77"/>
<circle cx="3859.5" cy="1705.5" r="6.3" fill="#b87aa0" opacity="0.9"/>
<circle cx="4285.0" cy="1668.4" r="6.5" fill="#b070a0" opacity="0.82"/>
<circle cx="4171.9" cy="1405.4" r="4.4" fill="#e8607e" opacity="0.83"/>
<circle cx="4351.5" cy="1680.0" r="11.4" fill="#8a70b0" opacity="0.62"/>
<circle cx="4033.2" cy="1436.3" r="9.7" fill="#d0e8b0" opacity="0.94"/>
<circle cx="4262.3" cy="1803.9" r="5.4" fill="#f8c8d0" opacity="0.73"/>
<circle cx="4116.8" cy="1657.4" r="12.5" fill="#b070a0" opacity="0.63"/>
<circle cx="3957.1" cy="1819.0" r="5.5" fill="#d0e8b0" opacity="0.87"/>
<circle cx="4087.5" cy="1796.5" r="7.9" fill="#f07890" opacity="0.7"/>
<circle cx="4160.4" cy="1723.7" r="9.1" fill="#8a70b0" opacity="0.86"/>
<circle cx="4111.7" cy="1553.6" r="12.0" fill="#8a70b0" opacity="0.97"/>
<circle cx="4076.0" cy="1637.2" r="7.4" fill="#d0e8b0" opacity="0.98"/>
<circle cx="4165.2" cy="1610.8" r="6.7" fill="#a0d8c8" opacity="0.88"/>
<circle cx="4215.1" cy="1447.2" r="8.4" fill="#8a70b0" opacity="0.68"/>
<circle cx="4177.1" cy="1778.8" r="11.5" fill="#c8e89a" opacity="0.95"/>
<circle cx="4349.4" cy="1758.6" r="6.4" fill="#e8607e" opacity="0.89"/>
<circle cx="4212.8" cy="1777.9" r="10.5" fill="#a0d8c8" opacity="0.81"/>
<circle cx="4283.9" cy="1876.7" r="7.8" fill="#d890b0" opacity="0.64"/>
<circle cx="4202.8" cy="1381.5" r="6.1" fill="#b070a0" opacity="0.88"/>
<circle cx="3956.3" cy="1727.4" r="11.6" fill="#c088a8" opacity="0.62"/>
<circle cx="4224.1" cy="1524.2" r="6.8" fill="#f8c8d0" opacity="0.88"/>
<circle cx="4107.9" cy="1500.3" r="7.0" fill="#a0d8c8" opacity="0.66"/>
<circle cx="4231.1" cy="1384.4" r="9.0" fill="#d0e8b0" opacity="0.66"/>
<circle cx="4077.8" cy="1888.7" r="7.7" fill="#c8e89a" opacity="0.89"/>
<circle cx="3915.4" cy="1762.8" r="4.4" fill="#e8607e" opacity="0.86"/>
<circle cx="4200.0" cy="1889.5" r="10.1" fill="#8a70b0" opacity="0.74"/>
<circle cx="4140.5" cy="1454.0" r="12.0" fill="#8a70b0" opacity="0.71"/>
<circle cx="4064.8" cy="1871.1" r="10.7" fill="#8a70b0" opacity="0.71"/>
<circle cx="4356.9" cy="1492.7" r="5.1" fill="#f4a0b0" opacity="0.83"/>
<circle cx="4148.8" cy="1666.3" r="6.5" fill="#b070a0" opacity="0.62"/>
<circle cx="4039.2" cy="1829.9" r="6.9" fill="#c8e89a" opacity="0.64"/>
<circle cx="4273.6" cy="1431.2" r="7.9" fill="#f07890" opacity="0.65"/>
<circle cx="4239.9" cy="1815.6" r="7.9" fill="#e8607e" opacity="0.77"/>
<circle cx="4075.9" cy="1482.1" r="17.0" fill="#c8e89a" opacity="0.74"/>
<circle cx="4092.9" cy="1585.1" r="5.1" fill="#8a70b0" opacity="0.72"/>
<circle cx="4133.0" cy="1755.2" r="6.8" fill="#b070a0" opacity="0.81"/>
<circle cx="4292.4" cy="1794.7" r="6.3" fill="#e8607e" opacity="0.7"/>
<circle cx="4292.4" cy="1611.3" r="9.2" fill="#a0d8c8" opacity="0.89"/>
<circle cx="3996.0" cy="1629.0" r="5.7" fill="#f4a0b0" opacity="0.8"/>
<circle cx="4198.1" cy="1446.5" r="10.2" fill="#c8e89a" opacity="0.66"/>
<circle cx="4135.3" cy="1711.2" r="8.0" fill="#b070a0" opacity="0.83"/>
<circle cx="4318.2" cy="1823.9" r="5.0" fill="#e8607e" opacity="0.88"/>
<circle cx="4278.2" cy="1715.2" r="9.5" fill="#f2a2b4" opacity="0.69"/>
<circle cx="4158.0" cy="1539.1" r="7.3" fill="#8a70b0" opacity="0.84"/>
<circle cx="4209.6" cy="1810.3" r="12.0" fill="#f4a0b0" opacity="0.64"/>
<circle cx="4148.4" cy="1910.3" r="7.6" fill="#f8c8d0" opacity="0.91"/>
<circle cx="4223.1" cy="1929.4" r="7.6" fill="#e8607e"/>
<circle cx="4193.9" cy="1464.4" r="8.8" fill="#e8607e" opacity="0.9"/>
<circle cx="4052.0" cy="1561.4" r="9.7" fill="#d0e8b0" opacity="0.64"/>
<circle cx="4103.8" cy="1490.8" r="6.2" fill="#8a70b0" opacity="0.65"/>
<circle cx="4278.0" cy="1410.7" r="8.9" fill="#c8e89a" opacity="0.77"/>
<circle cx="4261.4" cy="1429.4" r="8.7" fill="#f07890" opacity="0.86"/>
<circle cx="4087.1" cy="1603.6" r="10.9" fill="#a0d8c8" opacity="0.7"/>
<circle cx="3947.5" cy="1545.4" r="11.6" fill="#f4a0b0" opacity="0.76"/>
<circle cx="4196.7" cy="1405.4" r="7.6" fill="#d0e8b0" opacity="0.76"/>
<circle cx="4347.9" cy="1782.9" r="8.5" fill="#e8607e" opacity="0.96"/>
<circle cx="3991.0" cy="1731.8" r="7.3" fill="#e8607e" opacity="0.95"/>
<circle cx="3949.1" cy="1688.9" r="7.3" fill="#b87aa0" opacity="0.69"/>
<circle cx="3972.0" cy="1873.6" r="7.3" fill="#e8607e"/>
<circle cx="4249.1" cy="1914.6" r="6.1" fill="#a0d8c8" opacity="0.65"/>
<circle cx="4114.9" cy="1605.6" r="11.2" fill="#b070a0" opacity="0.73"/>
<circle cx="4211.9" cy="1757.2" r="7.7" fill="#d0e8b0" opacity="0.72"/>
<circle cx="4022.3" cy="1908.7" r="8.2" fill="#c8e89a" opacity="0.76"/>
<circle cx="4418.0" cy="1675.4" r="4.4" fill="#b070a0" opacity="0.89"/>
<circle cx="4006.3" cy="1400.5" r="7.9" fill="#d0e8b0" opacity="0.65"/>
<circle cx="4143.2" cy="1512.9" r="8.2" fill="#f8c8d0" opacity="0.78"/>
<circle cx="4315.0" cy="1614.0" r="10.0" fill="#d0e8b0" opacity="0.98"/>
<circle cx="4166.5" cy="1593.4" r="10.0" fill="#f4a0b0" opacity="0.62"/>
<circle cx="4266.6" cy="1451.8" r="6.9" fill="#f07890" opacity="0.96"/>
<circle cx="4105.4" cy="1409.1" r="4.0" fill="#c8e89a" opacity="0.6"/>
<circle cx="4284.7" cy="1600.9" r="6.4" fill="#f07890" opacity="0.62"/>
<circle cx="3936.9" cy="1818.4" r="7.4" fill="#a0d8c8" opacity="0.72"/>
<circle cx="3952.0" cy="1607.9" r="12.4" fill="#f4c0d0" opacity="0.86"/>
<circle cx="3842.7" cy="1672.7" r="5.8" fill="#f0a8c0" opacity="0.66"/>
<circle cx="3896.1" cy="1539.1" r="8.3" fill="#c8e89a" opacity="0.68"/>
<circle cx="4166.4" cy="1592.1" r="7.3" fill="#b070a0" opacity="0.96"/>
<circle cx="3886.5" cy="1509.8" r="8.2" fill="#c8e89a" opacity="0.71"/>
<circle cx="4301.0" cy="1532.8" r="9.7" fill="#d0e8b0" opacity="0.64"/>
<circle cx="4127.9" cy="1843.1" r="7.9" fill="#b070a0" opacity="0.64"/>
<circle cx="4352.5" cy="1556.3" r="6.6" fill="#c8e89a" opacity="0.91"/>
<circle cx="4093.5" cy="1764.7" r="10.7" fill="#f07890" opacity="0.94"/>
<circle cx="4069.2" cy="1702.6" r="8.0" fill="#d0e8b0" opacity="0.81"/>
<circle cx="4082.9" cy="1885.4" r="5.2" fill="#f4a0b0" opacity="0.81"/>
<circle cx="4086.6" cy="1506.9" r="9.6" fill="#a0d8c8" opacity="0.95"/>
<circle cx="4206.4" cy="1596.1" r="9.6" fill="#e8607e" opacity="0.97"/>
<line x1="4240.5" y1="1773.0" x2="4378.6" y2="1517.7" stroke="#5a6aa0" stroke-width="1.7" stroke-linecap="round"/>
<line x1="4274.0" y1="1710.2" x2="4324.2" y2="1618.1" stroke="#5a6aa0" stroke-width="1.7" stroke-linecap="round"/>
<line x1="4303.3" y1="1668.4" x2="4374.4" y2="1593.0" stroke="#5a6aa0" stroke-width="1.7" stroke-linecap="round"/>
<line x1="4336.7" y1="1593.0" x2="4391.2" y2="1567.9" stroke="#5a6aa0" stroke-width="1.7" stroke-linecap="round"/>
<ellipse cx="4232.1" cy="1767.2" rx="10.0" ry="3.8" fill="#5a66a8" transform="rotate(-110 4232.1 1767.2)"/>
<ellipse cx="4250.5" cy="1770.5" rx="10.0" ry="3.8" fill="#6a70b4" transform="rotate(-15 4250.5 1770.5)"/>
<ellipse cx="4245.9" cy="1741.6" rx="10.0" ry="3.8" fill="#5a66a8" transform="rotate(-110 4245.9 1741.6)"/>
<ellipse cx="4264.3" cy="1745.0" rx="10.0" ry="3.8" fill="#6a70b4" transform="rotate(-15 4264.3 1745.0)"/>
<ellipse cx="4259.7" cy="1716.1" rx="10.0" ry="3.8" fill="#5a66a8" transform="rotate(-110 4259.7 1716.1)"/>
<ellipse cx="4278.1" cy="1719.4" rx="10.0" ry="3.8" fill="#6a70b4" transform="rotate(-15 4278.1 1719.4)"/>
<ellipse cx="4273.5" cy="1690.6" rx="10.0" ry="3.8" fill="#5a66a8" transform="rotate(-110 4273.5 1690.6)"/>
<ellipse cx="4292.0" cy="1693.9" rx="10.0" ry="3.8" fill="#6a70b4" transform="rotate(-15 4292.0 1693.9)"/>
<ellipse cx="4287.3" cy="1665.0" rx="10.0" ry="3.8" fill="#5a66a8" transform="rotate(-110 4287.3 1665.0)"/>
<ellipse cx="4305.8" cy="1668.4" rx="10.0" ry="3.8" fill="#6a70b4" transform="rotate(-15 4305.8 1668.4)"/>
<ellipse cx="4301.2" cy="1639.5" rx="10.0" ry="3.8" fill="#5a66a8" transform="rotate(-110 4301.2 1639.5)"/>
<ellipse cx="4319.6" cy="1642.8" rx="10.0" ry="3.8" fill="#6a70b4" transform="rotate(-15 4319.6 1642.8)"/>
<ellipse cx="4315.0" cy="1614.0" rx="10.0" ry="3.8" fill="#5a66a8" transform="rotate(-110 4315.0 1614.0)"/>
<ellipse cx="4333.4" cy="1617.3" rx="10.0" ry="3.8" fill="#6a70b4" transform="rotate(-15 4333.4 1617.3)"/>
<ellipse cx="4328.8" cy="1588.4" rx="10.0" ry="3.8" fill="#5a66a8" transform="rotate(-110 4328.8 1588.4)"/>
<ellipse cx="4347.2" cy="1591.8" rx="10.0" ry="3.8" fill="#6a70b4" transform="rotate(-15 4347.2 1591.8)"/>
<ellipse cx="4342.6" cy="1562.9" rx="10.0" ry="3.8" fill="#5a66a8" transform="rotate(-110 4342.6 1562.9)"/>
<ellipse cx="4361.0" cy="1566.2" rx="10.0" ry="3.8" fill="#6a70b4" transform="rotate(-15 4361.0 1566.2)"/>
<ellipse cx="4356.4" cy="1537.3" rx="10.0" ry="3.8" fill="#5a66a8" transform="rotate(-110 4356.4 1537.3)"/>
<ellipse cx="4374.8" cy="1540.7" rx="10.0" ry="3.8" fill="#6a70b4" transform="rotate(-15 4374.8 1540.7)"/>
<ellipse cx="4370.2" cy="1511.8" rx="10.0" ry="3.8" fill="#5a66a8" transform="rotate(-110 4370.2 1511.8)"/>
<ellipse cx="4388.6" cy="1515.2" rx="10.0" ry="3.8" fill="#6a70b4" transform="rotate(-15 4388.6 1515.2)"/>
<circle cx="4382.8" cy="1513.5" r="4.6" fill="#3a4a80"/>
<circle cx="4395.3" cy="1534.4" r="4.6" fill="#3a4a80"/>
<circle cx="4391.2" cy="1576.3" r="4.6" fill="#3a4a80"/>
<circle cx="4374.4" cy="1593.0" r="4.6" fill="#3a4a80"/>
<circle cx="4366.0" cy="1618.1" r="4.6" fill="#3a4a80"/>
<circle cx="3930.7" cy="1408.8" r="3.3" fill="#2a2a3a" opacity="0.85"/>
<circle cx="3951.0" cy="1430.4" r="3.3" fill="#2a2a3a" opacity="0.85"/>
<circle cx="3971.4" cy="1451.9" r="3.3" fill="#2a2a3a" opacity="0.85"/>
<circle cx="3991.7" cy="1473.4" r="3.3" fill="#2a2a3a" opacity="0.85"/>
<circle cx="4012.0" cy="1494.9" r="3.3" fill="#2a2a3a" opacity="0.85"/>
<circle cx="4032.4" cy="1516.5" r="3.3" fill="#2a2a3a" opacity="0.85"/>
<circle cx="4052.7" cy="1538.0" r="3.3" fill="#2a2a3a" opacity="0.85"/>
<circle cx="4073.0" cy="1559.5" r="3.3" fill="#2a2a3a" opacity="0.85"/>
<circle cx="4374.4" cy="1408.8" r="3.3" fill="#2a2a3a" opacity="0.85"/>
<circle cx="4364.8" cy="1424.4" r="3.3" fill="#2a2a3a" opacity="0.85"/>
<circle cx="4355.3" cy="1439.9" r="3.3" fill="#2a2a3a" opacity="0.85"/>
<circle cx="4345.7" cy="1455.5" r="3.3" fill="#2a2a3a" opacity="0.85"/>
<circle cx="4336.1" cy="1471.0" r="3.3" fill="#2a2a3a" opacity="0.85"/>
<circle cx="4326.6" cy="1486.6" r="3.3" fill="#2a2a3a" opacity="0.85"/>
<circle cx="4317.0" cy="1502.1" r="3.3" fill="#2a2a3a" opacity="0.85"/>
<circle cx="4307.4" cy="1517.7" r="3.3" fill="#2a2a3a" opacity="0.85"/>
<circle cx="4123.3" cy="1534.4" r="3.3" fill="#2a2a3a" opacity="0.85"/>
<circle cx="4128.0" cy="1546.4" r="3.3" fill="#2a2a3a" opacity="0.85"/>
<circle cx="4132.8" cy="1558.3" r="3.3" fill="#2a2a3a" opacity="0.85"/>
<circle cx="4137.6" cy="1570.3" r="3.3" fill="#2a2a3a" opacity="0.85"/>
<circle cx="4142.4" cy="1582.3" r="3.3" fill="#2a2a3a" opacity="0.85"/>
<circle cx="4147.2" cy="1594.2" r="3.3" fill="#2a2a3a" opacity="0.85"/>
<circle cx="4152.0" cy="1606.2" r="3.3" fill="#2a2a3a" opacity="0.85"/>
<circle cx="4156.7" cy="1618.1" r="3.3" fill="#2a2a3a" opacity="0.85"/>
<circle cx="4240.5" cy="1630.7" r="3.3" fill="#2a2a3a" opacity="0.85"/>
<circle cx="4245.2" cy="1634.3" r="3.3" fill="#2a2a3a" opacity="0.85"/>
<circle cx="4250.0" cy="1637.9" r="3.3" fill="#2a2a3a" opacity="0.85"/>
<circle cx="4254.8" cy="1641.5" r="3.3" fill="#2a2a3a" opacity="0.85"/>
<circle cx="4259.6" cy="1645.0" r="3.3" fill="#2a2a3a" opacity="0.85"/>
<circle cx="4264.4" cy="1648.6" r="3.3" fill="#2a2a3a" opacity="0.85"/>
<circle cx="4269.2" cy="1652.2" r="3.3" fill="#2a2a3a" opacity="0.85"/>
<circle cx="4274.0" cy="1655.8" r="3.3" fill="#2a2a3a" opacity="0.85"/>
<line x1="3842.8" y1="1517.7" x2="3905.6" y2="1567.9" stroke="#7a88b8" stroke-width="1.7" stroke-linecap="round"/>
<ellipse cx="3850.3" cy="1508.5" rx="9.2" ry="3.8" fill="#8a98c4" transform="rotate(-70 3850.3 1508.5)"/>
<ellipse cx="3835.3" cy="1526.0" rx="9.2" ry="3.8" fill="#8a98c4" transform="rotate(10 3835.3 1526.0)"/>
<ellipse cx="3862.9" cy="1518.5" rx="9.2" ry="3.8" fill="#8a98c4" transform="rotate(-70 3862.9 1518.5)"/>
<ellipse cx="3847.8" cy="1536.1" rx="9.2" ry="3.8" fill="#8a98c4" transform="rotate(10 3847.8 1536.1)"/>
<ellipse cx="3875.4" cy="1528.6" rx="9.2" ry="3.8" fill="#8a98c4" transform="rotate(-70 3875.4 1528.6)"/>
<ellipse cx="3860.4" cy="1546.1" rx="9.2" ry="3.8" fill="#8a98c4" transform="rotate(10 3860.4 1546.1)"/>
<ellipse cx="3888.0" cy="1538.6" rx="9.2" ry="3.8" fill="#8a98c4" transform="rotate(-70 3888.0 1538.6)"/>
<ellipse cx="3872.9" cy="1556.2" rx="9.2" ry="3.8" fill="#8a98c4" transform="rotate(10 3872.9 1556.2)"/>
<ellipse cx="3900.6" cy="1548.7" rx="9.2" ry="3.8" fill="#8a98c4" transform="rotate(-70 3900.6 1548.7)"/>
<ellipse cx="3885.5" cy="1566.2" rx="9.2" ry="3.8" fill="#8a98c4" transform="rotate(10 3885.5 1566.2)"/>
<ellipse cx="3913.1" cy="1558.7" rx="9.2" ry="3.8" fill="#8a98c4" transform="rotate(-70 3913.1 1558.7)"/>
<ellipse cx="3898.0" cy="1576.3" rx="9.2" ry="3.8" fill="#8a98c4" transform="rotate(10 3898.0 1576.3)"/>
<ellipse cx="4148.4" cy="1375.3" rx="17.6" ry="6.3" fill="#a4bab2" transform="rotate(60 4148.4 1375.3)" opacity="0.9"/>
<ellipse cx="4169.3" cy="1371.2" rx="17.6" ry="6.3" fill="#a4bab2" transform="rotate(-60 4169.3 1371.2)" opacity="0.9"/>
<ellipse cx="4127.4" cy="1413.0" rx="17.6" ry="6.3" fill="#a4bab2" transform="rotate(50 4127.4 1413.0)" opacity="0.9"/>
<ellipse cx="4177.7" cy="1408.8" rx="17.6" ry="6.3" fill="#a4bab2" transform="rotate(-50 4177.7 1408.8)" opacity="0.9"/>
<ellipse cx="4219.5" cy="1362.8" rx="17.6" ry="6.3" fill="#a4bab2" transform="rotate(80 4219.5 1362.8)" opacity="0.9"/>
<ellipse cx="4202.8" cy="1392.1" rx="17.6" ry="6.3" fill="#a4bab2" transform="rotate(40 4202.8 1392.1)" opacity="0.9"/>
<ellipse cx="4248.8" cy="1371.2" rx="17.6" ry="6.3" fill="#a4bab2" transform="rotate(-40 4248.8 1371.2)" opacity="0.9"/>
<ellipse cx="4240.5" cy="1417.2" rx="17.6" ry="6.3" fill="#a4bab2" transform="rotate(-20 4240.5 1417.2)" opacity="0.9"/>
<ellipse cx="4156.7" cy="1459.1" rx="17.6" ry="6.3" fill="#a4bab2" transform="rotate(70 4156.7 1459.1)" opacity="0.9"/>
<ellipse cx="4039.5" cy="1434.0" rx="17.6" ry="6.3" fill="#a4bab2" transform="rotate(60 4039.5 1434.0)" opacity="0.9"/>
<ellipse cx="3997.7" cy="1383.7" rx="17.6" ry="6.3" fill="#a4bab2" transform="rotate(70 3997.7 1383.7)" opacity="0.9"/>
<ellipse cx="4067.2" cy="1559.5" rx="14.2" ry="5.0" fill="#c6e894" transform="rotate(-35 4067.2 1559.5)"/>
<ellipse cx="4096.5" cy="1557.0" rx="14.2" ry="5.0" fill="#cdeaa0" transform="rotate(35 4096.5 1557.0)"/>
<ellipse cx="4072.0" cy="1541.4" rx="14.2" ry="5.0" fill="#c6e894" transform="rotate(-35 4072.0 1541.4)"/>
<ellipse cx="4101.3" cy="1538.9" rx="14.2" ry="5.0" fill="#cdeaa0" transform="rotate(35 4101.3 1538.9)"/>
<ellipse cx="4076.9" cy="1523.3" rx="14.2" ry="5.0" fill="#c6e894" transform="rotate(-35 4076.9 1523.3)"/>
<ellipse cx="4106.2" cy="1520.7" rx="14.2" ry="5.0" fill="#cdeaa0" transform="rotate(35 4106.2 1520.7)"/>
<ellipse cx="4081.8" cy="1505.1" rx="14.2" ry="5.0" fill="#c6e894" transform="rotate(-35 4081.8 1505.1)"/>
<ellipse cx="4111.1" cy="1502.6" rx="14.2" ry="5.0" fill="#cdeaa0" transform="rotate(35 4111.1 1502.6)"/>
<ellipse cx="4086.7" cy="1487.0" rx="14.2" ry="5.0" fill="#c6e894" transform="rotate(-35 4086.7 1487.0)"/>
<ellipse cx="4116.0" cy="1484.5" rx="14.2" ry="5.0" fill="#cdeaa0" transform="rotate(35 4116.0 1484.5)"/>
<ellipse cx="4091.6" cy="1468.8" rx="14.2" ry="5.0" fill="#c6e894" transform="rotate(-35 4091.6 1468.8)"/>
<ellipse cx="4120.9" cy="1466.3" rx="14.2" ry="5.0" fill="#cdeaa0" transform="rotate(35 4120.9 1466.3)"/>
<ellipse cx="4096.5" cy="1450.7" rx="14.2" ry="5.0" fill="#c6e894" transform="rotate(-35 4096.5 1450.7)"/>
<ellipse cx="4125.8" cy="1448.2" rx="14.2" ry="5.0" fill="#cdeaa0" transform="rotate(35 4125.8 1448.2)"/>
<ellipse cx="4240.5" cy="1517.7" rx="12.6" ry="4.6" fill="#c6e894" transform="rotate(-35 4240.5 1517.7)"/>
<ellipse cx="4266.4" cy="1515.2" rx="12.6" ry="4.6" fill="#cdeaa0" transform="rotate(35 4266.4 1515.2)"/>
<ellipse cx="4244.6" cy="1502.0" rx="12.6" ry="4.6" fill="#c6e894" transform="rotate(-35 4244.6 1502.0)"/>
<ellipse cx="4270.6" cy="1499.5" rx="12.6" ry="4.6" fill="#cdeaa0" transform="rotate(35 4270.6 1499.5)"/>
<ellipse cx="4248.8" cy="1486.3" rx="12.6" ry="4.6" fill="#c6e894" transform="rotate(-35 4248.8 1486.3)"/>
<ellipse cx="4274.8" cy="1483.8" rx="12.6" ry="4.6" fill="#cdeaa0" transform="rotate(35 4274.8 1483.8)"/>
<ellipse cx="4253.0" cy="1470.6" rx="12.6" ry="4.6" fill="#c6e894" transform="rotate(-35 4253.0 1470.6)"/>
<ellipse cx="4279.0" cy="1468.1" rx="12.6" ry="4.6" fill="#cdeaa0" transform="rotate(35 4279.0 1468.1)"/>
<ellipse cx="4257.2" cy="1454.9" rx="12.6" ry="4.6" fill="#c6e894" transform="rotate(-35 4257.2 1454.9)"/>
<ellipse cx="4283.2" cy="1452.4" rx="12.6" ry="4.6" fill="#cdeaa0" transform="rotate(35 4283.2 1452.4)"/>
<rect x="3940.7" y="1458.4" width="72" height="18" fill="#7ed2c2" transform="rotate(45 3976.7 1467.4)"/>
<ellipse cx="4173.5" cy="1731.2" rx="21.8" ry="7.1" fill="#7ccfc2" transform="rotate(60 4173.5 1731.2)" opacity="0.9"/>
<ellipse cx="4181.9" cy="1794.0" rx="21.8" ry="7.1" fill="#7ccfc2" transform="rotate(70 4181.9 1794.0)" opacity="0.9"/>
<ellipse cx="4282.3" cy="1894.4" rx="21.8" ry="7.1" fill="#7ccfc2" transform="rotate(30 4282.3 1894.4)" opacity="0.9"/>
<ellipse cx="4307.4" cy="1911.2" rx="21.8" ry="7.1" fill="#7ccfc2" transform="rotate(40 4307.4 1911.2)" opacity="0.9"/>
<ellipse cx="4261.4" cy="1881.9" rx="21.8" ry="7.1" fill="#7ccfc2" transform="rotate(20 4261.4 1881.9)" opacity="0.9"/>
<ellipse cx="3905.6" cy="1794.0" rx="21.8" ry="7.1" fill="#7ccfc2" transform="rotate(-10 3905.6 1794.0)" opacity="0.9"/>
<ellipse cx="3876.3" cy="1798.1" rx="21.8" ry="7.1" fill="#7ccfc2" transform="rotate(5 3876.3 1798.1)" opacity="0.9"/>
<ellipse cx="3918.1" cy="1848.4" rx="18.4" ry="6.3" fill="#d2e492" transform="rotate(-30 3918.1 1848.4)" opacity="0.95"/>
<ellipse cx="3939.1" cy="1840.0" rx="18.4" ry="6.3" fill="#d2e492" transform="rotate(-50 3939.1 1840.0)" opacity="0.95"/>
<ellipse cx="3905.6" cy="1869.3" rx="18.4" ry="6.3" fill="#d2e492" transform="rotate(-10 3905.6 1869.3)" opacity="0.95"/>
<ellipse cx="3955.8" cy="1856.7" rx="18.4" ry="6.3" fill="#d2e492" transform="rotate(-60 3955.8 1856.7)" opacity="0.95"/>
<ellipse cx="4223.7" cy="1927.9" rx="18.4" ry="6.3" fill="#d2e492" transform="rotate(-40 4223.7 1927.9)" opacity="0.95"/>
<ellipse cx="4198.6" cy="1944.6" rx="18.4" ry="6.3" fill="#d2e492" transform="rotate(-20 4198.6 1944.6)" opacity="0.95"/>
<ellipse cx="4073.0" cy="1927.9" rx="18.4" ry="6.3" fill="#d2e492" transform="rotate(-60 4073.0 1927.9)" opacity="0.95"/>
<ellipse cx="4052.1" cy="1944.6" rx="18.4" ry="6.3" fill="#d2e492" transform="rotate(-70 4052.1 1944.6)" opacity="0.95"/>
<ellipse cx="4403.7" cy="1622.3" rx="15.9" ry="5.9" fill="#b48ac6" transform="rotate(-50 4403.7 1622.3)" opacity="0.9"/>
<ellipse cx="4420.5" cy="1634.9" rx="15.9" ry="5.9" fill="#b48ac6" transform="rotate(-20 4420.5 1634.9)" opacity="0.9"/>
<ellipse cx="4391.2" cy="1643.3" rx="15.9" ry="5.9" fill="#b48ac6" transform="rotate(-80 4391.2 1643.3)" opacity="0.9"/>
<ellipse cx="4253.0" cy="1768.8" rx="15.9" ry="5.9" fill="#6a4a90" transform="rotate(60 4253.0 1768.8)" opacity="0.9"/>
<ellipse cx="4265.6" cy="1777.2" rx="15.9" ry="5.9" fill="#6a4a90" transform="rotate(-60 4265.6 1777.2)" opacity="0.9"/>
<ellipse cx="4223.7" cy="1802.3" rx="15.9" ry="5.9" fill="#6a4a90" transform="rotate(40 4223.7 1802.3)" opacity="0.9"/>
<ellipse cx="4114.9" cy="1618.1" rx="29.3" ry="6.7" fill="#b8c4c0" transform="rotate(80 4114.9 1618.1)" opacity="0.85"/>
<ellipse cx="4047.9" cy="1630.7" rx="29.3" ry="6.7" fill="#b8c4c0" transform="rotate(60 4047.9 1630.7)" opacity="0.85"/>
<ellipse cx="4014.4" cy="1676.7" rx="29.3" ry="6.7" fill="#b49ac0" transform="rotate(50 4014.4 1676.7)" opacity="0.85"/>
<ellipse cx="3989.3" cy="1697.7" rx="29.3" ry="6.7" fill="#b49ac0" transform="rotate(40 3989.3 1697.7)" opacity="0.85"/>
<circle cx="4098.1" cy="1664.2" r="5.9" fill="#4a4a9e"/>
<circle cx="4158.8" cy="1676.7" r="5.4" fill="#26367a"/>
<circle cx="4101.5" cy="1673.4" r="5.9" fill="#4a4a9e"/>
<circle cx="4160.9" cy="1686.8" r="5.4" fill="#26367a"/>
<circle cx="4104.8" cy="1682.6" r="5.9" fill="#4a4a9e"/>
<circle cx="4163.0" cy="1696.8" r="5.4" fill="#26367a"/>
<circle cx="4108.2" cy="1691.8" r="5.9" fill="#4a4a9e"/>
<circle cx="4165.1" cy="1706.9" r="5.4" fill="#26367a"/>
<circle cx="4111.5" cy="1701.0" r="5.9" fill="#4a4a9e"/>
<circle cx="4167.2" cy="1716.9" r="5.4" fill="#26367a"/>
<circle cx="4114.9" cy="1710.2" r="5.9" fill="#4a4a9e"/>
<circle cx="4169.3" cy="1727.0" r="5.4" fill="#26367a"/>
<path d="M3985.1,1444.8 C3951.4,1418.8 3969.5,1392.8 3985.1,1413.6 C4000.7,1392.8 4018.9,1418.8 3985.1,1444.8Z" fill="#e0283c"/>
<circle cx="4079.6" cy="1404.7" r="9.8" fill="#a8447e"/>
<circle cx="4072.2" cy="1414.9" r="9.8" fill="#a8447e"/>
<circle cx="4060.1" cy="1411.0" r="9.8" fill="#a8447e"/>
<circle cx="4060.1" cy="1398.3" r="9.8" fill="#a8447e"/>
<circle cx="4072.2" cy="1394.4" r="9.8" fill="#a8447e"/>
<circle cx="4068.8" cy="1404.7" r="12.1" fill="#a8447e"/>
<circle cx="4068.8" cy="1404.7" r="5.9" fill="#5a1f4a"/>
<circle cx="4307.3" cy="1421.4" r="9.4" fill="#9068b0"/>
<circle cx="4300.2" cy="1431.2" r="9.4" fill="#9068b0"/>
<circle cx="4288.6" cy="1427.5" r="9.4" fill="#9068b0"/>
<circle cx="4288.6" cy="1415.3" r="9.4" fill="#9068b0"/>
<circle cx="4300.2" cy="1411.5" r="9.4" fill="#9068b0"/>
<circle cx="4297.0" cy="1421.4" r="11.7" fill="#9068b0"/>
<circle cx="4297.0" cy="1421.4" r="5.7" fill="#3a1846"/>
<circle cx="3963.6" cy="1551.2" r="14.7" fill="#f0905a"/>
<circle cx="3955.5" cy="1565.2" r="14.7" fill="#f0905a"/>
<circle cx="3939.4" cy="1565.2" r="14.7" fill="#f0905a"/>
<circle cx="3931.3" cy="1551.2" r="14.7" fill="#f0905a"/>
<circle cx="3939.4" cy="1537.2" r="14.7" fill="#f0905a"/>
<circle cx="3955.5" cy="1537.2" r="14.7" fill="#f0905a"/>
<circle cx="3947.4" cy="1551.2" r="18.2" fill="#f0905a"/>
<circle cx="3947.4" cy="1551.2" r="8.8" fill="#e8566a"/>
<circle cx="3960.0" cy="1534.4" r="14.2" fill="#f6b070"/>
<circle cx="4037.7" cy="1572.1" r="13.6" fill="#8a3a78"/>
<circle cx="4033.3" cy="1582.6" r="13.6" fill="#8a3a78"/>
<circle cx="4022.8" cy="1587.0" r="13.6" fill="#8a3a78"/>
<circle cx="4012.2" cy="1582.6" r="13.6" fill="#8a3a78"/>
<circle cx="4007.9" cy="1572.1" r="13.6" fill="#8a3a78"/>
<circle cx="4012.2" cy="1561.5" r="13.6" fill="#8a3a78"/>
<circle cx="4022.8" cy="1557.2" r="13.6" fill="#8a3a78"/>
<circle cx="4033.3" cy="1561.5" r="13.6" fill="#8a3a78"/>
<circle cx="4022.8" cy="1572.1" r="16.8" fill="#8a3a78"/>
<circle cx="4022.8" cy="1572.1" r="8.1" fill="#f2d8e8"/>
<circle cx="4060.4" cy="1484.2" r="7.5" fill="#a64c84"/>
<circle cx="4056.2" cy="1491.4" r="7.5" fill="#a64c84"/>
<circle cx="4047.9" cy="1491.4" r="7.5" fill="#a64c84"/>
<circle cx="4043.8" cy="1484.2" r="7.5" fill="#a64c84"/>
<circle cx="4047.9" cy="1477.0" r="7.5" fill="#a64c84"/>
<circle cx="4056.2" cy="1477.0" r="7.5" fill="#a64c84"/>
<circle cx="4052.1" cy="1484.2" r="9.3" fill="#a64c84"/>
<circle cx="4052.1" cy="1484.2" r="4.5" fill="#6a2a5a"/>
<circle cx="4209.4" cy="1480.0" r="9.8" fill="#f6a6b4"/>
<circle cx="4205.3" cy="1488.4" r="9.8" fill="#f6a6b4"/>
<circle cx="4196.2" cy="1490.5" r="9.8" fill="#f6a6b4"/>
<circle cx="4188.9" cy="1484.7" r="9.8" fill="#f6a6b4"/>
<circle cx="4188.9" cy="1475.3" r="9.8" fill="#f6a6b4"/>
<circle cx="4196.2" cy="1469.5" r="9.8" fill="#f6a6b4"/>
<circle cx="4205.3" cy="1471.6" r="9.8" fill="#f6a6b4"/>
<circle cx="4198.6" cy="1480.0" r="12.1" fill="#f6a6b4"/>
<circle cx="4198.6" cy="1480.0" r="5.9" fill="#e04a6c"/>
<circle cx="4247.8" cy="1555.3" r="14.3" fill="#d24a94"/>
<circle cx="4244.2" cy="1565.5" r="14.3" fill="#d24a94"/>
<circle cx="4234.8" cy="1570.9" r="14.3" fill="#d24a94"/>
<circle cx="4224.2" cy="1569.0" r="14.3" fill="#d24a94"/>
<circle cx="4217.3" cy="1560.7" r="14.3" fill="#d24a94"/>
<circle cx="4217.3" cy="1550.0" r="14.3" fill="#d24a94"/>
<circle cx="4224.2" cy="1541.7" r="14.3" fill="#d24a94"/>
<circle cx="4234.8" cy="1539.8" r="14.3" fill="#d24a94"/>
<circle cx="4244.2" cy="1545.2" r="14.3" fill="#d24a94"/>
<circle cx="4232.1" cy="1555.3" r="17.8" fill="#d24a94"/>
<circle cx="4232.1" cy="1555.3" r="8.6" fill="#a81e6a"/>
<circle cx="4232.1" cy="1555.3" r="19.3" fill="#c03080"/>
<circle cx="4309.4" cy="1555.3" r="9.4" fill="#ea546c"/>
<circle cx="4304.2" cy="1564.3" r="9.4" fill="#ea546c"/>
<circle cx="4293.9" cy="1564.3" r="9.4" fill="#ea546c"/>
<circle cx="4288.7" cy="1555.3" r="9.4" fill="#ea546c"/>
<circle cx="4293.9" cy="1546.4" r="9.4" fill="#ea546c"/>
<circle cx="4304.2" cy="1546.4" r="9.4" fill="#ea546c"/>
<circle cx="4299.1" cy="1555.3" r="11.7" fill="#ea546c"/>
<circle cx="4299.1" cy="1555.3" r="5.7" fill="#f6909c"/>
<circle cx="4278.9" cy="1598.0" r="8.3" fill="#f27098"/>
<circle cx="4275.4" cy="1605.2" r="8.3" fill="#f27098"/>
<circle cx="4267.7" cy="1606.9" r="8.3" fill="#f27098"/>
<circle cx="4261.6" cy="1602.0" r="8.3" fill="#f27098"/>
<circle cx="4261.6" cy="1594.1" r="8.3" fill="#f27098"/>
<circle cx="4267.7" cy="1589.2" r="8.3" fill="#f27098"/>
<circle cx="4275.4" cy="1590.9" r="8.3" fill="#f27098"/>
<circle cx="4269.8" cy="1598.0" r="10.3" fill="#f27098"/>
<circle cx="4269.8" cy="1598.0" r="5.0" fill="#fbd0dc"/>
<circle cx="4418.3" cy="1551.2" r="4.9" fill="#5a1a3a"/>
<circle cx="4414.6" cy="1556.3" r="4.9" fill="#5a1a3a"/>
<circle cx="4408.6" cy="1554.3" r="4.9" fill="#5a1a3a"/>
<circle cx="4408.6" cy="1548.0" r="4.9" fill="#5a1a3a"/>
<circle cx="4414.6" cy="1546.0" r="4.9" fill="#5a1a3a"/>
<circle cx="4412.9" cy="1551.2" r="6.1" fill="#5a1a3a"/>
<circle cx="4412.9" cy="1551.2" r="2.9" fill="#2a0a1a"/>
<path d="M3999.8,1668.3 C3960.6,1638.1 3981.7,1608.0 3999.8,1632.1 C4017.9,1608.0 4038.9,1638.1 3999.8,1668.3Z" fill="#f06a88"/>
<circle cx="4240.3" cy="1676.7" r="18.8" fill="#f4828c"/>
<circle cx="4234.2" cy="1691.4" r="18.8" fill="#f4828c"/>
<circle cx="4219.5" cy="1697.5" r="18.8" fill="#f4828c"/>
<circle cx="4204.9" cy="1691.4" r="18.8" fill="#f4828c"/>
<circle cx="4198.8" cy="1676.7" r="18.8" fill="#f4828c"/>
<circle cx="4204.9" cy="1662.1" r="18.8" fill="#f4828c"/>
<circle cx="4219.5" cy="1656.0" r="18.8" fill="#f4828c"/>
<circle cx="4234.2" cy="1662.1" r="18.8" fill="#f4828c"/>
<circle cx="4219.5" cy="1676.7" r="23.4" fill="#f4828c"/>
<circle cx="4219.5" cy="1676.7" r="11.3" fill="#e02c4c"/>
<circle cx="4083.8" cy="1685.1" r="13.6" fill="#f28c9a"/>
<circle cx="4078.1" cy="1696.8" r="13.6" fill="#f28c9a"/>
<circle cx="4065.5" cy="1699.7" r="13.6" fill="#f28c9a"/>
<circle cx="4055.4" cy="1691.6" r="13.6" fill="#f28c9a"/>
<circle cx="4055.4" cy="1678.6" r="13.6" fill="#f28c9a"/>
<circle cx="4065.5" cy="1670.6" r="13.6" fill="#f28c9a"/>
<circle cx="4078.1" cy="1673.5" r="13.6" fill="#f28c9a"/>
<circle cx="4068.8" cy="1685.1" r="16.8" fill="#f28c9a"/>
<circle cx="4068.8" cy="1685.1" r="8.1" fill="#d82848"/>
<circle cx="3941.4" cy="1743.7" r="13.6" fill="#7c2c72"/>
<circle cx="3937.9" cy="1753.3" r="13.6" fill="#7c2c72"/>
<circle cx="3929.1" cy="1758.4" r="13.6" fill="#7c2c72"/>
<circle cx="3919.1" cy="1756.6" r="13.6" fill="#7c2c72"/>
<circle cx="3912.5" cy="1748.8" r="13.6" fill="#7c2c72"/>
<circle cx="3912.5" cy="1738.6" r="13.6" fill="#7c2c72"/>
<circle cx="3919.1" cy="1730.8" r="13.6" fill="#7c2c72"/>
<circle cx="3929.1" cy="1729.0" r="13.6" fill="#7c2c72"/>
<circle cx="3937.9" cy="1734.1" r="13.6" fill="#7c2c72"/>
<circle cx="3926.5" cy="1743.7" r="16.8" fill="#7c2c72"/>
<circle cx="3926.5" cy="1743.7" r="8.1" fill="#5a1a58"/>
<circle cx="4028.1" cy="1756.3" r="8.7" fill="#c83070"/>
<circle cx="4024.5" cy="1763.7" r="8.7" fill="#c83070"/>
<circle cx="4016.5" cy="1765.6" r="8.7" fill="#c83070"/>
<circle cx="4010.0" cy="1760.4" r="8.7" fill="#c83070"/>
<circle cx="4010.0" cy="1752.1" r="8.7" fill="#c83070"/>
<circle cx="4016.5" cy="1747.0" r="8.7" fill="#c83070"/>
<circle cx="4024.5" cy="1748.8" r="8.7" fill="#c83070"/>
<circle cx="4018.6" cy="1756.3" r="10.7" fill="#c83070"/>
<circle cx="4018.6" cy="1756.3" r="5.2" fill="#8a1848"/>
<circle cx="4141.0" cy="1781.4" r="20.0" fill="#f0627a"/>
<circle cx="4134.6" cy="1796.9" r="20.0" fill="#f0627a"/>
<circle cx="4119.1" cy="1803.4" r="20.0" fill="#f0627a"/>
<circle cx="4103.5" cy="1796.9" r="20.0" fill="#f0627a"/>
<circle cx="4097.1" cy="1781.4" r="20.0" fill="#f0627a"/>
<circle cx="4103.5" cy="1765.9" r="20.0" fill="#f0627a"/>
<circle cx="4119.1" cy="1759.4" r="20.0" fill="#f0627a"/>
<circle cx="4134.6" cy="1765.9" r="20.0" fill="#f0627a"/>
<circle cx="4119.1" cy="1781.4" r="24.8" fill="#f0627a"/>
<circle cx="4119.1" cy="1781.4" r="12.0" fill="#e01e3e"/>
<circle cx="4211.1" cy="1752.1" r="7.5" fill="#6c2052"/>
<circle cx="4206.9" cy="1759.3" r="7.5" fill="#6c2052"/>
<circle cx="4198.6" cy="1759.3" r="7.5" fill="#6c2052"/>
<circle cx="4194.5" cy="1752.1" r="7.5" fill="#6c2052"/>
<circle cx="4198.6" cy="1744.9" r="7.5" fill="#6c2052"/>
<circle cx="4206.9" cy="1744.9" r="7.5" fill="#6c2052"/>
<circle cx="4202.8" cy="1752.1" r="9.3" fill="#6c2052"/>
<circle cx="4202.8" cy="1752.1" r="4.5" fill="#f0d0e0"/>
<circle cx="4226.0" cy="1886.0" r="17.3" fill="#e01838"/>
<circle cx="4222.4" cy="1897.2" r="17.3" fill="#e01838"/>
<circle cx="4212.9" cy="1904.2" r="17.3" fill="#e01838"/>
<circle cx="4201.1" cy="1904.2" r="17.3" fill="#e01838"/>
<circle cx="4191.6" cy="1897.2" r="17.3" fill="#e01838"/>
<circle cx="4187.9" cy="1886.0" r="17.3" fill="#e01838"/>
<circle cx="4191.6" cy="1874.8" r="17.3" fill="#e01838"/>
<circle cx="4201.1" cy="1867.9" r="17.3" fill="#e01838"/>
<circle cx="4212.9" cy="1867.9" r="17.3" fill="#e01838"/>
<circle cx="4222.4" cy="1874.8" r="17.3" fill="#e01838"/>
<circle cx="4207.0" cy="1886.0" r="21.5" fill="#e01838"/>
<circle cx="4207.0" cy="1886.0" r="10.4" fill="#b80c28"/>
<circle cx="4163.3" cy="1894.4" r="9.8" fill="#7a2a60"/>
<circle cx="4160.2" cy="1902.0" r="9.8" fill="#7a2a60"/>
<circle cx="4152.6" cy="1905.2" r="9.8" fill="#7a2a60"/>
<circle cx="4144.9" cy="1902.0" r="9.8" fill="#7a2a60"/>
<circle cx="4141.8" cy="1894.4" r="9.8" fill="#7a2a60"/>
<circle cx="4144.9" cy="1886.8" r="9.8" fill="#7a2a60"/>
<circle cx="4152.6" cy="1883.6" r="9.8" fill="#7a2a60"/>
<circle cx="4160.2" cy="1886.8" r="9.8" fill="#7a2a60"/>
<circle cx="4152.6" cy="1894.4" r="12.1" fill="#7a2a60"/>
<circle cx="4152.6" cy="1894.4" r="5.9" fill="#4a1440"/>
<path d="M4324.2,1745.5 C4303.5,1729.6 4314.6,1713.7 4324.2,1726.4 C4333.7,1713.7 4344.9,1729.6 4324.2,1745.5Z" fill="#e02848"/>
<path d="M4407.9,1683.4 C4386.1,1666.7 4397.9,1650.0 4407.9,1663.3 C4418.0,1650.0 4429.7,1666.7 4407.9,1683.4Z" fill="#e84870"/>
<path d="M4433.0,1678.2 C4418.9,1667.3 4426.5,1656.4 4433.0,1665.1 C4439.6,1656.4 4447.2,1667.3 4433.0,1678.2Z" fill="#ec6a88"/>
<path d="M3951.6,1817.8 C3935.3,1805.3 3944.1,1792.7 3951.6,1802.7 C3959.2,1792.7 3968.0,1805.3 3951.6,1817.8Z" fill="#e03858"/>
<path d="M4047.9,1889.0 C4031.6,1876.4 4040.4,1863.9 4047.9,1873.9 C4055.4,1863.9 4064.2,1876.4 4047.9,1889.0Z" fill="#b02848"/>
<path d="M4353.5,1503.9 C4337.2,1491.3 4346.0,1478.7 4353.5,1488.8 C4361.0,1478.7 4369.8,1491.3 4353.5,1503.9Z" fill="#f07880"/>
<path d="M4148.4,1384.0 C4129.9,1369.7 4139.8,1355.5 4148.4,1366.9 C4156.9,1355.5 4166.9,1369.7 4148.4,1384.0Z" fill="#8cb0a8"/>
<circle cx="3906.8" cy="1768.8" r="4.9" fill="#c84878"/>
<circle cx="3903.1" cy="1774.0" r="4.9" fill="#c84878"/>
<circle cx="3897.0" cy="1772.0" r="4.9" fill="#c84878"/>
<circle cx="3897.0" cy="1765.7" r="4.9" fill="#c84878"/>
<circle cx="3903.1" cy="1763.7" r="4.9" fill="#c84878"/>
<circle cx="3901.4" cy="1768.8" r="6.1" fill="#c84878"/>
<circle cx="3901.4" cy="1768.8" r="2.9" fill="#6a1838"/>
<circle cx="4063.3" cy="1840.0" r="6.4" fill="#e0607e"/>
<circle cx="4058.5" cy="1846.7" r="6.4" fill="#e0607e"/>
<circle cx="4050.6" cy="1844.1" r="6.4" fill="#e0607e"/>
<circle cx="4050.6" cy="1835.9" r="6.4" fill="#e0607e"/>
<circle cx="4058.5" cy="1833.3" r="6.4" fill="#e0607e"/>
<circle cx="4056.3" cy="1840.0" r="7.9" fill="#e0607e"/>
<circle cx="4056.3" cy="1840.0" r="3.8" fill="#a82848"/>
<circle cx="4260.1" cy="1831.6" r="6.4" fill="#e890a8"/>
<circle cx="4255.2" cy="1838.3" r="6.4" fill="#e890a8"/>
<circle cx="4247.3" cy="1835.8" r="6.4" fill="#e890a8"/>
<circle cx="4247.3" cy="1827.5" r="6.4" fill="#e890a8"/>
<circle cx="4255.2" cy="1824.9" r="6.4" fill="#e890a8"/>
<circle cx="4253.0" cy="1831.6" r="7.9" fill="#e890a8"/>
<circle cx="4253.0" cy="1831.6" r="3.8" fill="#c04870"/>
<circle cx="3920.2" cy="1614.0" r="5.7" fill="#d06088"/>
<circle cx="3915.9" cy="1619.9" r="5.7" fill="#d06088"/>
<circle cx="3908.9" cy="1617.6" r="5.7" fill="#d06088"/>
<circle cx="3908.9" cy="1610.3" r="5.7" fill="#d06088"/>
<circle cx="3915.9" cy="1608.0" r="5.7" fill="#d06088"/>
<circle cx="3914.0" cy="1614.0" r="7.0" fill="#d06088"/>
<circle cx="3914.0" cy="1614.0" r="3.4" fill="#a03060"/>
</g>
<g filter="url(#bq2)">
<polygon points="4049.4,1989.4 4241.8,1989.4 4271.6,2089.7 4272.9,2252.2 4258.0,2284.7 4230.9,2301.0 4060.2,2303.1 4035.9,2279.3 4021.8,2252.2 4021.0,2089.7" fill="#fbfcfb"/>
<polygon points="4049.4,1989.4 4241.8,1989.4 4263.4,2073.4 4030.4,2073.4" fill="#f2f6f3"/>
<polygon points="4022.9,2231.9 4272.1,2231.9 4272.9,2252.2 4258.0,2284.7 4230.9,2301.0 4060.2,2303.1 4035.9,2279.3 4021.8,2252.2" fill="#f0f0ea"/>
<polygon points="4079.2,2074.7 4241.8,2074.7 4241.8,2231.9 4079.2,2231.9" fill="#ffffff"/>
<line x1="4125.3" y1="1932.5" x2="4114.4" y2="2040.9" stroke="#7a8480" stroke-width="3.8" stroke-linecap="round"/>
<line x1="4136.1" y1="1981.3" x2="4130.7" y2="2062.6" stroke="#b8c4c0" stroke-width="2.7" stroke-linecap="round"/>
<line x1="4165.9" y1="1932.5" x2="4174.0" y2="2051.7" stroke="#d4dcd8" stroke-width="2.4" stroke-linecap="round"/>
<line x1="4149.7" y1="1989.4" x2="4146.9" y2="2051.7" stroke="#cfe6d8" stroke-width="2.4" stroke-linecap="round"/>
<line x1="4100.9" y1="2238.7" x2="4099.5" y2="2279.3" stroke="#b0b4b8" stroke-width="2.4" stroke-linecap="round"/>
<line x1="4176.7" y1="2244.1" x2="4175.4" y2="2284.7" stroke="#c4c6c2" stroke-width="2.2" stroke-linecap="round"/>
<path d="M4021.0,2086.9 L4022.3,2252.2 Q4025.0,2284.7 4060.2,2302.6 L4230.9,2301.0 Q4266.2,2287.4 4272.9,2252.2 L4271.6,2116.7" fill="none" stroke="#161616" stroke-width="3.8" stroke-linecap="round"/>
<path d="M4038.6,1951.5 L4048.1,1984.0 Q4027.7,2030.0 4021.8,2078.8" fill="none" stroke="#161616" stroke-width="3.8" stroke-linecap="round" stroke-dasharray="0.1 7.5"/>
<path d="M4241.8,1989.4 Q4266.2,2040.9 4271.6,2111.3" fill="none" stroke="#2a2a2a" stroke-width="3.0" stroke-linecap="round" stroke-dasharray="3 9"/>
<path d="M4079.2,2074.7 L4122.6,2073.4 M4187.6,2073.4 L4241.8,2073.4" fill="none" stroke="#555" stroke-width="1.9" stroke-linecap="round" stroke-dasharray="3 5"/>
<path d="M4119.8,2231.9 L4203.8,2231.9" fill="none" stroke="#444" stroke-width="2.2" stroke-linecap="round" stroke-dasharray="3 5"/>
<path d="M4106.3,1925.7 L4107.7,1926.3 M4128.0,1926.6 L4146.9,1926.6" fill="none" stroke="#222" stroke-width="3.8" stroke-linecap="round"/>
<path d="M4044.0,1972.6 Q4144.2,1981.3 4244.5,1973.7" fill="none" stroke="#e0788c" stroke-width="7.0" stroke-linecap="round"/>
<path d="M4049.4,1967.7 L4133.4,1967.7" fill="none" stroke="#9a5a68" stroke-width="2.2" stroke-linecap="round"/>
<path d="M4244.5,1975.9 Q4271.6,1932.5 4320.3,1933.9 Q4331.2,1946.1 4298.7,1967.7 Q4271.6,1978.6 4244.5,1977.2" fill="none" stroke="#e0506e" stroke-width="3.0" stroke-linecap="round"/>
<path d="M4244.5,1975.9 Q4252.6,1940.6 4274.3,1910.8" fill="none" stroke="#ec8a9c" stroke-width="2.7" stroke-linecap="round"/>
<path d="M4243.1,1981.3 Q4263.4,2040.9 4304.1,2086.9 M4243.1,1981.3 Q4258.0,2035.5 4285.1,2078.8" fill="none" stroke="#dc4c6a" stroke-width="2.7" stroke-linecap="round"/>
<circle cx="4041.3" cy="2100.5" r="5.5" fill="#b890a8"/>
<circle cx="4068.4" cy="2086.9" r="5.5" fill="#2a1a2a"/>
<circle cx="4241.8" cy="2092.4" r="5.5" fill="#c090b0"/>
<circle cx="4214.7" cy="2092.4" r="5.5" fill="#e0c0d0"/>
<circle cx="4044.0" cy="2208.9" r="5.5" fill="#d8a8c0"/>
<circle cx="4071.1" cy="2211.6" r="5.5" fill="#e8c8d8"/>
<circle cx="4244.5" cy="2208.9" r="5.5" fill="#c890b0"/>
<circle cx="4217.4" cy="2211.6" r="5.5" fill="#e0c0d0"/>
<circle cx="4254.0" cy="2185.8" r="5.5" fill="#2a1a2a"/>
<circle cx="4038.6" cy="2179.1" r="5.5" fill="#e0c8d4"/>
</g></svg></div>
</body></html>
